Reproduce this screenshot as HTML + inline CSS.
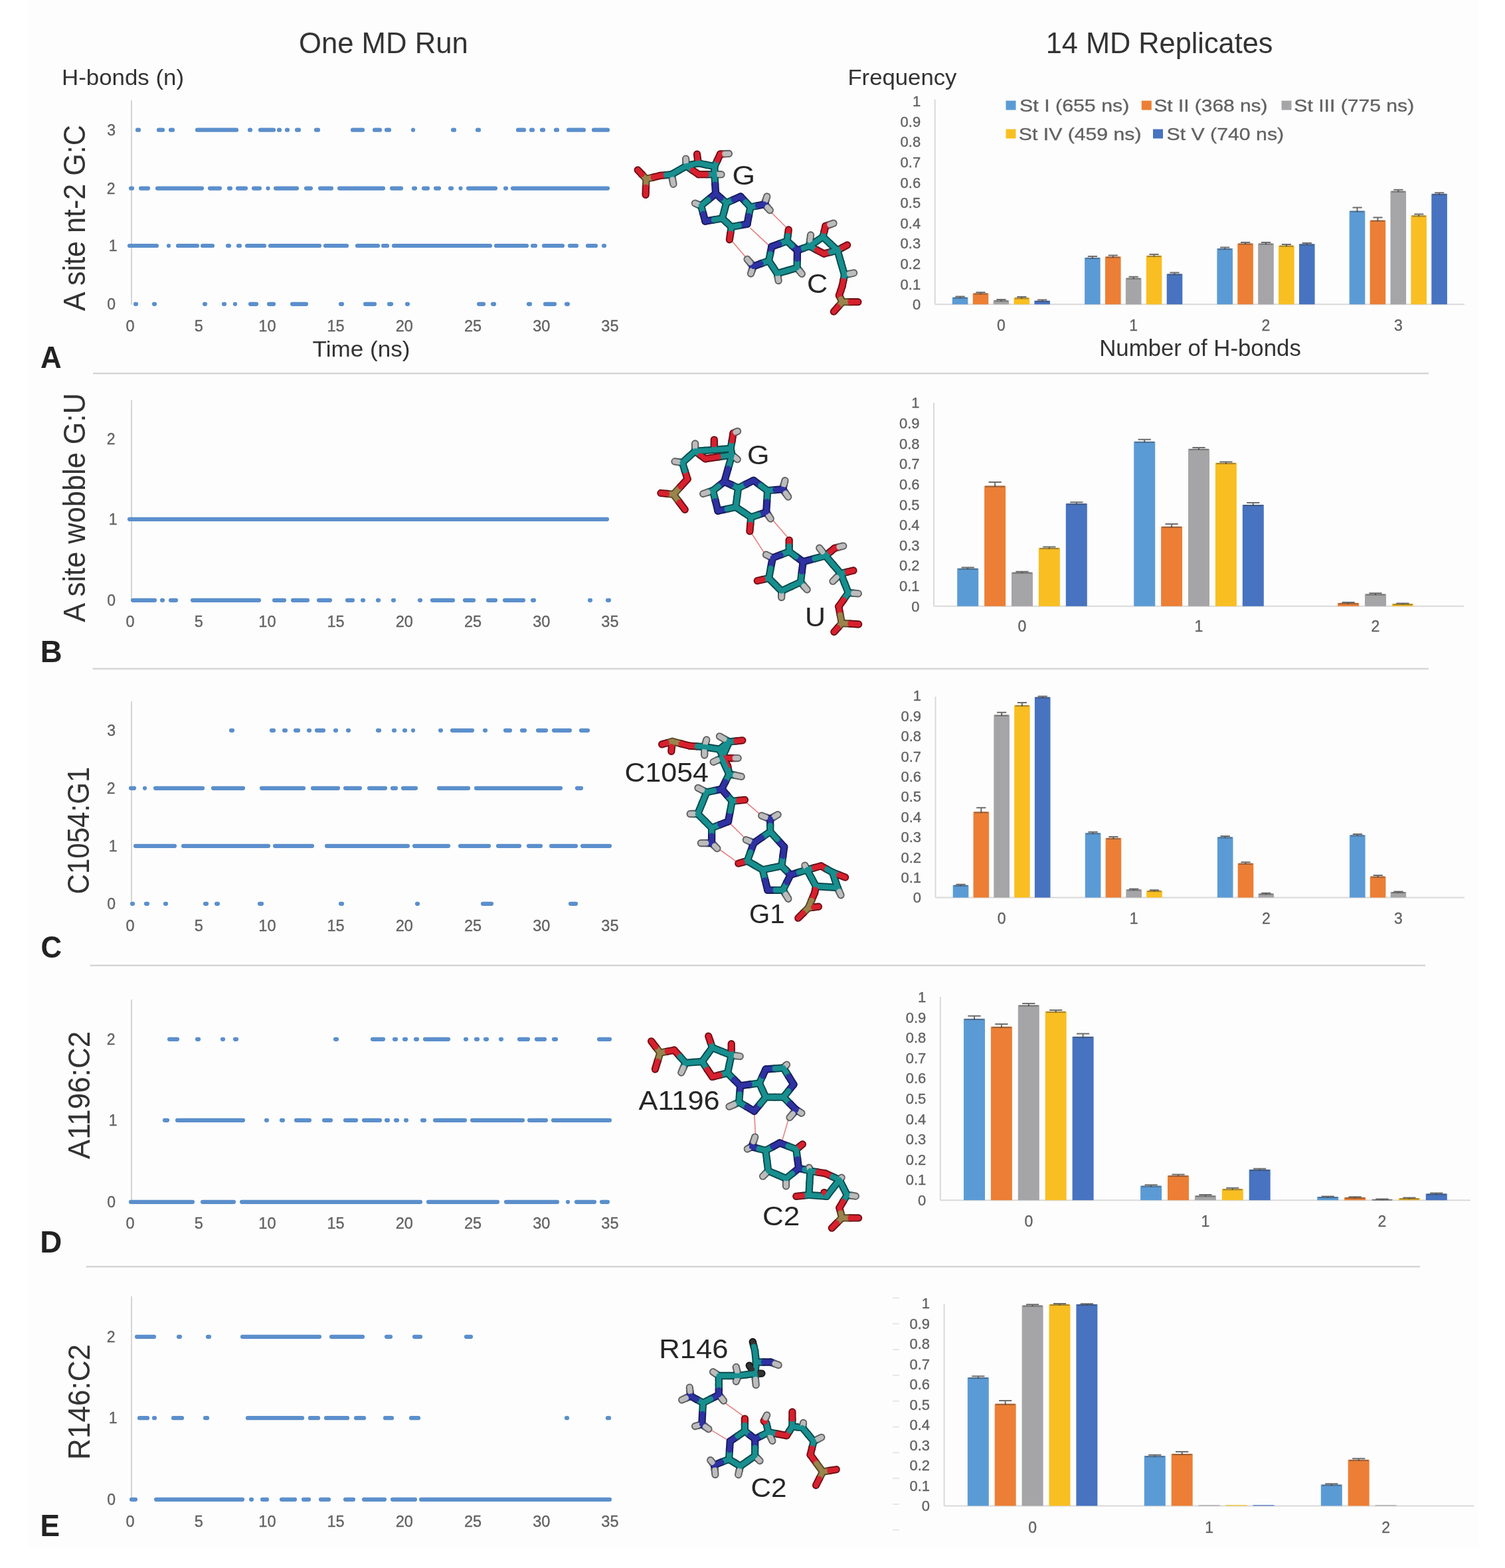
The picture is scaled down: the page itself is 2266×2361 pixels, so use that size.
<!DOCTYPE html>
<html><head><meta charset="utf-8"><title>H-bond analysis</title>
<style>
html,body{margin:0;padding:0;background:#ffffff;}
.tk{stroke:#626262;stroke-width:0.35px;}
svg{display:block;filter:blur(0.55px);font-family:"Liberation Sans",Arial,sans-serif;}
</style></head>
<body>
<svg xmlns="http://www.w3.org/2000/svg" width="2266" height="2361" viewBox="0 0 2266 2361">
<rect width="2266" height="2361" fill="#ffffff"/>
<rect x="42" y="0" width="2185" height="2332" fill="#fdfdfd"/>
<line x1="140" y1="562.3" x2="2151" y2="562.3" stroke="#d6d6d6" stroke-width="2.6"/>
<line x1="139.5" y1="1007" x2="2151" y2="1007" stroke="#d6d6d6" stroke-width="2.6"/>
<line x1="135.6" y1="1453.7" x2="2146" y2="1453.7" stroke="#d6d6d6" stroke-width="2.6"/>
<line x1="129.7" y1="1907.2" x2="2138" y2="1907.2" stroke="#d6d6d6" stroke-width="2.6"/>
<line x1="198" y1="151" x2="198" y2="458.8" stroke="#d4d4d4" stroke-width="2"/>
<text class="tk" x="196.0" y="498.5" font-size="23.5" fill="#626262" text-anchor="middle">0</text>
<text class="tk" x="299.2" y="498.5" font-size="23.5" fill="#626262" text-anchor="middle">5</text>
<text class="tk" x="402.4" y="498.5" font-size="23.5" fill="#626262" text-anchor="middle">10</text>
<text class="tk" x="505.6" y="498.5" font-size="23.5" fill="#626262" text-anchor="middle">15</text>
<text class="tk" x="608.8" y="498.5" font-size="23.5" fill="#626262" text-anchor="middle">20</text>
<text class="tk" x="712.0" y="498.5" font-size="23.5" fill="#626262" text-anchor="middle">25</text>
<text class="tk" x="815.2" y="498.5" font-size="23.5" fill="#626262" text-anchor="middle">30</text>
<text class="tk" x="918.4" y="498.5" font-size="23.5" fill="#626262" text-anchor="middle">35</text>
<g stroke="#5b8fcc" stroke-width="6.2" stroke-linecap="round">
<line x1="207.0" y1="195.7" x2="209.0" y2="195.7"/>
<line x1="239.0" y1="195.7" x2="245.0" y2="195.7"/>
<line x1="257.0" y1="195.7" x2="260.0" y2="195.7"/>
<line x1="297.0" y1="195.7" x2="356.0" y2="195.7"/>
<line x1="376.0" y1="195.7" x2="377.0" y2="195.7"/>
<line x1="392.0" y1="195.7" x2="412.0" y2="195.7"/>
<line x1="420.0" y1="195.7" x2="421.0" y2="195.7"/>
<line x1="432.0" y1="195.7" x2="433.0" y2="195.7"/>
<line x1="447.0" y1="195.7" x2="450.0" y2="195.7"/>
<line x1="476.0" y1="195.7" x2="479.0" y2="195.7"/>
<line x1="531.0" y1="195.7" x2="546.0" y2="195.7"/>
<line x1="564.0" y1="195.7" x2="572.0" y2="195.7"/>
<line x1="582.0" y1="195.7" x2="586.0" y2="195.7"/>
<line x1="622.0" y1="195.7" x2="622.0" y2="195.7"/>
<line x1="682.0" y1="195.7" x2="684.0" y2="195.7"/>
<line x1="719.0" y1="195.7" x2="721.0" y2="195.7"/>
<line x1="780.0" y1="195.7" x2="789.0" y2="195.7"/>
<line x1="800.0" y1="195.7" x2="802.0" y2="195.7"/>
<line x1="816.0" y1="195.7" x2="818.0" y2="195.7"/>
<line x1="837.0" y1="195.7" x2="839.0" y2="195.7"/>
<line x1="856.0" y1="195.7" x2="879.0" y2="195.7"/>
<line x1="894.0" y1="195.7" x2="915.0" y2="195.7"/>
<line x1="197.0" y1="283.6" x2="199.0" y2="283.6"/>
<line x1="212.0" y1="283.6" x2="223.0" y2="283.6"/>
<line x1="237.0" y1="283.6" x2="304.0" y2="283.6"/>
<line x1="316.0" y1="283.6" x2="331.0" y2="283.6"/>
<line x1="345.0" y1="283.6" x2="347.0" y2="283.6"/>
<line x1="358.0" y1="283.6" x2="370.0" y2="283.6"/>
<line x1="382.0" y1="283.6" x2="391.0" y2="283.6"/>
<line x1="403.5" y1="283.6" x2="403.5" y2="283.6"/>
<line x1="415.0" y1="283.6" x2="447.0" y2="283.6"/>
<line x1="461.0" y1="283.6" x2="468.0" y2="283.6"/>
<line x1="482.0" y1="283.6" x2="499.0" y2="283.6"/>
<line x1="511.0" y1="283.6" x2="577.0" y2="283.6"/>
<line x1="590.0" y1="283.6" x2="604.0" y2="283.6"/>
<line x1="623.0" y1="283.6" x2="625.0" y2="283.6"/>
<line x1="638.0" y1="283.6" x2="644.0" y2="283.6"/>
<line x1="656.0" y1="283.6" x2="661.0" y2="283.6"/>
<line x1="678.0" y1="283.6" x2="680.0" y2="283.6"/>
<line x1="693.5" y1="283.6" x2="693.5" y2="283.6"/>
<line x1="705.0" y1="283.6" x2="746.0" y2="283.6"/>
<line x1="761.0" y1="283.6" x2="762.0" y2="283.6"/>
<line x1="772.0" y1="283.6" x2="915.0" y2="283.6"/>
<line x1="195.0" y1="370.0" x2="236.0" y2="370.0"/>
<line x1="254.0" y1="370.0" x2="254.0" y2="370.0"/>
<line x1="268.0" y1="370.0" x2="297.0" y2="370.0"/>
<line x1="305.0" y1="370.0" x2="320.0" y2="370.0"/>
<line x1="343.0" y1="370.0" x2="345.0" y2="370.0"/>
<line x1="359.0" y1="370.0" x2="361.0" y2="370.0"/>
<line x1="372.0" y1="370.0" x2="398.0" y2="370.0"/>
<line x1="407.0" y1="370.0" x2="481.0" y2="370.0"/>
<line x1="490.0" y1="370.0" x2="522.0" y2="370.0"/>
<line x1="538.0" y1="370.0" x2="569.0" y2="370.0"/>
<line x1="577.0" y1="370.0" x2="583.0" y2="370.0"/>
<line x1="593.0" y1="370.0" x2="738.0" y2="370.0"/>
<line x1="747.0" y1="370.0" x2="793.0" y2="370.0"/>
<line x1="802.0" y1="370.0" x2="806.0" y2="370.0"/>
<line x1="819.0" y1="370.0" x2="847.0" y2="370.0"/>
<line x1="858.0" y1="370.0" x2="868.0" y2="370.0"/>
<line x1="885.0" y1="370.0" x2="897.0" y2="370.0"/>
<line x1="909.0" y1="370.0" x2="910.0" y2="370.0"/>
<line x1="204.0" y1="457.8" x2="205.0" y2="457.8"/>
<line x1="232.0" y1="457.8" x2="233.0" y2="457.8"/>
<line x1="308.0" y1="457.8" x2="309.0" y2="457.8"/>
<line x1="337.0" y1="457.8" x2="338.0" y2="457.8"/>
<line x1="354.0" y1="457.8" x2="354.0" y2="457.8"/>
<line x1="377.0" y1="457.8" x2="386.0" y2="457.8"/>
<line x1="405.0" y1="457.8" x2="412.0" y2="457.8"/>
<line x1="440.0" y1="457.8" x2="461.0" y2="457.8"/>
<line x1="513.0" y1="457.8" x2="515.0" y2="457.8"/>
<line x1="550.0" y1="457.8" x2="564.0" y2="457.8"/>
<line x1="586.0" y1="457.8" x2="589.0" y2="457.8"/>
<line x1="613.0" y1="457.8" x2="614.0" y2="457.8"/>
<line x1="721.0" y1="457.8" x2="728.0" y2="457.8"/>
<line x1="742.0" y1="457.8" x2="744.0" y2="457.8"/>
<line x1="796.0" y1="457.8" x2="798.0" y2="457.8"/>
<line x1="821.0" y1="457.8" x2="835.0" y2="457.8"/>
<line x1="853.0" y1="457.8" x2="855.0" y2="457.8"/>
</g>
<line x1="198" y1="602.5" x2="198" y2="904.8" stroke="#d4d4d4" stroke-width="2"/>
<text class="tk" x="196.0" y="944.0" font-size="23.5" fill="#626262" text-anchor="middle">0</text>
<text class="tk" x="299.2" y="944.0" font-size="23.5" fill="#626262" text-anchor="middle">5</text>
<text class="tk" x="402.4" y="944.0" font-size="23.5" fill="#626262" text-anchor="middle">10</text>
<text class="tk" x="505.6" y="944.0" font-size="23.5" fill="#626262" text-anchor="middle">15</text>
<text class="tk" x="608.8" y="944.0" font-size="23.5" fill="#626262" text-anchor="middle">20</text>
<text class="tk" x="712.0" y="944.0" font-size="23.5" fill="#626262" text-anchor="middle">25</text>
<text class="tk" x="815.2" y="944.0" font-size="23.5" fill="#626262" text-anchor="middle">30</text>
<text class="tk" x="918.4" y="944.0" font-size="23.5" fill="#626262" text-anchor="middle">35</text>
<g stroke="#5b8fcc" stroke-width="6.2" stroke-linecap="round">
<line x1="195.0" y1="781.8" x2="914.0" y2="781.8"/>
<line x1="200.0" y1="903.8" x2="233.0" y2="903.8"/>
<line x1="244.0" y1="903.8" x2="245.0" y2="903.8"/>
<line x1="257.0" y1="903.8" x2="265.0" y2="903.8"/>
<line x1="290.0" y1="903.8" x2="390.0" y2="903.8"/>
<line x1="413.0" y1="903.8" x2="428.0" y2="903.8"/>
<line x1="441.0" y1="903.8" x2="463.0" y2="903.8"/>
<line x1="480.0" y1="903.8" x2="497.0" y2="903.8"/>
<line x1="523.0" y1="903.8" x2="531.0" y2="903.8"/>
<line x1="546.0" y1="903.8" x2="547.0" y2="903.8"/>
<line x1="569.0" y1="903.8" x2="570.0" y2="903.8"/>
<line x1="592.0" y1="903.8" x2="593.0" y2="903.8"/>
<line x1="632.0" y1="903.8" x2="633.0" y2="903.8"/>
<line x1="651.0" y1="903.8" x2="682.0" y2="903.8"/>
<line x1="700.0" y1="903.8" x2="713.0" y2="903.8"/>
<line x1="735.0" y1="903.8" x2="746.0" y2="903.8"/>
<line x1="760.0" y1="903.8" x2="788.0" y2="903.8"/>
<line x1="802.0" y1="903.8" x2="804.0" y2="903.8"/>
<line x1="888.0" y1="903.8" x2="889.0" y2="903.8"/>
<line x1="915.0" y1="903.8" x2="917.0" y2="903.8"/>
</g>
<line x1="198" y1="1056" x2="198" y2="1361.8" stroke="#d4d4d4" stroke-width="2"/>
<text class="tk" x="196.0" y="1401.5" font-size="23.5" fill="#626262" text-anchor="middle">0</text>
<text class="tk" x="299.2" y="1401.5" font-size="23.5" fill="#626262" text-anchor="middle">5</text>
<text class="tk" x="402.4" y="1401.5" font-size="23.5" fill="#626262" text-anchor="middle">10</text>
<text class="tk" x="505.6" y="1401.5" font-size="23.5" fill="#626262" text-anchor="middle">15</text>
<text class="tk" x="608.8" y="1401.5" font-size="23.5" fill="#626262" text-anchor="middle">20</text>
<text class="tk" x="712.0" y="1401.5" font-size="23.5" fill="#626262" text-anchor="middle">25</text>
<text class="tk" x="815.2" y="1401.5" font-size="23.5" fill="#626262" text-anchor="middle">30</text>
<text class="tk" x="918.4" y="1401.5" font-size="23.5" fill="#626262" text-anchor="middle">35</text>
<g stroke="#5b8fcc" stroke-width="6.2" stroke-linecap="round">
<line x1="348.0" y1="1099.8" x2="350.0" y2="1099.8"/>
<line x1="409.0" y1="1099.8" x2="412.0" y2="1099.8"/>
<line x1="428.0" y1="1099.8" x2="430.0" y2="1099.8"/>
<line x1="445.0" y1="1099.8" x2="449.0" y2="1099.8"/>
<line x1="465.0" y1="1099.8" x2="466.0" y2="1099.8"/>
<line x1="477.0" y1="1099.8" x2="487.0" y2="1099.8"/>
<line x1="505.0" y1="1099.8" x2="506.0" y2="1099.8"/>
<line x1="524.0" y1="1099.8" x2="525.0" y2="1099.8"/>
<line x1="569.0" y1="1099.8" x2="571.0" y2="1099.8"/>
<line x1="593.0" y1="1099.8" x2="594.0" y2="1099.8"/>
<line x1="609.0" y1="1099.8" x2="610.0" y2="1099.8"/>
<line x1="622.0" y1="1099.8" x2="622.0" y2="1099.8"/>
<line x1="663.0" y1="1099.8" x2="664.0" y2="1099.8"/>
<line x1="681.0" y1="1099.8" x2="711.0" y2="1099.8"/>
<line x1="730.0" y1="1099.8" x2="731.0" y2="1099.8"/>
<line x1="761.0" y1="1099.8" x2="768.0" y2="1099.8"/>
<line x1="786.0" y1="1099.8" x2="790.0" y2="1099.8"/>
<line x1="810.0" y1="1099.8" x2="822.0" y2="1099.8"/>
<line x1="834.0" y1="1099.8" x2="858.0" y2="1099.8"/>
<line x1="875.0" y1="1099.8" x2="885.0" y2="1099.8"/>
<line x1="197.0" y1="1186.8" x2="202.0" y2="1186.8"/>
<line x1="218.0" y1="1186.8" x2="218.0" y2="1186.8"/>
<line x1="234.0" y1="1186.8" x2="305.0" y2="1186.8"/>
<line x1="321.0" y1="1186.8" x2="366.0" y2="1186.8"/>
<line x1="394.0" y1="1186.8" x2="457.0" y2="1186.8"/>
<line x1="471.0" y1="1186.8" x2="509.0" y2="1186.8"/>
<line x1="520.0" y1="1186.8" x2="542.0" y2="1186.8"/>
<line x1="556.0" y1="1186.8" x2="580.0" y2="1186.8"/>
<line x1="591.0" y1="1186.8" x2="596.0" y2="1186.8"/>
<line x1="607.0" y1="1186.8" x2="626.0" y2="1186.8"/>
<line x1="661.0" y1="1186.8" x2="705.0" y2="1186.8"/>
<line x1="717.0" y1="1186.8" x2="844.0" y2="1186.8"/>
<line x1="869.0" y1="1186.8" x2="875.0" y2="1186.8"/>
<line x1="204.0" y1="1273.8" x2="263.0" y2="1273.8"/>
<line x1="276.0" y1="1273.8" x2="404.0" y2="1273.8"/>
<line x1="414.0" y1="1273.8" x2="470.0" y2="1273.8"/>
<line x1="492.0" y1="1273.8" x2="614.0" y2="1273.8"/>
<line x1="624.0" y1="1273.8" x2="675.0" y2="1273.8"/>
<line x1="693.0" y1="1273.8" x2="736.0" y2="1273.8"/>
<line x1="750.0" y1="1273.8" x2="782.0" y2="1273.8"/>
<line x1="796.0" y1="1273.8" x2="814.0" y2="1273.8"/>
<line x1="830.0" y1="1273.8" x2="867.0" y2="1273.8"/>
<line x1="877.0" y1="1273.8" x2="918.0" y2="1273.8"/>
<line x1="199.0" y1="1360.8" x2="200.0" y2="1360.8"/>
<line x1="220.0" y1="1360.8" x2="222.0" y2="1360.8"/>
<line x1="249.0" y1="1360.8" x2="250.0" y2="1360.8"/>
<line x1="309.0" y1="1360.8" x2="311.0" y2="1360.8"/>
<line x1="326.0" y1="1360.8" x2="328.0" y2="1360.8"/>
<line x1="391.0" y1="1360.8" x2="394.0" y2="1360.8"/>
<line x1="513.0" y1="1360.8" x2="515.0" y2="1360.8"/>
<line x1="628.0" y1="1360.8" x2="629.0" y2="1360.8"/>
<line x1="727.0" y1="1360.8" x2="740.0" y2="1360.8"/>
<line x1="859.0" y1="1360.8" x2="867.0" y2="1360.8"/>
</g>
<line x1="198" y1="1505" x2="198" y2="1810.8" stroke="#d4d4d4" stroke-width="2"/>
<text class="tk" x="196.0" y="1850.0" font-size="23.5" fill="#626262" text-anchor="middle">0</text>
<text class="tk" x="299.2" y="1850.0" font-size="23.5" fill="#626262" text-anchor="middle">5</text>
<text class="tk" x="402.4" y="1850.0" font-size="23.5" fill="#626262" text-anchor="middle">10</text>
<text class="tk" x="505.6" y="1850.0" font-size="23.5" fill="#626262" text-anchor="middle">15</text>
<text class="tk" x="608.8" y="1850.0" font-size="23.5" fill="#626262" text-anchor="middle">20</text>
<text class="tk" x="712.0" y="1850.0" font-size="23.5" fill="#626262" text-anchor="middle">25</text>
<text class="tk" x="815.2" y="1850.0" font-size="23.5" fill="#626262" text-anchor="middle">30</text>
<text class="tk" x="918.4" y="1850.0" font-size="23.5" fill="#626262" text-anchor="middle">35</text>
<g stroke="#5b8fcc" stroke-width="6.2" stroke-linecap="round">
<line x1="255.0" y1="1564.8" x2="267.0" y2="1564.8"/>
<line x1="297.0" y1="1564.8" x2="299.0" y2="1564.8"/>
<line x1="335.0" y1="1564.8" x2="336.0" y2="1564.8"/>
<line x1="354.0" y1="1564.8" x2="356.0" y2="1564.8"/>
<line x1="505.0" y1="1564.8" x2="507.0" y2="1564.8"/>
<line x1="561.0" y1="1564.8" x2="577.0" y2="1564.8"/>
<line x1="594.0" y1="1564.8" x2="596.0" y2="1564.8"/>
<line x1="609.0" y1="1564.8" x2="611.0" y2="1564.8"/>
<line x1="626.0" y1="1564.8" x2="628.0" y2="1564.8"/>
<line x1="640.0" y1="1564.8" x2="675.0" y2="1564.8"/>
<line x1="701.0" y1="1564.8" x2="702.0" y2="1564.8"/>
<line x1="717.0" y1="1564.8" x2="719.0" y2="1564.8"/>
<line x1="731.0" y1="1564.8" x2="733.0" y2="1564.8"/>
<line x1="754.0" y1="1564.8" x2="755.0" y2="1564.8"/>
<line x1="782.0" y1="1564.8" x2="795.0" y2="1564.8"/>
<line x1="808.0" y1="1564.8" x2="820.0" y2="1564.8"/>
<line x1="834.0" y1="1564.8" x2="837.0" y2="1564.8"/>
<line x1="902.0" y1="1564.8" x2="918.0" y2="1564.8"/>
<line x1="248.0" y1="1686.8" x2="252.0" y2="1686.8"/>
<line x1="267.0" y1="1686.8" x2="366.0" y2="1686.8"/>
<line x1="401.0" y1="1686.8" x2="402.0" y2="1686.8"/>
<line x1="424.0" y1="1686.8" x2="426.0" y2="1686.8"/>
<line x1="446.0" y1="1686.8" x2="466.0" y2="1686.8"/>
<line x1="488.0" y1="1686.8" x2="498.0" y2="1686.8"/>
<line x1="520.0" y1="1686.8" x2="536.0" y2="1686.8"/>
<line x1="548.0" y1="1686.8" x2="572.0" y2="1686.8"/>
<line x1="582.0" y1="1686.8" x2="584.0" y2="1686.8"/>
<line x1="596.0" y1="1686.8" x2="598.0" y2="1686.8"/>
<line x1="611.0" y1="1686.8" x2="612.0" y2="1686.8"/>
<line x1="636.0" y1="1686.8" x2="639.0" y2="1686.8"/>
<line x1="655.0" y1="1686.8" x2="700.0" y2="1686.8"/>
<line x1="711.0" y1="1686.8" x2="787.0" y2="1686.8"/>
<line x1="797.0" y1="1686.8" x2="822.0" y2="1686.8"/>
<line x1="833.0" y1="1686.8" x2="918.0" y2="1686.8"/>
<line x1="197.0" y1="1809.8" x2="290.0" y2="1809.8"/>
<line x1="305.0" y1="1809.8" x2="352.0" y2="1809.8"/>
<line x1="364.0" y1="1809.8" x2="633.0" y2="1809.8"/>
<line x1="645.0" y1="1809.8" x2="749.0" y2="1809.8"/>
<line x1="762.0" y1="1809.8" x2="839.0" y2="1809.8"/>
<line x1="855.0" y1="1809.8" x2="855.0" y2="1809.8"/>
<line x1="868.0" y1="1809.8" x2="895.0" y2="1809.8"/>
<line x1="906.0" y1="1809.8" x2="915.0" y2="1809.8"/>
</g>
<line x1="198" y1="1952" x2="198" y2="2258.8" stroke="#d4d4d4" stroke-width="2"/>
<text class="tk" x="196.0" y="2299.0" font-size="23.5" fill="#626262" text-anchor="middle">0</text>
<text class="tk" x="299.2" y="2299.0" font-size="23.5" fill="#626262" text-anchor="middle">5</text>
<text class="tk" x="402.4" y="2299.0" font-size="23.5" fill="#626262" text-anchor="middle">10</text>
<text class="tk" x="505.6" y="2299.0" font-size="23.5" fill="#626262" text-anchor="middle">15</text>
<text class="tk" x="608.8" y="2299.0" font-size="23.5" fill="#626262" text-anchor="middle">20</text>
<text class="tk" x="712.0" y="2299.0" font-size="23.5" fill="#626262" text-anchor="middle">25</text>
<text class="tk" x="815.2" y="2299.0" font-size="23.5" fill="#626262" text-anchor="middle">30</text>
<text class="tk" x="918.4" y="2299.0" font-size="23.5" fill="#626262" text-anchor="middle">35</text>
<g stroke="#5b8fcc" stroke-width="6.2" stroke-linecap="round">
<line x1="206.0" y1="2012.8" x2="232.0" y2="2012.8"/>
<line x1="269.0" y1="2012.8" x2="271.0" y2="2012.8"/>
<line x1="313.0" y1="2012.8" x2="315.0" y2="2012.8"/>
<line x1="365.0" y1="2012.8" x2="481.0" y2="2012.8"/>
<line x1="499.0" y1="2012.8" x2="546.0" y2="2012.8"/>
<line x1="582.0" y1="2012.8" x2="588.0" y2="2012.8"/>
<line x1="624.0" y1="2012.8" x2="633.0" y2="2012.8"/>
<line x1="702.0" y1="2012.8" x2="709.0" y2="2012.8"/>
<line x1="210.0" y1="2135.2" x2="222.0" y2="2135.2"/>
<line x1="232.0" y1="2135.2" x2="233.0" y2="2135.2"/>
<line x1="261.0" y1="2135.2" x2="274.0" y2="2135.2"/>
<line x1="309.0" y1="2135.2" x2="312.0" y2="2135.2"/>
<line x1="373.0" y1="2135.2" x2="455.0" y2="2135.2"/>
<line x1="467.0" y1="2135.2" x2="479.0" y2="2135.2"/>
<line x1="491.0" y1="2135.2" x2="523.0" y2="2135.2"/>
<line x1="536.0" y1="2135.2" x2="548.0" y2="2135.2"/>
<line x1="580.0" y1="2135.2" x2="590.0" y2="2135.2"/>
<line x1="619.0" y1="2135.2" x2="630.0" y2="2135.2"/>
<line x1="853.0" y1="2135.2" x2="854.0" y2="2135.2"/>
<line x1="915.0" y1="2135.2" x2="917.0" y2="2135.2"/>
<line x1="198.0" y1="2257.8" x2="204.0" y2="2257.8"/>
<line x1="235.0" y1="2257.8" x2="365.0" y2="2257.8"/>
<line x1="378.0" y1="2257.8" x2="379.0" y2="2257.8"/>
<line x1="395.0" y1="2257.8" x2="402.0" y2="2257.8"/>
<line x1="424.0" y1="2257.8" x2="444.0" y2="2257.8"/>
<line x1="457.0" y1="2257.8" x2="465.0" y2="2257.8"/>
<line x1="483.0" y1="2257.8" x2="495.0" y2="2257.8"/>
<line x1="520.0" y1="2257.8" x2="532.0" y2="2257.8"/>
<line x1="548.0" y1="2257.8" x2="579.0" y2="2257.8"/>
<line x1="591.0" y1="2257.8" x2="625.0" y2="2257.8"/>
<line x1="634.0" y1="2257.8" x2="918.0" y2="2257.8"/>
</g>
<line x1="1407.7" y1="458.3" x2="2205" y2="458.3" stroke="#d9d9d9" stroke-width="2"/>
<line x1="1407.7" y1="150" x2="1407.7" y2="458.3" stroke="#d9d9d9" stroke-width="2"/>
<text class="tk" x="1386.2" y="466.1" font-size="22" fill="#626262" text-anchor="end">0</text>
<text class="tk" x="1386.2" y="435.5" font-size="22" fill="#626262" text-anchor="end">0.1</text>
<text class="tk" x="1386.2" y="404.9" font-size="22" fill="#626262" text-anchor="end">0.2</text>
<text class="tk" x="1386.2" y="374.3" font-size="22" fill="#626262" text-anchor="end">0.3</text>
<text class="tk" x="1386.2" y="343.7" font-size="22" fill="#626262" text-anchor="end">0.4</text>
<text class="tk" x="1386.2" y="313.1" font-size="22" fill="#626262" text-anchor="end">0.5</text>
<text class="tk" x="1386.2" y="282.5" font-size="22" fill="#626262" text-anchor="end">0.6</text>
<text class="tk" x="1386.2" y="251.9" font-size="22" fill="#626262" text-anchor="end">0.7</text>
<text class="tk" x="1386.2" y="221.3" font-size="22" fill="#626262" text-anchor="end">0.8</text>
<text class="tk" x="1386.2" y="190.7" font-size="22" fill="#626262" text-anchor="end">0.9</text>
<text class="tk" x="1386.2" y="160.1" font-size="22" fill="#626262" text-anchor="end">1</text>
<text class="tk" x="1507.4" y="497.5" font-size="23" fill="#626262" text-anchor="middle">0</text>
<rect x="1433.8" y="447.6" width="23.6" height="10.7" fill="#5b9bd5"/>
<path d="M1438.5 446.4h14.2M1445.6 446.4v2.7" stroke="#3c3c3c" stroke-width="2" fill="none" opacity="0.75"/>
<rect x="1435.3" y="447.6" width="20.6" height="2.2" fill="#404040" opacity="0.45"/>
<rect x="1464.7" y="441.5" width="23.6" height="16.8" fill="#ec7f35"/>
<path d="M1469.4 440.2h14.2M1476.5 440.2v2.7" stroke="#3c3c3c" stroke-width="2" fill="none" opacity="0.75"/>
<rect x="1466.2" y="441.5" width="20.6" height="2.2" fill="#404040" opacity="0.45"/>
<rect x="1495.6" y="452.2" width="23.6" height="6.1" fill="#a5a5a7"/>
<path d="M1500.3 451.0h14.2M1507.4 451.0v2.7" stroke="#3c3c3c" stroke-width="2" fill="none" opacity="0.75"/>
<rect x="1497.1" y="452.2" width="20.6" height="2.2" fill="#404040" opacity="0.45"/>
<rect x="1526.5" y="448.2" width="23.6" height="10.1" fill="#f9bf22"/>
<path d="M1531.2 447.0h14.2M1538.3 447.0v2.7" stroke="#3c3c3c" stroke-width="2" fill="none" opacity="0.75"/>
<rect x="1528.0" y="448.2" width="20.6" height="2.2" fill="#404040" opacity="0.45"/>
<rect x="1557.4" y="452.8" width="23.6" height="5.5" fill="#4773c0"/>
<path d="M1562.1 451.6h14.2M1569.2 451.6v2.7" stroke="#3c3c3c" stroke-width="2" fill="none" opacity="0.75"/>
<rect x="1558.9" y="452.8" width="20.6" height="2.2" fill="#404040" opacity="0.45"/>
<text class="tk" x="1706.7" y="497.5" font-size="23" fill="#626262" text-anchor="middle">1</text>
<rect x="1633.1" y="387.9" width="23.6" height="70.4" fill="#5b9bd5"/>
<path d="M1637.8 386.1h14.2M1644.9 386.1v3.3" stroke="#3c3c3c" stroke-width="2" fill="none" opacity="0.75"/>
<rect x="1634.6" y="387.9" width="20.6" height="2.2" fill="#404040" opacity="0.45"/>
<rect x="1664.0" y="386.4" width="23.6" height="71.9" fill="#ec7f35"/>
<path d="M1668.7 384.6h14.2M1675.8 384.6v3.3" stroke="#3c3c3c" stroke-width="2" fill="none" opacity="0.75"/>
<rect x="1665.5" y="386.4" width="20.6" height="2.2" fill="#404040" opacity="0.45"/>
<rect x="1694.9" y="418.5" width="23.6" height="39.8" fill="#a5a5a7"/>
<path d="M1699.6 416.7h14.2M1706.7 416.7v3.3" stroke="#3c3c3c" stroke-width="2" fill="none" opacity="0.75"/>
<rect x="1696.4" y="418.5" width="20.6" height="2.2" fill="#404040" opacity="0.45"/>
<rect x="1725.8" y="384.9" width="23.6" height="73.4" fill="#f9bf22"/>
<path d="M1730.5 383.0h14.2M1737.6 383.0v3.3" stroke="#3c3c3c" stroke-width="2" fill="none" opacity="0.75"/>
<rect x="1727.3" y="384.9" width="20.6" height="2.2" fill="#404040" opacity="0.45"/>
<rect x="1756.7" y="412.4" width="23.6" height="45.9" fill="#4773c0"/>
<path d="M1761.4 410.6h14.2M1768.5 410.6v3.3" stroke="#3c3c3c" stroke-width="2" fill="none" opacity="0.75"/>
<rect x="1758.2" y="412.4" width="20.6" height="2.2" fill="#404040" opacity="0.45"/>
<text class="tk" x="1906.0" y="497.5" font-size="23" fill="#626262" text-anchor="middle">2</text>
<rect x="1832.4" y="374.1" width="23.6" height="84.2" fill="#5b9bd5"/>
<path d="M1837.1 372.6h14.2M1844.2 372.6v3.0" stroke="#3c3c3c" stroke-width="2" fill="none" opacity="0.75"/>
<rect x="1833.9" y="374.1" width="20.6" height="2.2" fill="#404040" opacity="0.45"/>
<rect x="1863.3" y="366.5" width="23.6" height="91.8" fill="#ec7f35"/>
<path d="M1868.0 365.0h14.2M1875.1 365.0v3.0" stroke="#3c3c3c" stroke-width="2" fill="none" opacity="0.75"/>
<rect x="1864.8" y="366.5" width="20.6" height="2.2" fill="#404040" opacity="0.45"/>
<rect x="1894.2" y="366.5" width="23.6" height="91.8" fill="#a5a5a7"/>
<path d="M1898.9 365.0h14.2M1906.0 365.0v3.0" stroke="#3c3c3c" stroke-width="2" fill="none" opacity="0.75"/>
<rect x="1895.7" y="366.5" width="20.6" height="2.2" fill="#404040" opacity="0.45"/>
<rect x="1925.1" y="369.6" width="23.6" height="88.7" fill="#f9bf22"/>
<path d="M1929.8 368.0h14.2M1936.9 368.0v3.0" stroke="#3c3c3c" stroke-width="2" fill="none" opacity="0.75"/>
<rect x="1926.6" y="369.6" width="20.6" height="2.2" fill="#404040" opacity="0.45"/>
<rect x="1956.0" y="367.4" width="23.6" height="90.9" fill="#4773c0"/>
<path d="M1960.7 365.9h14.2M1967.8 365.9v3.0" stroke="#3c3c3c" stroke-width="2" fill="none" opacity="0.75"/>
<rect x="1957.5" y="367.4" width="20.6" height="2.2" fill="#404040" opacity="0.45"/>
<text class="tk" x="2105.3" y="497.5" font-size="23" fill="#626262" text-anchor="middle">3</text>
<rect x="2031.7" y="317.5" width="23.6" height="140.8" fill="#5b9bd5"/>
<path d="M2036.5 312.6h14.2M2043.5 312.6v6.4" stroke="#3c3c3c" stroke-width="2" fill="none" opacity="0.75"/>
<rect x="2033.2" y="317.5" width="20.6" height="2.2" fill="#404040" opacity="0.45"/>
<rect x="2062.6" y="331.6" width="23.6" height="126.7" fill="#ec7f35"/>
<path d="M2067.4 327.6h14.2M2074.4 327.6v5.5" stroke="#3c3c3c" stroke-width="2" fill="none" opacity="0.75"/>
<rect x="2064.1" y="331.6" width="20.6" height="2.2" fill="#404040" opacity="0.45"/>
<rect x="2093.5" y="287.6" width="23.6" height="170.7" fill="#a5a5a7"/>
<path d="M2098.3 285.7h14.2M2105.3 285.7v3.3" stroke="#3c3c3c" stroke-width="2" fill="none" opacity="0.75"/>
<rect x="2095.0" y="287.6" width="20.6" height="2.2" fill="#404040" opacity="0.45"/>
<rect x="2124.4" y="324.3" width="23.6" height="134.0" fill="#f9bf22"/>
<path d="M2129.2 322.4h14.2M2136.2 322.4v3.3" stroke="#3c3c3c" stroke-width="2" fill="none" opacity="0.75"/>
<rect x="2125.9" y="324.3" width="20.6" height="2.2" fill="#404040" opacity="0.45"/>
<rect x="2155.3" y="291.8" width="23.6" height="166.5" fill="#4773c0"/>
<path d="M2160.1 290.3h14.2M2167.1 290.3v3.0" stroke="#3c3c3c" stroke-width="2" fill="none" opacity="0.75"/>
<rect x="2156.8" y="291.8" width="20.6" height="2.2" fill="#404040" opacity="0.45"/>
<line x1="1406" y1="912.8" x2="2204" y2="912.8" stroke="#d9d9d9" stroke-width="2"/>
<line x1="1406" y1="606.6" x2="1406" y2="912.8" stroke="#d9d9d9" stroke-width="2"/>
<text class="tk" x="1384.5" y="920.6" font-size="22" fill="#626262" text-anchor="end">0</text>
<text class="tk" x="1384.5" y="890.0" font-size="22" fill="#626262" text-anchor="end">0.1</text>
<text class="tk" x="1384.5" y="859.4" font-size="22" fill="#626262" text-anchor="end">0.2</text>
<text class="tk" x="1384.5" y="828.7" font-size="22" fill="#626262" text-anchor="end">0.3</text>
<text class="tk" x="1384.5" y="798.1" font-size="22" fill="#626262" text-anchor="end">0.4</text>
<text class="tk" x="1384.5" y="767.5" font-size="22" fill="#626262" text-anchor="end">0.5</text>
<text class="tk" x="1384.5" y="736.9" font-size="22" fill="#626262" text-anchor="end">0.6</text>
<text class="tk" x="1384.5" y="706.3" font-size="22" fill="#626262" text-anchor="end">0.7</text>
<text class="tk" x="1384.5" y="675.6" font-size="22" fill="#626262" text-anchor="end">0.8</text>
<text class="tk" x="1384.5" y="645.0" font-size="22" fill="#626262" text-anchor="end">0.9</text>
<text class="tk" x="1384.5" y="614.4" font-size="22" fill="#626262" text-anchor="end">1</text>
<text class="tk" x="1539.0" y="951.0" font-size="23" fill="#626262" text-anchor="middle">0</text>
<rect x="1441.2" y="855.8" width="32" height="57.0" fill="#5b9bd5"/>
<path d="M1447.6 854.6h19.2M1457.2 854.6v2.7" stroke="#3c3c3c" stroke-width="2" fill="none" opacity="0.75"/>
<rect x="1442.7" y="855.8" width="29.0" height="2.2" fill="#404040" opacity="0.45"/>
<rect x="1482.1" y="731.5" width="32" height="181.3" fill="#ec7f35"/>
<path d="M1488.5 726.0h19.2M1498.1 726.0v7.0" stroke="#3c3c3c" stroke-width="2" fill="none" opacity="0.75"/>
<rect x="1483.6" y="731.5" width="29.0" height="2.2" fill="#404040" opacity="0.45"/>
<rect x="1523.0" y="861.7" width="32" height="51.1" fill="#a5a5a7"/>
<path d="M1529.4 860.7h19.2M1539.0 860.7v2.4" stroke="#3c3c3c" stroke-width="2" fill="none" opacity="0.75"/>
<rect x="1524.5" y="861.7" width="29.0" height="2.2" fill="#404040" opacity="0.45"/>
<rect x="1563.9" y="824.9" width="32" height="87.9" fill="#f9bf22"/>
<path d="M1570.3 823.4h19.2M1579.9 823.4v3.0" stroke="#3c3c3c" stroke-width="2" fill="none" opacity="0.75"/>
<rect x="1565.4" y="824.9" width="29.0" height="2.2" fill="#404040" opacity="0.45"/>
<rect x="1604.8" y="758.2" width="32" height="154.6" fill="#4773c0"/>
<path d="M1611.2 756.3h19.2M1620.8 756.3v3.3" stroke="#3c3c3c" stroke-width="2" fill="none" opacity="0.75"/>
<rect x="1606.3" y="758.2" width="29.0" height="2.2" fill="#404040" opacity="0.45"/>
<text class="tk" x="1805.0" y="951.0" font-size="23" fill="#626262" text-anchor="middle">1</text>
<rect x="1707.2" y="664.8" width="32" height="248.0" fill="#5b9bd5"/>
<path d="M1713.6 661.7h19.2M1723.2 661.7v4.6" stroke="#3c3c3c" stroke-width="2" fill="none" opacity="0.75"/>
<rect x="1708.7" y="664.8" width="29.0" height="2.2" fill="#404040" opacity="0.45"/>
<rect x="1748.1" y="792.8" width="32" height="120.0" fill="#ec7f35"/>
<path d="M1754.5 789.1h19.2M1764.1 789.1v5.2" stroke="#3c3c3c" stroke-width="2" fill="none" opacity="0.75"/>
<rect x="1749.6" y="792.8" width="29.0" height="2.2" fill="#404040" opacity="0.45"/>
<rect x="1789.0" y="675.8" width="32" height="237.0" fill="#a5a5a7"/>
<path d="M1795.4 674.0h19.2M1805.0 674.0v3.3" stroke="#3c3c3c" stroke-width="2" fill="none" opacity="0.75"/>
<rect x="1790.5" y="675.8" width="29.0" height="2.2" fill="#404040" opacity="0.45"/>
<rect x="1829.9" y="696.9" width="32" height="215.9" fill="#f9bf22"/>
<path d="M1836.3 695.4h19.2M1845.9 695.4v3.0" stroke="#3c3c3c" stroke-width="2" fill="none" opacity="0.75"/>
<rect x="1831.4" y="696.9" width="29.0" height="2.2" fill="#404040" opacity="0.45"/>
<rect x="1870.8" y="760.0" width="32" height="152.8" fill="#4773c0"/>
<path d="M1877.2 756.9h19.2M1886.8 756.9v4.6" stroke="#3c3c3c" stroke-width="2" fill="none" opacity="0.75"/>
<rect x="1872.3" y="760.0" width="29.0" height="2.2" fill="#404040" opacity="0.45"/>
<text class="tk" x="2071.0" y="951.0" font-size="23" fill="#626262" text-anchor="middle">2</text>
<rect x="2014.1" y="907.9" width="32" height="4.9" fill="#ec7f35"/>
<path d="M2020.5 907.0h19.2M2030.1 907.0v2.4" stroke="#3c3c3c" stroke-width="2" fill="none" opacity="0.75"/>
<rect x="2015.6" y="907.9" width="29.0" height="2.2" fill="#404040" opacity="0.45"/>
<rect x="2055.0" y="894.4" width="32" height="18.4" fill="#a5a5a7"/>
<path d="M2061.4 893.2h19.2M2071.0 893.2v2.7" stroke="#3c3c3c" stroke-width="2" fill="none" opacity="0.75"/>
<rect x="2056.5" y="894.4" width="29.0" height="2.2" fill="#404040" opacity="0.45"/>
<rect x="2095.9" y="909.1" width="32" height="3.7" fill="#f9bf22"/>
<path d="M2102.3 908.5h19.2M2111.9 908.5v2.1" stroke="#3c3c3c" stroke-width="2" fill="none" opacity="0.75"/>
<rect x="2097.4" y="909.1" width="29.0" height="2.2" fill="#404040" opacity="0.45"/>
<line x1="1408.5" y1="1351.5" x2="2205" y2="1351.5" stroke="#d9d9d9" stroke-width="2"/>
<line x1="1408.5" y1="1049" x2="1408.5" y2="1351.5" stroke="#d9d9d9" stroke-width="2"/>
<text class="tk" x="1387.0" y="1359.3" font-size="22" fill="#626262" text-anchor="end">0</text>
<text class="tk" x="1387.0" y="1328.9" font-size="22" fill="#626262" text-anchor="end">0.1</text>
<text class="tk" x="1387.0" y="1298.5" font-size="22" fill="#626262" text-anchor="end">0.2</text>
<text class="tk" x="1387.0" y="1268.1" font-size="22" fill="#626262" text-anchor="end">0.3</text>
<text class="tk" x="1387.0" y="1237.7" font-size="22" fill="#626262" text-anchor="end">0.4</text>
<text class="tk" x="1387.0" y="1207.3" font-size="22" fill="#626262" text-anchor="end">0.5</text>
<text class="tk" x="1387.0" y="1176.9" font-size="22" fill="#626262" text-anchor="end">0.6</text>
<text class="tk" x="1387.0" y="1146.5" font-size="22" fill="#626262" text-anchor="end">0.7</text>
<text class="tk" x="1387.0" y="1116.1" font-size="22" fill="#626262" text-anchor="end">0.8</text>
<text class="tk" x="1387.0" y="1085.7" font-size="22" fill="#626262" text-anchor="end">0.9</text>
<text class="tk" x="1387.0" y="1055.3" font-size="22" fill="#626262" text-anchor="end">1</text>
<text class="tk" x="1508.1" y="1391.0" font-size="23" fill="#626262" text-anchor="middle">0</text>
<rect x="1434.7" y="1332.7" width="23.6" height="18.8" fill="#5b9bd5"/>
<path d="M1439.4 1331.7h14.2M1446.5 1331.7v2.4" stroke="#3c3c3c" stroke-width="2" fill="none" opacity="0.75"/>
<rect x="1436.2" y="1332.7" width="20.6" height="2.2" fill="#404040" opacity="0.45"/>
<rect x="1465.5" y="1222.3" width="23.6" height="129.2" fill="#ec7f35"/>
<path d="M1470.2 1216.2h14.2M1477.3 1216.2v7.6" stroke="#3c3c3c" stroke-width="2" fill="none" opacity="0.75"/>
<rect x="1467.0" y="1222.3" width="20.6" height="2.2" fill="#404040" opacity="0.45"/>
<rect x="1496.3" y="1076.4" width="23.6" height="275.1" fill="#a5a5a7"/>
<path d="M1501.0 1072.7h14.2M1508.1 1072.7v5.1" stroke="#3c3c3c" stroke-width="2" fill="none" opacity="0.75"/>
<rect x="1497.8" y="1076.4" width="20.6" height="2.2" fill="#404040" opacity="0.45"/>
<rect x="1527.1" y="1061.8" width="23.6" height="289.7" fill="#f9bf22"/>
<path d="M1531.8 1058.1h14.2M1538.9 1058.1v5.1" stroke="#3c3c3c" stroke-width="2" fill="none" opacity="0.75"/>
<rect x="1528.6" y="1061.8" width="20.6" height="2.2" fill="#404040" opacity="0.45"/>
<rect x="1557.9" y="1049.6" width="23.6" height="301.9" fill="#4773c0"/>
<path d="M1562.6 1048.4h14.2M1569.7 1048.4v2.7" stroke="#3c3c3c" stroke-width="2" fill="none" opacity="0.75"/>
<rect x="1559.4" y="1049.6" width="20.6" height="2.2" fill="#404040" opacity="0.45"/>
<text class="tk" x="1707.2" y="1391.0" font-size="23" fill="#626262" text-anchor="middle">1</text>
<rect x="1633.8" y="1254.2" width="23.6" height="97.3" fill="#5b9bd5"/>
<path d="M1638.5 1252.7h14.2M1645.6 1252.7v3.0" stroke="#3c3c3c" stroke-width="2" fill="none" opacity="0.75"/>
<rect x="1635.3" y="1254.2" width="20.6" height="2.2" fill="#404040" opacity="0.45"/>
<rect x="1664.6" y="1261.8" width="23.6" height="89.7" fill="#ec7f35"/>
<path d="M1669.3 1260.0h14.2M1676.4 1260.0v3.3" stroke="#3c3c3c" stroke-width="2" fill="none" opacity="0.75"/>
<rect x="1666.1" y="1261.8" width="20.6" height="2.2" fill="#404040" opacity="0.45"/>
<rect x="1695.4" y="1339.3" width="23.6" height="12.2" fill="#a5a5a7"/>
<path d="M1700.1 1338.4h14.2M1707.2 1338.4v2.4" stroke="#3c3c3c" stroke-width="2" fill="none" opacity="0.75"/>
<rect x="1696.9" y="1339.3" width="20.6" height="2.2" fill="#404040" opacity="0.45"/>
<rect x="1726.2" y="1340.9" width="23.6" height="10.6" fill="#f9bf22"/>
<path d="M1730.9 1340.3h14.2M1738.0 1340.3v2.1" stroke="#3c3c3c" stroke-width="2" fill="none" opacity="0.75"/>
<rect x="1727.7" y="1340.9" width="20.6" height="2.2" fill="#404040" opacity="0.45"/>
<text class="tk" x="1906.3" y="1391.0" font-size="23" fill="#626262" text-anchor="middle">2</text>
<rect x="1832.9" y="1260.3" width="23.6" height="91.2" fill="#5b9bd5"/>
<path d="M1837.6 1259.1h14.2M1844.7 1259.1v2.7" stroke="#3c3c3c" stroke-width="2" fill="none" opacity="0.75"/>
<rect x="1834.4" y="1260.3" width="20.6" height="2.2" fill="#404040" opacity="0.45"/>
<rect x="1863.7" y="1299.8" width="23.6" height="51.7" fill="#ec7f35"/>
<path d="M1868.4 1298.3h14.2M1875.5 1298.3v3.0" stroke="#3c3c3c" stroke-width="2" fill="none" opacity="0.75"/>
<rect x="1865.2" y="1299.8" width="20.6" height="2.2" fill="#404040" opacity="0.45"/>
<rect x="1894.5" y="1345.4" width="23.6" height="6.1" fill="#a5a5a7"/>
<path d="M1899.2 1344.8h14.2M1906.3 1344.8v2.1" stroke="#3c3c3c" stroke-width="2" fill="none" opacity="0.75"/>
<rect x="1896.0" y="1345.4" width="20.6" height="2.2" fill="#404040" opacity="0.45"/>
<text class="tk" x="2105.4" y="1391.0" font-size="23" fill="#626262" text-anchor="middle">3</text>
<rect x="2032.0" y="1257.3" width="23.6" height="94.2" fill="#5b9bd5"/>
<path d="M2036.8 1256.0h14.2M2043.8 1256.0v2.7" stroke="#3c3c3c" stroke-width="2" fill="none" opacity="0.75"/>
<rect x="2033.5" y="1257.3" width="20.6" height="2.2" fill="#404040" opacity="0.45"/>
<rect x="2062.8" y="1319.6" width="23.6" height="31.9" fill="#ec7f35"/>
<path d="M2067.6 1318.1h14.2M2074.6 1318.1v3.0" stroke="#3c3c3c" stroke-width="2" fill="none" opacity="0.75"/>
<rect x="2064.3" y="1319.6" width="20.6" height="2.2" fill="#404040" opacity="0.45"/>
<rect x="2093.6" y="1343.0" width="23.6" height="8.5" fill="#a5a5a7"/>
<path d="M2098.4 1342.4h14.2M2105.4 1342.4v2.1" stroke="#3c3c3c" stroke-width="2" fill="none" opacity="0.75"/>
<rect x="2095.1" y="1343.0" width="20.6" height="2.2" fill="#404040" opacity="0.45"/>
<line x1="1415.8" y1="1807.2" x2="2214" y2="1807.2" stroke="#d9d9d9" stroke-width="2"/>
<line x1="1415.8" y1="1501" x2="1415.8" y2="1807.2" stroke="#d9d9d9" stroke-width="2"/>
<text class="tk" x="1394.3" y="1815.0" font-size="22" fill="#626262" text-anchor="end">0</text>
<text class="tk" x="1394.3" y="1784.4" font-size="22" fill="#626262" text-anchor="end">0.1</text>
<text class="tk" x="1394.3" y="1753.8" font-size="22" fill="#626262" text-anchor="end">0.2</text>
<text class="tk" x="1394.3" y="1723.2" font-size="22" fill="#626262" text-anchor="end">0.3</text>
<text class="tk" x="1394.3" y="1692.6" font-size="22" fill="#626262" text-anchor="end">0.4</text>
<text class="tk" x="1394.3" y="1662.0" font-size="22" fill="#626262" text-anchor="end">0.5</text>
<text class="tk" x="1394.3" y="1631.4" font-size="22" fill="#626262" text-anchor="end">0.6</text>
<text class="tk" x="1394.3" y="1600.8" font-size="22" fill="#626262" text-anchor="end">0.7</text>
<text class="tk" x="1394.3" y="1570.2" font-size="22" fill="#626262" text-anchor="end">0.8</text>
<text class="tk" x="1394.3" y="1539.6" font-size="22" fill="#626262" text-anchor="end">0.9</text>
<text class="tk" x="1394.3" y="1509.0" font-size="22" fill="#626262" text-anchor="end">1</text>
<text class="tk" x="1548.8" y="1847.0" font-size="23" fill="#626262" text-anchor="middle">0</text>
<rect x="1451.0" y="1533.9" width="32" height="273.3" fill="#5b9bd5"/>
<path d="M1457.4 1529.7h19.2M1467.0 1529.7v5.8" stroke="#3c3c3c" stroke-width="2" fill="none" opacity="0.75"/>
<rect x="1452.5" y="1533.9" width="29.0" height="2.2" fill="#404040" opacity="0.45"/>
<rect x="1491.9" y="1545.9" width="32" height="261.3" fill="#ec7f35"/>
<path d="M1498.3 1541.9h19.2M1507.9 1541.9v5.5" stroke="#3c3c3c" stroke-width="2" fill="none" opacity="0.75"/>
<rect x="1493.4" y="1545.9" width="29.0" height="2.2" fill="#404040" opacity="0.45"/>
<rect x="1532.8" y="1513.4" width="32" height="293.8" fill="#a5a5a7"/>
<path d="M1539.2 1511.0h19.2M1548.8 1511.0v3.9" stroke="#3c3c3c" stroke-width="2" fill="none" opacity="0.75"/>
<rect x="1534.3" y="1513.4" width="29.0" height="2.2" fill="#404040" opacity="0.45"/>
<rect x="1573.7" y="1522.9" width="32" height="284.3" fill="#f9bf22"/>
<path d="M1580.1 1521.1h19.2M1589.7 1521.1v3.3" stroke="#3c3c3c" stroke-width="2" fill="none" opacity="0.75"/>
<rect x="1575.2" y="1522.9" width="29.0" height="2.2" fill="#404040" opacity="0.45"/>
<rect x="1614.6" y="1560.9" width="32" height="246.3" fill="#4773c0"/>
<path d="M1621.0 1556.6h19.2M1630.6 1556.6v5.8" stroke="#3c3c3c" stroke-width="2" fill="none" opacity="0.75"/>
<rect x="1616.1" y="1560.9" width="29.0" height="2.2" fill="#404040" opacity="0.45"/>
<text class="tk" x="1814.9" y="1847.0" font-size="23" fill="#626262" text-anchor="middle">1</text>
<rect x="1717.1" y="1785.5" width="32" height="21.7" fill="#5b9bd5"/>
<path d="M1723.5 1784.3h19.2M1733.1 1784.3v2.7" stroke="#3c3c3c" stroke-width="2" fill="none" opacity="0.75"/>
<rect x="1718.6" y="1785.5" width="29.0" height="2.2" fill="#404040" opacity="0.45"/>
<rect x="1758.0" y="1769.9" width="32" height="37.3" fill="#ec7f35"/>
<path d="M1764.4 1768.6h19.2M1774.0 1768.6v2.7" stroke="#3c3c3c" stroke-width="2" fill="none" opacity="0.75"/>
<rect x="1759.5" y="1769.9" width="29.0" height="2.2" fill="#404040" opacity="0.45"/>
<rect x="1798.9" y="1800.2" width="32" height="7.0" fill="#a5a5a7"/>
<path d="M1805.3 1798.9h19.2M1814.9 1798.9v2.7" stroke="#3c3c3c" stroke-width="2" fill="none" opacity="0.75"/>
<rect x="1800.4" y="1800.2" width="29.0" height="2.2" fill="#404040" opacity="0.45"/>
<rect x="1839.8" y="1790.1" width="32" height="17.1" fill="#f9bf22"/>
<path d="M1846.2 1788.8h19.2M1855.8 1788.8v2.7" stroke="#3c3c3c" stroke-width="2" fill="none" opacity="0.75"/>
<rect x="1841.3" y="1790.1" width="29.0" height="2.2" fill="#404040" opacity="0.45"/>
<rect x="1880.7" y="1761.0" width="32" height="46.2" fill="#4773c0"/>
<path d="M1887.1 1759.8h19.2M1896.7 1759.8v2.7" stroke="#3c3c3c" stroke-width="2" fill="none" opacity="0.75"/>
<rect x="1882.2" y="1761.0" width="29.0" height="2.2" fill="#404040" opacity="0.45"/>
<text class="tk" x="2081.0" y="1847.0" font-size="23" fill="#626262" text-anchor="middle">2</text>
<rect x="1983.2" y="1802.0" width="32" height="5.2" fill="#5b9bd5"/>
<path d="M1989.6 1801.4h19.2M1999.2 1801.4v2.1" stroke="#3c3c3c" stroke-width="2" fill="none" opacity="0.75"/>
<rect x="1984.7" y="1802.0" width="29.0" height="2.2" fill="#404040" opacity="0.45"/>
<rect x="2024.1" y="1802.9" width="32" height="4.3" fill="#ec7f35"/>
<path d="M2030.5 1802.3h19.2M2040.1 1802.3v2.1" stroke="#3c3c3c" stroke-width="2" fill="none" opacity="0.75"/>
<rect x="2025.6" y="1802.9" width="29.0" height="2.2" fill="#404040" opacity="0.45"/>
<rect x="2065.0" y="1805.7" width="32" height="1.5" fill="#a5a5a7"/>
<path d="M2071.4 1805.4h19.2M2081.0 1805.4v1.8" stroke="#3c3c3c" stroke-width="2" fill="none" opacity="0.75"/>
<rect x="2066.5" y="1805.7" width="29.0" height="2.2" fill="#404040" opacity="0.45"/>
<rect x="2105.9" y="1804.1" width="32" height="3.1" fill="#f9bf22"/>
<path d="M2112.3 1803.5h19.2M2121.9 1803.5v2.1" stroke="#3c3c3c" stroke-width="2" fill="none" opacity="0.75"/>
<rect x="2107.4" y="1804.1" width="29.0" height="2.2" fill="#404040" opacity="0.45"/>
<rect x="2146.8" y="1797.4" width="32" height="9.8" fill="#4773c0"/>
<path d="M2153.2 1796.5h19.2M2162.8 1796.5v2.4" stroke="#3c3c3c" stroke-width="2" fill="none" opacity="0.75"/>
<rect x="2148.3" y="1797.4" width="29.0" height="2.2" fill="#404040" opacity="0.45"/>
<line x1="1421.6" y1="2267.4" x2="2219.6" y2="2267.4" stroke="#d9d9d9" stroke-width="2"/>
<line x1="1421.6" y1="1963" x2="1421.6" y2="2267.4" stroke="#d9d9d9" stroke-width="2"/>
<text class="tk" x="1400.1" y="2275.2" font-size="22" fill="#626262" text-anchor="end">0</text>
<text class="tk" x="1400.1" y="2244.7" font-size="22" fill="#626262" text-anchor="end">0.1</text>
<text class="tk" x="1400.1" y="2214.2" font-size="22" fill="#626262" text-anchor="end">0.2</text>
<text class="tk" x="1400.1" y="2183.7" font-size="22" fill="#626262" text-anchor="end">0.3</text>
<text class="tk" x="1400.1" y="2153.2" font-size="22" fill="#626262" text-anchor="end">0.4</text>
<text class="tk" x="1400.1" y="2122.7" font-size="22" fill="#626262" text-anchor="end">0.5</text>
<text class="tk" x="1400.1" y="2092.2" font-size="22" fill="#626262" text-anchor="end">0.6</text>
<text class="tk" x="1400.1" y="2061.7" font-size="22" fill="#626262" text-anchor="end">0.7</text>
<text class="tk" x="1400.1" y="2031.2" font-size="22" fill="#626262" text-anchor="end">0.8</text>
<text class="tk" x="1400.1" y="2000.7" font-size="22" fill="#626262" text-anchor="end">0.9</text>
<text class="tk" x="1400.1" y="1970.2" font-size="22" fill="#626262" text-anchor="end">1</text>
<text class="tk" x="1554.6" y="2308.0" font-size="23" fill="#626262" text-anchor="middle">0</text>
<rect x="1456.8" y="2074.0" width="32" height="193.4" fill="#5b9bd5"/>
<path d="M1463.2 2072.2h19.2M1472.8 2072.2v3.3" stroke="#3c3c3c" stroke-width="2" fill="none" opacity="0.75"/>
<rect x="1458.3" y="2074.0" width="29.0" height="2.2" fill="#404040" opacity="0.45"/>
<rect x="1497.7" y="2113.7" width="32" height="153.7" fill="#ec7f35"/>
<path d="M1504.1 2109.1h19.2M1513.7 2109.1v6.1" stroke="#3c3c3c" stroke-width="2" fill="none" opacity="0.75"/>
<rect x="1499.2" y="2113.7" width="29.0" height="2.2" fill="#404040" opacity="0.45"/>
<rect x="1538.6" y="1965.5" width="32" height="301.9" fill="#a5a5a7"/>
<path d="M1545.0 1964.2h19.2M1554.6 1964.2v2.7" stroke="#3c3c3c" stroke-width="2" fill="none" opacity="0.75"/>
<rect x="1540.1" y="1965.5" width="29.0" height="2.2" fill="#404040" opacity="0.45"/>
<rect x="1579.5" y="1963.9" width="32" height="303.5" fill="#f9bf22"/>
<path d="M1585.9 1963.0h19.2M1595.5 1963.0v2.4" stroke="#3c3c3c" stroke-width="2" fill="none" opacity="0.75"/>
<rect x="1581.0" y="1963.9" width="29.0" height="2.2" fill="#404040" opacity="0.45"/>
<rect x="1620.4" y="1963.9" width="32" height="303.5" fill="#4773c0"/>
<path d="M1626.8 1963.3h19.2M1636.4 1963.3v2.1" stroke="#3c3c3c" stroke-width="2" fill="none" opacity="0.75"/>
<rect x="1621.9" y="1963.9" width="29.0" height="2.2" fill="#404040" opacity="0.45"/>
<text class="tk" x="1820.6" y="2308.0" font-size="23" fill="#626262" text-anchor="middle">1</text>
<rect x="1722.8" y="2192.1" width="32" height="75.3" fill="#5b9bd5"/>
<path d="M1729.2 2190.8h19.2M1738.8 2190.8v2.7" stroke="#3c3c3c" stroke-width="2" fill="none" opacity="0.75"/>
<rect x="1724.3" y="2192.1" width="29.0" height="2.2" fill="#404040" opacity="0.45"/>
<rect x="1763.7" y="2189.0" width="32" height="78.4" fill="#ec7f35"/>
<path d="M1770.1 2186.0h19.2M1779.7 2186.0v4.6" stroke="#3c3c3c" stroke-width="2" fill="none" opacity="0.75"/>
<rect x="1765.2" y="2189.0" width="29.0" height="2.2" fill="#404040" opacity="0.45"/>
<rect x="1804.6" y="2266.2" width="32" height="1.2" fill="#a5a5a7"/>
<rect x="1845.5" y="2266.2" width="32" height="1.2" fill="#f9bf22"/>
<rect x="1886.4" y="2266.2" width="32" height="1.2" fill="#4773c0"/>
<text class="tk" x="2086.6" y="2308.0" font-size="23" fill="#626262" text-anchor="middle">2</text>
<rect x="1988.8" y="2235.4" width="32" height="32.0" fill="#5b9bd5"/>
<path d="M1995.2 2234.2h19.2M2004.8 2234.2v2.7" stroke="#3c3c3c" stroke-width="2" fill="none" opacity="0.75"/>
<rect x="1990.3" y="2235.4" width="29.0" height="2.2" fill="#404040" opacity="0.45"/>
<rect x="2029.7" y="2197.9" width="32" height="69.5" fill="#ec7f35"/>
<path d="M2036.1 2196.3h19.2M2045.7 2196.3v3.0" stroke="#3c3c3c" stroke-width="2" fill="none" opacity="0.75"/>
<rect x="2031.2" y="2197.9" width="29.0" height="2.2" fill="#404040" opacity="0.45"/>
<rect x="2070.6" y="2266.2" width="32" height="1.2" fill="#a5a5a7"/>
<line x1="1344" y1="1954.5" x2="1354" y2="1954.5" stroke="#e6e6e6" stroke-width="2"/>
<line x1="1344" y1="1993.3" x2="1354" y2="1993.3" stroke="#e6e6e6" stroke-width="2"/>
<line x1="1344" y1="2032.1" x2="1354" y2="2032.1" stroke="#e6e6e6" stroke-width="2"/>
<line x1="1344" y1="2070.9" x2="1354" y2="2070.9" stroke="#e6e6e6" stroke-width="2"/>
<line x1="1344" y1="2109.7" x2="1354" y2="2109.7" stroke="#e6e6e6" stroke-width="2"/>
<line x1="1344" y1="2148.5" x2="1354" y2="2148.5" stroke="#e6e6e6" stroke-width="2"/>
<line x1="1344" y1="2187.3" x2="1354" y2="2187.3" stroke="#e6e6e6" stroke-width="2"/>
<line x1="1344" y1="2226.1" x2="1354" y2="2226.1" stroke="#e6e6e6" stroke-width="2"/>
<line x1="1344" y1="2264.9" x2="1354" y2="2264.9" stroke="#e6e6e6" stroke-width="2"/>
<line x1="1344" y1="2303.7" x2="1354" y2="2303.7" stroke="#e6e6e6" stroke-width="2"/>
<rect x="1514.5" y="151.6" width="15" height="14" fill="#5b9bd5"/>
<rect x="1718.8" y="151.6" width="15" height="14" fill="#ec7f35"/>
<rect x="1929.5" y="151.6" width="15" height="14" fill="#a5a5a7"/>
<rect x="1514.5" y="194.5" width="15" height="14" fill="#f9bf22"/>
<rect x="1736" y="194.5" width="15" height="14" fill="#4773c0"/>
<g stroke-linecap="round">
<line x1="1159.7" y1="318.2" x2="1185.2" y2="343.7" stroke="#e88080" stroke-width="1.6"/>
<line x1="1129.9" y1="343.7" x2="1159.7" y2="371.4" stroke="#e88080" stroke-width="1.6"/>
<line x1="1100.1" y1="360.8" x2="1125.6" y2="390.5" stroke="#e88080" stroke-width="1.6"/>
<line x1="973.0" y1="269.5" x2="966.6" y2="262.7" stroke="#584826" stroke-width="11.3"/>
<line x1="960.2" y1="255.9" x2="966.6" y2="262.7" stroke="#6e0c14" stroke-width="11.3"/>
<line x1="973.0" y1="269.5" x2="972.5" y2="281.4" stroke="#584826" stroke-width="11.3"/>
<line x1="972.1" y1="293.3" x2="972.5" y2="281.4" stroke="#6e0c14" stroke-width="11.3"/>
<line x1="973.0" y1="269.5" x2="983.5" y2="267.0" stroke="#584826" stroke-width="11.3"/>
<line x1="994.0" y1="264.4" x2="983.5" y2="267.0" stroke="#6e0c14" stroke-width="11.3"/>
<line x1="994.0" y1="264.4" x2="1002.5" y2="263.6" stroke="#6e0c14" stroke-width="11.3"/>
<line x1="1011.0" y1="262.7" x2="1002.5" y2="263.6" stroke="#0a4a4c" stroke-width="11.3"/>
<line x1="1011.0" y1="262.7" x2="1012.5" y2="270.0" stroke="#0a4a4c" stroke-width="11.3"/>
<line x1="1013.9" y1="277.2" x2="1012.5" y2="270.0" stroke="#5e5e5e" stroke-width="11.3"/>
<line x1="1011.0" y1="262.7" x2="1022.2" y2="256.3" stroke="#0a4a4c" stroke-width="11.3"/>
<line x1="1033.3" y1="250.0" x2="1022.2" y2="256.3" stroke="#0a4a4c" stroke-width="11.3"/>
<line x1="1033.3" y1="250.0" x2="1033.0" y2="244.5" stroke="#0a4a4c" stroke-width="11.3"/>
<line x1="1032.6" y1="239.1" x2="1033.0" y2="244.5" stroke="#5e5e5e" stroke-width="11.3"/>
<line x1="1033.3" y1="250.0" x2="1042.6" y2="256.3" stroke="#0a4a4c" stroke-width="11.3"/>
<line x1="1051.9" y1="262.7" x2="1042.6" y2="256.3" stroke="#6e0c14" stroke-width="11.3"/>
<line x1="1033.3" y1="250.0" x2="1042.3" y2="247.8" stroke="#0a4a4c" stroke-width="11.3"/>
<line x1="1051.2" y1="245.7" x2="1042.3" y2="247.8" stroke="#0a4a4c" stroke-width="11.3"/>
<line x1="1051.2" y1="245.7" x2="1050.4" y2="238.9" stroke="#0a4a4c" stroke-width="11.3"/>
<line x1="1049.5" y1="232.1" x2="1050.4" y2="238.9" stroke="#6e0c14" stroke-width="11.3"/>
<line x1="1051.2" y1="245.7" x2="1063.5" y2="248.2" stroke="#0a4a4c" stroke-width="11.3"/>
<line x1="1075.9" y1="250.6" x2="1063.5" y2="248.2" stroke="#0a4a4c" stroke-width="11.3"/>
<line x1="1075.9" y1="250.6" x2="1080.1" y2="241.4" stroke="#0a4a4c" stroke-width="11.3"/>
<line x1="1084.4" y1="232.1" x2="1080.1" y2="241.4" stroke="#6e0c14" stroke-width="11.3"/>
<line x1="1084.4" y1="232.1" x2="1090.9" y2="231.7" stroke="#6e0c14" stroke-width="11.3"/>
<line x1="1097.4" y1="231.4" x2="1090.9" y2="231.7" stroke="#5e5e5e" stroke-width="11.3"/>
<line x1="1075.9" y1="250.6" x2="1075.9" y2="256.7" stroke="#0a4a4c" stroke-width="11.3"/>
<line x1="1075.9" y1="262.7" x2="1075.9" y2="256.7" stroke="#0a4a4c" stroke-width="11.3"/>
<line x1="1075.9" y1="262.7" x2="1063.9" y2="262.7" stroke="#0a4a4c" stroke-width="11.3"/>
<line x1="1051.9" y1="262.7" x2="1063.9" y2="262.7" stroke="#6e0c14" stroke-width="11.3"/>
<line x1="1075.9" y1="262.7" x2="1080.9" y2="262.7" stroke="#0a4a4c" stroke-width="11.3"/>
<line x1="1086.0" y1="262.7" x2="1080.9" y2="262.7" stroke="#5e5e5e" stroke-width="11.3"/>
<line x1="1075.9" y1="262.7" x2="1076.7" y2="277.2" stroke="#0a4a4c" stroke-width="11.3"/>
<line x1="1077.6" y1="291.6" x2="1076.7" y2="277.2" stroke="#181a5c" stroke-width="11.3"/>
<line x1="1077.6" y1="291.6" x2="1066.5" y2="300.7" stroke="#181a5c" stroke-width="11.3"/>
<line x1="1055.5" y1="309.7" x2="1066.5" y2="300.7" stroke="#0a4a4c" stroke-width="11.3"/>
<line x1="1055.5" y1="309.7" x2="1050.9" y2="307.9" stroke="#0a4a4c" stroke-width="11.3"/>
<line x1="1046.4" y1="306.1" x2="1050.9" y2="307.9" stroke="#5e5e5e" stroke-width="11.3"/>
<line x1="1055.5" y1="309.7" x2="1058.7" y2="321.4" stroke="#0a4a4c" stroke-width="11.3"/>
<line x1="1061.8" y1="333.1" x2="1058.7" y2="321.4" stroke="#181a5c" stroke-width="11.3"/>
<line x1="1061.8" y1="333.1" x2="1074.6" y2="331.0" stroke="#181a5c" stroke-width="11.3"/>
<line x1="1087.4" y1="328.9" x2="1074.6" y2="331.0" stroke="#0a4a4c" stroke-width="11.3"/>
<line x1="1087.4" y1="328.9" x2="1090.6" y2="317.2" stroke="#0a4a4c" stroke-width="11.3"/>
<line x1="1093.7" y1="305.5" x2="1090.6" y2="317.2" stroke="#0a4a4c" stroke-width="11.3"/>
<line x1="1093.7" y1="305.5" x2="1085.7" y2="298.6" stroke="#0a4a4c" stroke-width="11.3"/>
<line x1="1077.6" y1="291.6" x2="1085.7" y2="298.6" stroke="#181a5c" stroke-width="11.3"/>
<line x1="1093.7" y1="305.5" x2="1104.4" y2="300.7" stroke="#0a4a4c" stroke-width="11.3"/>
<line x1="1115.0" y1="295.9" x2="1104.4" y2="300.7" stroke="#181a5c" stroke-width="11.3"/>
<line x1="1115.0" y1="295.9" x2="1122.5" y2="303.9" stroke="#181a5c" stroke-width="11.3"/>
<line x1="1129.9" y1="311.8" x2="1122.5" y2="303.9" stroke="#0a4a4c" stroke-width="11.3"/>
<line x1="1129.9" y1="311.8" x2="1140.5" y2="309.7" stroke="#0a4a4c" stroke-width="11.3"/>
<line x1="1151.2" y1="307.6" x2="1140.5" y2="309.7" stroke="#181a5c" stroke-width="11.3"/>
<line x1="1151.2" y1="307.6" x2="1153.0" y2="301.7" stroke="#181a5c" stroke-width="11.3"/>
<line x1="1154.8" y1="295.8" x2="1153.0" y2="301.7" stroke="#5e5e5e" stroke-width="11.3"/>
<line x1="1151.2" y1="307.6" x2="1155.2" y2="312.1" stroke="#181a5c" stroke-width="11.3"/>
<line x1="1159.3" y1="316.6" x2="1155.2" y2="312.1" stroke="#5e5e5e" stroke-width="11.3"/>
<line x1="1129.9" y1="311.8" x2="1127.4" y2="324.6" stroke="#0a4a4c" stroke-width="11.3"/>
<line x1="1125.0" y1="337.4" x2="1127.4" y2="324.6" stroke="#181a5c" stroke-width="11.3"/>
<line x1="1125.0" y1="337.4" x2="1113.1" y2="339.5" stroke="#181a5c" stroke-width="11.3"/>
<line x1="1101.2" y1="341.6" x2="1113.1" y2="339.5" stroke="#0a4a4c" stroke-width="11.3"/>
<line x1="1101.2" y1="341.6" x2="1094.3" y2="335.2" stroke="#0a4a4c" stroke-width="11.3"/>
<line x1="1087.4" y1="328.9" x2="1094.3" y2="335.2" stroke="#0a4a4c" stroke-width="11.3"/>
<line x1="1101.2" y1="341.6" x2="1099.8" y2="351.2" stroke="#0a4a4c" stroke-width="11.3"/>
<line x1="1098.4" y1="360.8" x2="1099.8" y2="351.2" stroke="#6e0c14" stroke-width="11.3"/>
<line x1="1187.3" y1="345.9" x2="1186.2" y2="354.4" stroke="#6e0c14" stroke-width="11.3"/>
<line x1="1185.2" y1="362.9" x2="1186.2" y2="354.4" stroke="#0a4a4c" stroke-width="11.3"/>
<line x1="1185.2" y1="362.9" x2="1173.5" y2="367.1" stroke="#0a4a4c" stroke-width="11.3"/>
<line x1="1161.8" y1="371.4" x2="1173.5" y2="367.1" stroke="#181a5c" stroke-width="11.3"/>
<line x1="1161.8" y1="371.4" x2="1159.7" y2="382.0" stroke="#181a5c" stroke-width="11.3"/>
<line x1="1157.5" y1="392.7" x2="1159.7" y2="382.0" stroke="#0a4a4c" stroke-width="11.3"/>
<line x1="1157.5" y1="392.7" x2="1145.8" y2="396.9" stroke="#0a4a4c" stroke-width="11.3"/>
<line x1="1134.1" y1="401.2" x2="1145.8" y2="396.9" stroke="#181a5c" stroke-width="11.3"/>
<line x1="1134.1" y1="401.2" x2="1132.3" y2="406.6" stroke="#181a5c" stroke-width="11.3"/>
<line x1="1130.5" y1="412.0" x2="1132.3" y2="406.6" stroke="#5e5e5e" stroke-width="11.3"/>
<line x1="1134.1" y1="401.2" x2="1129.6" y2="395.7" stroke="#181a5c" stroke-width="11.3"/>
<line x1="1125.1" y1="390.3" x2="1129.6" y2="395.7" stroke="#5e5e5e" stroke-width="11.3"/>
<line x1="1157.5" y1="392.7" x2="1163.9" y2="402.2" stroke="#0a4a4c" stroke-width="11.3"/>
<line x1="1170.3" y1="411.8" x2="1163.9" y2="402.2" stroke="#0a4a4c" stroke-width="11.3"/>
<line x1="1170.3" y1="411.8" x2="1171.2" y2="417.2" stroke="#0a4a4c" stroke-width="11.3"/>
<line x1="1172.1" y1="422.6" x2="1171.2" y2="417.2" stroke="#5e5e5e" stroke-width="11.3"/>
<line x1="1170.3" y1="411.8" x2="1185.2" y2="407.5" stroke="#0a4a4c" stroke-width="11.3"/>
<line x1="1200.1" y1="403.3" x2="1185.2" y2="407.5" stroke="#0a4a4c" stroke-width="11.3"/>
<line x1="1200.1" y1="403.3" x2="1203.7" y2="407.8" stroke="#0a4a4c" stroke-width="11.3"/>
<line x1="1207.3" y1="412.3" x2="1203.7" y2="407.8" stroke="#5e5e5e" stroke-width="11.3"/>
<line x1="1200.1" y1="403.3" x2="1200.3" y2="390.2" stroke="#0a4a4c" stroke-width="11.3"/>
<line x1="1200.5" y1="377.1" x2="1200.3" y2="390.2" stroke="#181a5c" stroke-width="11.3"/>
<line x1="1200.5" y1="377.1" x2="1192.8" y2="370.0" stroke="#181a5c" stroke-width="11.3"/>
<line x1="1185.2" y1="362.9" x2="1192.8" y2="370.0" stroke="#0a4a4c" stroke-width="11.3"/>
<line x1="1200.5" y1="377.1" x2="1209.5" y2="373.8" stroke="#181a5c" stroke-width="11.3"/>
<line x1="1218.6" y1="370.5" x2="1209.5" y2="373.8" stroke="#0a4a4c" stroke-width="11.3"/>
<line x1="1218.6" y1="370.5" x2="1219.6" y2="362.2" stroke="#0a4a4c" stroke-width="11.3"/>
<line x1="1220.6" y1="353.9" x2="1219.6" y2="362.2" stroke="#5e5e5e" stroke-width="11.3"/>
<line x1="1218.6" y1="370.5" x2="1229.5" y2="376.3" stroke="#0a4a4c" stroke-width="11.3"/>
<line x1="1240.5" y1="382.0" x2="1229.5" y2="376.3" stroke="#6e0c14" stroke-width="11.3"/>
<line x1="1218.6" y1="370.5" x2="1228.8" y2="363.6" stroke="#0a4a4c" stroke-width="11.3"/>
<line x1="1239.0" y1="356.7" x2="1228.8" y2="363.6" stroke="#0a4a4c" stroke-width="11.3"/>
<line x1="1239.0" y1="356.7" x2="1241.0" y2="348.5" stroke="#0a4a4c" stroke-width="11.3"/>
<line x1="1243.0" y1="340.3" x2="1241.0" y2="348.5" stroke="#6e0c14" stroke-width="11.3"/>
<line x1="1243.0" y1="340.3" x2="1249.0" y2="338.3" stroke="#6e0c14" stroke-width="11.3"/>
<line x1="1255.0" y1="336.2" x2="1249.0" y2="338.3" stroke="#5e5e5e" stroke-width="11.3"/>
<line x1="1239.0" y1="356.7" x2="1249.9" y2="366.8" stroke="#0a4a4c" stroke-width="11.3"/>
<line x1="1260.9" y1="376.9" x2="1249.9" y2="366.8" stroke="#0a4a4c" stroke-width="11.3"/>
<line x1="1260.9" y1="376.9" x2="1268.2" y2="373.0" stroke="#0a4a4c" stroke-width="11.3"/>
<line x1="1275.6" y1="369.0" x2="1268.2" y2="373.0" stroke="#6e0c14" stroke-width="11.3"/>
<line x1="1260.9" y1="376.9" x2="1266.2" y2="395.4" stroke="#0a4a4c" stroke-width="11.3"/>
<line x1="1271.5" y1="413.9" x2="1266.2" y2="395.4" stroke="#0a4a4c" stroke-width="11.3"/>
<line x1="1240.5" y1="382.0" x2="1250.7" y2="379.5" stroke="#6e0c14" stroke-width="11.3"/>
<line x1="1260.9" y1="376.9" x2="1250.7" y2="379.5" stroke="#0a4a4c" stroke-width="11.3"/>
<line x1="1271.5" y1="413.9" x2="1278.6" y2="412.5" stroke="#0a4a4c" stroke-width="11.3"/>
<line x1="1285.6" y1="411.0" x2="1278.6" y2="412.5" stroke="#5e5e5e" stroke-width="11.3"/>
<line x1="1271.5" y1="413.9" x2="1269.8" y2="422.4" stroke="#0a4a4c" stroke-width="11.3"/>
<line x1="1268.1" y1="430.9" x2="1269.8" y2="422.4" stroke="#6e0c14" stroke-width="11.3"/>
<line x1="1268.1" y1="430.9" x2="1265.8" y2="437.8" stroke="#6e0c14" stroke-width="11.3"/>
<line x1="1263.4" y1="444.8" x2="1265.8" y2="437.8" stroke="#6e0c14" stroke-width="11.3"/>
<line x1="1263.4" y1="444.8" x2="1265.9" y2="449.8" stroke="#6e0c14" stroke-width="11.3"/>
<line x1="1268.3" y1="454.7" x2="1265.9" y2="449.8" stroke="#584826" stroke-width="11.3"/>
<line x1="1268.3" y1="454.7" x2="1280.1" y2="454.7" stroke="#584826" stroke-width="11.3"/>
<line x1="1291.9" y1="454.7" x2="1280.1" y2="454.7" stroke="#6e0c14" stroke-width="11.3"/>
<line x1="1268.3" y1="454.7" x2="1261.8" y2="462.0" stroke="#584826" stroke-width="11.3"/>
<line x1="1255.4" y1="469.2" x2="1261.8" y2="462.0" stroke="#6e0c14" stroke-width="11.3"/>
<line x1="973.0" y1="269.5" x2="966.6" y2="262.7" stroke="#9a844c" stroke-width="7.5"/>
<line x1="960.2" y1="255.9" x2="966.6" y2="262.7" stroke="#d8202e" stroke-width="7.5"/>
<line x1="973.0" y1="269.5" x2="972.5" y2="281.4" stroke="#9a844c" stroke-width="7.5"/>
<line x1="972.1" y1="293.3" x2="972.5" y2="281.4" stroke="#d8202e" stroke-width="7.5"/>
<line x1="973.0" y1="269.5" x2="983.5" y2="267.0" stroke="#9a844c" stroke-width="7.5"/>
<line x1="994.0" y1="264.4" x2="983.5" y2="267.0" stroke="#d8202e" stroke-width="7.5"/>
<line x1="994.0" y1="264.4" x2="1002.5" y2="263.6" stroke="#d8202e" stroke-width="7.5"/>
<line x1="1011.0" y1="262.7" x2="1002.5" y2="263.6" stroke="#188f8f" stroke-width="7.5"/>
<line x1="1011.0" y1="262.7" x2="1012.5" y2="270.0" stroke="#188f8f" stroke-width="7.5"/>
<line x1="1013.9" y1="277.2" x2="1012.5" y2="270.0" stroke="#bcbcbc" stroke-width="7.5"/>
<line x1="1011.0" y1="262.7" x2="1022.2" y2="256.3" stroke="#188f8f" stroke-width="7.5"/>
<line x1="1033.3" y1="250.0" x2="1022.2" y2="256.3" stroke="#188f8f" stroke-width="7.5"/>
<line x1="1033.3" y1="250.0" x2="1033.0" y2="244.5" stroke="#188f8f" stroke-width="7.5"/>
<line x1="1032.6" y1="239.1" x2="1033.0" y2="244.5" stroke="#bcbcbc" stroke-width="7.5"/>
<line x1="1033.3" y1="250.0" x2="1042.6" y2="256.3" stroke="#188f8f" stroke-width="7.5"/>
<line x1="1051.9" y1="262.7" x2="1042.6" y2="256.3" stroke="#d8202e" stroke-width="7.5"/>
<line x1="1033.3" y1="250.0" x2="1042.3" y2="247.8" stroke="#188f8f" stroke-width="7.5"/>
<line x1="1051.2" y1="245.7" x2="1042.3" y2="247.8" stroke="#188f8f" stroke-width="7.5"/>
<line x1="1051.2" y1="245.7" x2="1050.4" y2="238.9" stroke="#188f8f" stroke-width="7.5"/>
<line x1="1049.5" y1="232.1" x2="1050.4" y2="238.9" stroke="#d8202e" stroke-width="7.5"/>
<line x1="1051.2" y1="245.7" x2="1063.5" y2="248.2" stroke="#188f8f" stroke-width="7.5"/>
<line x1="1075.9" y1="250.6" x2="1063.5" y2="248.2" stroke="#188f8f" stroke-width="7.5"/>
<line x1="1075.9" y1="250.6" x2="1080.1" y2="241.4" stroke="#188f8f" stroke-width="7.5"/>
<line x1="1084.4" y1="232.1" x2="1080.1" y2="241.4" stroke="#d8202e" stroke-width="7.5"/>
<line x1="1084.4" y1="232.1" x2="1090.9" y2="231.7" stroke="#d8202e" stroke-width="7.5"/>
<line x1="1097.4" y1="231.4" x2="1090.9" y2="231.7" stroke="#bcbcbc" stroke-width="7.5"/>
<line x1="1075.9" y1="250.6" x2="1075.9" y2="256.7" stroke="#188f8f" stroke-width="7.5"/>
<line x1="1075.9" y1="262.7" x2="1075.9" y2="256.7" stroke="#188f8f" stroke-width="7.5"/>
<line x1="1075.9" y1="262.7" x2="1063.9" y2="262.7" stroke="#188f8f" stroke-width="7.5"/>
<line x1="1051.9" y1="262.7" x2="1063.9" y2="262.7" stroke="#d8202e" stroke-width="7.5"/>
<line x1="1075.9" y1="262.7" x2="1080.9" y2="262.7" stroke="#188f8f" stroke-width="7.5"/>
<line x1="1086.0" y1="262.7" x2="1080.9" y2="262.7" stroke="#bcbcbc" stroke-width="7.5"/>
<line x1="1075.9" y1="262.7" x2="1076.7" y2="277.2" stroke="#188f8f" stroke-width="7.5"/>
<line x1="1077.6" y1="291.6" x2="1076.7" y2="277.2" stroke="#2e32a2" stroke-width="7.5"/>
<line x1="1077.6" y1="291.6" x2="1066.5" y2="300.7" stroke="#2e32a2" stroke-width="7.5"/>
<line x1="1055.5" y1="309.7" x2="1066.5" y2="300.7" stroke="#188f8f" stroke-width="7.5"/>
<line x1="1055.5" y1="309.7" x2="1050.9" y2="307.9" stroke="#188f8f" stroke-width="7.5"/>
<line x1="1046.4" y1="306.1" x2="1050.9" y2="307.9" stroke="#bcbcbc" stroke-width="7.5"/>
<line x1="1055.5" y1="309.7" x2="1058.7" y2="321.4" stroke="#188f8f" stroke-width="7.5"/>
<line x1="1061.8" y1="333.1" x2="1058.7" y2="321.4" stroke="#2e32a2" stroke-width="7.5"/>
<line x1="1061.8" y1="333.1" x2="1074.6" y2="331.0" stroke="#2e32a2" stroke-width="7.5"/>
<line x1="1087.4" y1="328.9" x2="1074.6" y2="331.0" stroke="#188f8f" stroke-width="7.5"/>
<line x1="1087.4" y1="328.9" x2="1090.6" y2="317.2" stroke="#188f8f" stroke-width="7.5"/>
<line x1="1093.7" y1="305.5" x2="1090.6" y2="317.2" stroke="#188f8f" stroke-width="7.5"/>
<line x1="1093.7" y1="305.5" x2="1085.7" y2="298.6" stroke="#188f8f" stroke-width="7.5"/>
<line x1="1077.6" y1="291.6" x2="1085.7" y2="298.6" stroke="#2e32a2" stroke-width="7.5"/>
<line x1="1093.7" y1="305.5" x2="1104.4" y2="300.7" stroke="#188f8f" stroke-width="7.5"/>
<line x1="1115.0" y1="295.9" x2="1104.4" y2="300.7" stroke="#2e32a2" stroke-width="7.5"/>
<line x1="1115.0" y1="295.9" x2="1122.5" y2="303.9" stroke="#2e32a2" stroke-width="7.5"/>
<line x1="1129.9" y1="311.8" x2="1122.5" y2="303.9" stroke="#188f8f" stroke-width="7.5"/>
<line x1="1129.9" y1="311.8" x2="1140.5" y2="309.7" stroke="#188f8f" stroke-width="7.5"/>
<line x1="1151.2" y1="307.6" x2="1140.5" y2="309.7" stroke="#2e32a2" stroke-width="7.5"/>
<line x1="1151.2" y1="307.6" x2="1153.0" y2="301.7" stroke="#2e32a2" stroke-width="7.5"/>
<line x1="1154.8" y1="295.8" x2="1153.0" y2="301.7" stroke="#bcbcbc" stroke-width="7.5"/>
<line x1="1151.2" y1="307.6" x2="1155.2" y2="312.1" stroke="#2e32a2" stroke-width="7.5"/>
<line x1="1159.3" y1="316.6" x2="1155.2" y2="312.1" stroke="#bcbcbc" stroke-width="7.5"/>
<line x1="1129.9" y1="311.8" x2="1127.4" y2="324.6" stroke="#188f8f" stroke-width="7.5"/>
<line x1="1125.0" y1="337.4" x2="1127.4" y2="324.6" stroke="#2e32a2" stroke-width="7.5"/>
<line x1="1125.0" y1="337.4" x2="1113.1" y2="339.5" stroke="#2e32a2" stroke-width="7.5"/>
<line x1="1101.2" y1="341.6" x2="1113.1" y2="339.5" stroke="#188f8f" stroke-width="7.5"/>
<line x1="1101.2" y1="341.6" x2="1094.3" y2="335.2" stroke="#188f8f" stroke-width="7.5"/>
<line x1="1087.4" y1="328.9" x2="1094.3" y2="335.2" stroke="#188f8f" stroke-width="7.5"/>
<line x1="1101.2" y1="341.6" x2="1099.8" y2="351.2" stroke="#188f8f" stroke-width="7.5"/>
<line x1="1098.4" y1="360.8" x2="1099.8" y2="351.2" stroke="#d8202e" stroke-width="7.5"/>
<line x1="1187.3" y1="345.9" x2="1186.2" y2="354.4" stroke="#d8202e" stroke-width="7.5"/>
<line x1="1185.2" y1="362.9" x2="1186.2" y2="354.4" stroke="#188f8f" stroke-width="7.5"/>
<line x1="1185.2" y1="362.9" x2="1173.5" y2="367.1" stroke="#188f8f" stroke-width="7.5"/>
<line x1="1161.8" y1="371.4" x2="1173.5" y2="367.1" stroke="#2e32a2" stroke-width="7.5"/>
<line x1="1161.8" y1="371.4" x2="1159.7" y2="382.0" stroke="#2e32a2" stroke-width="7.5"/>
<line x1="1157.5" y1="392.7" x2="1159.7" y2="382.0" stroke="#188f8f" stroke-width="7.5"/>
<line x1="1157.5" y1="392.7" x2="1145.8" y2="396.9" stroke="#188f8f" stroke-width="7.5"/>
<line x1="1134.1" y1="401.2" x2="1145.8" y2="396.9" stroke="#2e32a2" stroke-width="7.5"/>
<line x1="1134.1" y1="401.2" x2="1132.3" y2="406.6" stroke="#2e32a2" stroke-width="7.5"/>
<line x1="1130.5" y1="412.0" x2="1132.3" y2="406.6" stroke="#bcbcbc" stroke-width="7.5"/>
<line x1="1134.1" y1="401.2" x2="1129.6" y2="395.7" stroke="#2e32a2" stroke-width="7.5"/>
<line x1="1125.1" y1="390.3" x2="1129.6" y2="395.7" stroke="#bcbcbc" stroke-width="7.5"/>
<line x1="1157.5" y1="392.7" x2="1163.9" y2="402.2" stroke="#188f8f" stroke-width="7.5"/>
<line x1="1170.3" y1="411.8" x2="1163.9" y2="402.2" stroke="#188f8f" stroke-width="7.5"/>
<line x1="1170.3" y1="411.8" x2="1171.2" y2="417.2" stroke="#188f8f" stroke-width="7.5"/>
<line x1="1172.1" y1="422.6" x2="1171.2" y2="417.2" stroke="#bcbcbc" stroke-width="7.5"/>
<line x1="1170.3" y1="411.8" x2="1185.2" y2="407.5" stroke="#188f8f" stroke-width="7.5"/>
<line x1="1200.1" y1="403.3" x2="1185.2" y2="407.5" stroke="#188f8f" stroke-width="7.5"/>
<line x1="1200.1" y1="403.3" x2="1203.7" y2="407.8" stroke="#188f8f" stroke-width="7.5"/>
<line x1="1207.3" y1="412.3" x2="1203.7" y2="407.8" stroke="#bcbcbc" stroke-width="7.5"/>
<line x1="1200.1" y1="403.3" x2="1200.3" y2="390.2" stroke="#188f8f" stroke-width="7.5"/>
<line x1="1200.5" y1="377.1" x2="1200.3" y2="390.2" stroke="#2e32a2" stroke-width="7.5"/>
<line x1="1200.5" y1="377.1" x2="1192.8" y2="370.0" stroke="#2e32a2" stroke-width="7.5"/>
<line x1="1185.2" y1="362.9" x2="1192.8" y2="370.0" stroke="#188f8f" stroke-width="7.5"/>
<line x1="1200.5" y1="377.1" x2="1209.5" y2="373.8" stroke="#2e32a2" stroke-width="7.5"/>
<line x1="1218.6" y1="370.5" x2="1209.5" y2="373.8" stroke="#188f8f" stroke-width="7.5"/>
<line x1="1218.6" y1="370.5" x2="1219.6" y2="362.2" stroke="#188f8f" stroke-width="7.5"/>
<line x1="1220.6" y1="353.9" x2="1219.6" y2="362.2" stroke="#bcbcbc" stroke-width="7.5"/>
<line x1="1218.6" y1="370.5" x2="1229.5" y2="376.3" stroke="#188f8f" stroke-width="7.5"/>
<line x1="1240.5" y1="382.0" x2="1229.5" y2="376.3" stroke="#d8202e" stroke-width="7.5"/>
<line x1="1218.6" y1="370.5" x2="1228.8" y2="363.6" stroke="#188f8f" stroke-width="7.5"/>
<line x1="1239.0" y1="356.7" x2="1228.8" y2="363.6" stroke="#188f8f" stroke-width="7.5"/>
<line x1="1239.0" y1="356.7" x2="1241.0" y2="348.5" stroke="#188f8f" stroke-width="7.5"/>
<line x1="1243.0" y1="340.3" x2="1241.0" y2="348.5" stroke="#d8202e" stroke-width="7.5"/>
<line x1="1243.0" y1="340.3" x2="1249.0" y2="338.3" stroke="#d8202e" stroke-width="7.5"/>
<line x1="1255.0" y1="336.2" x2="1249.0" y2="338.3" stroke="#bcbcbc" stroke-width="7.5"/>
<line x1="1239.0" y1="356.7" x2="1249.9" y2="366.8" stroke="#188f8f" stroke-width="7.5"/>
<line x1="1260.9" y1="376.9" x2="1249.9" y2="366.8" stroke="#188f8f" stroke-width="7.5"/>
<line x1="1260.9" y1="376.9" x2="1268.2" y2="373.0" stroke="#188f8f" stroke-width="7.5"/>
<line x1="1275.6" y1="369.0" x2="1268.2" y2="373.0" stroke="#d8202e" stroke-width="7.5"/>
<line x1="1260.9" y1="376.9" x2="1266.2" y2="395.4" stroke="#188f8f" stroke-width="7.5"/>
<line x1="1271.5" y1="413.9" x2="1266.2" y2="395.4" stroke="#188f8f" stroke-width="7.5"/>
<line x1="1240.5" y1="382.0" x2="1250.7" y2="379.5" stroke="#d8202e" stroke-width="7.5"/>
<line x1="1260.9" y1="376.9" x2="1250.7" y2="379.5" stroke="#188f8f" stroke-width="7.5"/>
<line x1="1271.5" y1="413.9" x2="1278.6" y2="412.5" stroke="#188f8f" stroke-width="7.5"/>
<line x1="1285.6" y1="411.0" x2="1278.6" y2="412.5" stroke="#bcbcbc" stroke-width="7.5"/>
<line x1="1271.5" y1="413.9" x2="1269.8" y2="422.4" stroke="#188f8f" stroke-width="7.5"/>
<line x1="1268.1" y1="430.9" x2="1269.8" y2="422.4" stroke="#d8202e" stroke-width="7.5"/>
<line x1="1268.1" y1="430.9" x2="1265.8" y2="437.8" stroke="#d8202e" stroke-width="7.5"/>
<line x1="1263.4" y1="444.8" x2="1265.8" y2="437.8" stroke="#d8202e" stroke-width="7.5"/>
<line x1="1263.4" y1="444.8" x2="1265.9" y2="449.8" stroke="#d8202e" stroke-width="7.5"/>
<line x1="1268.3" y1="454.7" x2="1265.9" y2="449.8" stroke="#9a844c" stroke-width="7.5"/>
<line x1="1268.3" y1="454.7" x2="1280.1" y2="454.7" stroke="#9a844c" stroke-width="7.5"/>
<line x1="1291.9" y1="454.7" x2="1280.1" y2="454.7" stroke="#d8202e" stroke-width="7.5"/>
<line x1="1268.3" y1="454.7" x2="1261.8" y2="462.0" stroke="#9a844c" stroke-width="7.5"/>
<line x1="1255.4" y1="469.2" x2="1261.8" y2="462.0" stroke="#d8202e" stroke-width="7.5"/>
</g>
<g stroke-linecap="round">
<line x1="1130.8" y1="801.8" x2="1151.8" y2="834.4" stroke="#e88080" stroke-width="1.6"/>
<line x1="1161.4" y1="780.8" x2="1186.3" y2="809.5" stroke="#e88080" stroke-width="1.6"/>
<line x1="1014.0" y1="744.4" x2="1004.4" y2="743.4" stroke="#584826" stroke-width="11.3"/>
<line x1="994.9" y1="742.5" x2="1004.4" y2="743.4" stroke="#6e0c14" stroke-width="11.3"/>
<line x1="1014.0" y1="744.4" x2="1022.6" y2="755.9" stroke="#584826" stroke-width="11.3"/>
<line x1="1031.2" y1="767.4" x2="1022.6" y2="755.9" stroke="#6e0c14" stroke-width="11.3"/>
<line x1="1014.0" y1="744.4" x2="1024.5" y2="732.9" stroke="#584826" stroke-width="11.3"/>
<line x1="1035.1" y1="721.4" x2="1024.5" y2="732.9" stroke="#6e0c14" stroke-width="11.3"/>
<line x1="1035.1" y1="721.4" x2="1031.2" y2="709.0" stroke="#6e0c14" stroke-width="11.3"/>
<line x1="1027.4" y1="696.6" x2="1031.2" y2="709.0" stroke="#0a4a4c" stroke-width="11.3"/>
<line x1="1027.4" y1="696.6" x2="1021.7" y2="695.7" stroke="#0a4a4c" stroke-width="11.3"/>
<line x1="1016.0" y1="694.9" x2="1021.7" y2="695.7" stroke="#5e5e5e" stroke-width="11.3"/>
<line x1="1027.4" y1="696.6" x2="1037.0" y2="687.9" stroke="#0a4a4c" stroke-width="11.3"/>
<line x1="1046.6" y1="679.3" x2="1037.0" y2="687.9" stroke="#0a4a4c" stroke-width="11.3"/>
<line x1="1046.6" y1="679.3" x2="1046.6" y2="673.6" stroke="#0a4a4c" stroke-width="11.3"/>
<line x1="1046.6" y1="667.9" x2="1046.6" y2="673.6" stroke="#5e5e5e" stroke-width="11.3"/>
<line x1="1046.6" y1="679.3" x2="1054.2" y2="685.1" stroke="#0a4a4c" stroke-width="11.3"/>
<line x1="1061.9" y1="690.8" x2="1054.2" y2="685.1" stroke="#6e0c14" stroke-width="11.3"/>
<line x1="1046.6" y1="679.3" x2="1060.9" y2="678.4" stroke="#0a4a4c" stroke-width="11.3"/>
<line x1="1075.3" y1="677.4" x2="1060.9" y2="678.4" stroke="#0a4a4c" stroke-width="11.3"/>
<line x1="1075.3" y1="677.4" x2="1075.3" y2="669.8" stroke="#0a4a4c" stroke-width="11.3"/>
<line x1="1075.3" y1="662.1" x2="1075.3" y2="669.8" stroke="#6e0c14" stroke-width="11.3"/>
<line x1="1075.3" y1="677.4" x2="1087.7" y2="676.5" stroke="#0a4a4c" stroke-width="11.3"/>
<line x1="1100.1" y1="675.5" x2="1087.7" y2="676.5" stroke="#0a4a4c" stroke-width="11.3"/>
<line x1="1100.1" y1="675.5" x2="1102.1" y2="664.0" stroke="#0a4a4c" stroke-width="11.3"/>
<line x1="1104.0" y1="652.5" x2="1102.1" y2="664.0" stroke="#6e0c14" stroke-width="11.3"/>
<line x1="1104.0" y1="652.5" x2="1107.2" y2="650.9" stroke="#6e0c14" stroke-width="11.3"/>
<line x1="1110.5" y1="649.3" x2="1107.2" y2="650.9" stroke="#5e5e5e" stroke-width="11.3"/>
<line x1="1100.1" y1="675.5" x2="1101.1" y2="680.3" stroke="#0a4a4c" stroke-width="11.3"/>
<line x1="1102.1" y1="685.1" x2="1101.1" y2="680.3" stroke="#0a4a4c" stroke-width="11.3"/>
<line x1="1102.1" y1="685.1" x2="1082.0" y2="687.9" stroke="#0a4a4c" stroke-width="11.3"/>
<line x1="1061.9" y1="690.8" x2="1082.0" y2="687.9" stroke="#6e0c14" stroke-width="11.3"/>
<line x1="1102.1" y1="685.1" x2="1106.1" y2="688.3" stroke="#0a4a4c" stroke-width="11.3"/>
<line x1="1110.2" y1="691.6" x2="1106.1" y2="688.3" stroke="#5e5e5e" stroke-width="11.3"/>
<line x1="1102.1" y1="685.1" x2="1096.3" y2="705.2" stroke="#0a4a4c" stroke-width="11.3"/>
<line x1="1090.6" y1="725.3" x2="1096.3" y2="705.2" stroke="#181a5c" stroke-width="11.3"/>
<line x1="1090.6" y1="725.3" x2="1082.0" y2="732.0" stroke="#181a5c" stroke-width="11.3"/>
<line x1="1073.3" y1="738.7" x2="1082.0" y2="732.0" stroke="#0a4a4c" stroke-width="11.3"/>
<line x1="1073.3" y1="738.7" x2="1066.0" y2="741.1" stroke="#0a4a4c" stroke-width="11.3"/>
<line x1="1058.7" y1="743.5" x2="1066.0" y2="741.1" stroke="#5e5e5e" stroke-width="11.3"/>
<line x1="1073.3" y1="738.7" x2="1077.2" y2="754.0" stroke="#0a4a4c" stroke-width="11.3"/>
<line x1="1081.0" y1="769.3" x2="1077.2" y2="754.0" stroke="#181a5c" stroke-width="11.3"/>
<line x1="1081.0" y1="769.3" x2="1094.4" y2="766.4" stroke="#181a5c" stroke-width="11.3"/>
<line x1="1107.8" y1="763.5" x2="1094.4" y2="766.4" stroke="#0a4a4c" stroke-width="11.3"/>
<line x1="1107.8" y1="763.5" x2="1109.7" y2="749.2" stroke="#0a4a4c" stroke-width="11.3"/>
<line x1="1111.6" y1="734.8" x2="1109.7" y2="749.2" stroke="#0a4a4c" stroke-width="11.3"/>
<line x1="1111.6" y1="734.8" x2="1101.1" y2="730.0" stroke="#0a4a4c" stroke-width="11.3"/>
<line x1="1090.6" y1="725.3" x2="1101.1" y2="730.0" stroke="#181a5c" stroke-width="11.3"/>
<line x1="1111.6" y1="734.8" x2="1123.1" y2="729.1" stroke="#0a4a4c" stroke-width="11.3"/>
<line x1="1134.6" y1="723.3" x2="1123.1" y2="729.1" stroke="#181a5c" stroke-width="11.3"/>
<line x1="1134.6" y1="723.3" x2="1145.1" y2="731.0" stroke="#181a5c" stroke-width="11.3"/>
<line x1="1155.6" y1="738.7" x2="1145.1" y2="731.0" stroke="#0a4a4c" stroke-width="11.3"/>
<line x1="1155.6" y1="738.7" x2="1167.1" y2="737.7" stroke="#0a4a4c" stroke-width="11.3"/>
<line x1="1178.6" y1="736.7" x2="1167.1" y2="737.7" stroke="#181a5c" stroke-width="11.3"/>
<line x1="1178.6" y1="736.7" x2="1180.2" y2="730.2" stroke="#181a5c" stroke-width="11.3"/>
<line x1="1181.9" y1="723.7" x2="1180.2" y2="730.2" stroke="#5e5e5e" stroke-width="11.3"/>
<line x1="1178.6" y1="736.7" x2="1182.7" y2="742.4" stroke="#181a5c" stroke-width="11.3"/>
<line x1="1186.7" y1="748.1" x2="1182.7" y2="742.4" stroke="#5e5e5e" stroke-width="11.3"/>
<line x1="1155.6" y1="738.7" x2="1154.7" y2="754.9" stroke="#0a4a4c" stroke-width="11.3"/>
<line x1="1153.7" y1="771.2" x2="1154.7" y2="754.9" stroke="#181a5c" stroke-width="11.3"/>
<line x1="1153.7" y1="771.2" x2="1157.0" y2="776.1" stroke="#181a5c" stroke-width="11.3"/>
<line x1="1160.2" y1="781.0" x2="1157.0" y2="776.1" stroke="#5e5e5e" stroke-width="11.3"/>
<line x1="1153.7" y1="771.2" x2="1142.2" y2="775.0" stroke="#181a5c" stroke-width="11.3"/>
<line x1="1130.8" y1="778.9" x2="1142.2" y2="775.0" stroke="#0a4a4c" stroke-width="11.3"/>
<line x1="1130.8" y1="778.9" x2="1119.3" y2="771.2" stroke="#0a4a4c" stroke-width="11.3"/>
<line x1="1107.8" y1="763.5" x2="1119.3" y2="771.2" stroke="#0a4a4c" stroke-width="11.3"/>
<line x1="1130.8" y1="778.9" x2="1129.8" y2="789.4" stroke="#0a4a4c" stroke-width="11.3"/>
<line x1="1128.9" y1="799.9" x2="1129.8" y2="789.4" stroke="#6e0c14" stroke-width="11.3"/>
<line x1="1188.2" y1="813.3" x2="1188.2" y2="821.9" stroke="#6e0c14" stroke-width="11.3"/>
<line x1="1188.2" y1="830.5" x2="1188.2" y2="821.9" stroke="#0a4a4c" stroke-width="11.3"/>
<line x1="1188.2" y1="830.5" x2="1175.7" y2="835.3" stroke="#0a4a4c" stroke-width="11.3"/>
<line x1="1163.3" y1="840.1" x2="1175.7" y2="835.3" stroke="#181a5c" stroke-width="11.3"/>
<line x1="1163.3" y1="840.1" x2="1158.4" y2="837.7" stroke="#181a5c" stroke-width="11.3"/>
<line x1="1153.5" y1="835.2" x2="1158.4" y2="837.7" stroke="#5e5e5e" stroke-width="11.3"/>
<line x1="1163.3" y1="840.1" x2="1160.4" y2="855.4" stroke="#181a5c" stroke-width="11.3"/>
<line x1="1157.6" y1="870.7" x2="1160.4" y2="855.4" stroke="#0a4a4c" stroke-width="11.3"/>
<line x1="1157.6" y1="870.7" x2="1148.9" y2="872.6" stroke="#0a4a4c" stroke-width="11.3"/>
<line x1="1140.3" y1="874.5" x2="1148.9" y2="872.6" stroke="#6e0c14" stroke-width="11.3"/>
<line x1="1157.6" y1="870.7" x2="1167.1" y2="880.3" stroke="#0a4a4c" stroke-width="11.3"/>
<line x1="1176.7" y1="889.9" x2="1167.1" y2="880.3" stroke="#0a4a4c" stroke-width="11.3"/>
<line x1="1176.7" y1="889.9" x2="1176.7" y2="894.7" stroke="#0a4a4c" stroke-width="11.3"/>
<line x1="1176.7" y1="899.6" x2="1176.7" y2="894.7" stroke="#5e5e5e" stroke-width="11.3"/>
<line x1="1176.7" y1="889.9" x2="1191.1" y2="883.2" stroke="#0a4a4c" stroke-width="11.3"/>
<line x1="1205.4" y1="876.5" x2="1191.1" y2="883.2" stroke="#0a4a4c" stroke-width="11.3"/>
<line x1="1205.4" y1="876.5" x2="1210.3" y2="882.2" stroke="#0a4a4c" stroke-width="11.3"/>
<line x1="1215.2" y1="887.8" x2="1210.3" y2="882.2" stroke="#5e5e5e" stroke-width="11.3"/>
<line x1="1205.4" y1="876.5" x2="1207.3" y2="861.1" stroke="#0a4a4c" stroke-width="11.3"/>
<line x1="1209.2" y1="845.8" x2="1207.3" y2="861.1" stroke="#181a5c" stroke-width="11.3"/>
<line x1="1209.2" y1="845.8" x2="1198.7" y2="838.2" stroke="#181a5c" stroke-width="11.3"/>
<line x1="1188.2" y1="830.5" x2="1198.7" y2="838.2" stroke="#0a4a4c" stroke-width="11.3"/>
<line x1="1209.2" y1="845.8" x2="1226.1" y2="841.3" stroke="#181a5c" stroke-width="11.3"/>
<line x1="1242.9" y1="836.8" x2="1226.1" y2="841.3" stroke="#0a4a4c" stroke-width="11.3"/>
<line x1="1242.9" y1="836.8" x2="1238.4" y2="831.0" stroke="#0a4a4c" stroke-width="11.3"/>
<line x1="1233.8" y1="825.1" x2="1238.4" y2="831.0" stroke="#5e5e5e" stroke-width="11.3"/>
<line x1="1242.9" y1="836.8" x2="1249.8" y2="831.1" stroke="#0a4a4c" stroke-width="11.3"/>
<line x1="1256.7" y1="825.4" x2="1249.8" y2="831.1" stroke="#6e0c14" stroke-width="11.3"/>
<line x1="1256.7" y1="825.4" x2="1263.2" y2="823.7" stroke="#6e0c14" stroke-width="11.3"/>
<line x1="1269.7" y1="822.1" x2="1263.2" y2="823.7" stroke="#5e5e5e" stroke-width="11.3"/>
<line x1="1242.9" y1="836.8" x2="1254.4" y2="850.2" stroke="#0a4a4c" stroke-width="11.3"/>
<line x1="1265.9" y1="863.6" x2="1254.4" y2="850.2" stroke="#0a4a4c" stroke-width="11.3"/>
<line x1="1265.9" y1="863.6" x2="1275.5" y2="861.3" stroke="#0a4a4c" stroke-width="11.3"/>
<line x1="1285.0" y1="859.0" x2="1275.5" y2="861.3" stroke="#6e0c14" stroke-width="11.3"/>
<line x1="1265.9" y1="863.6" x2="1259.9" y2="869.4" stroke="#0a4a4c" stroke-width="11.3"/>
<line x1="1254.0" y1="875.2" x2="1259.9" y2="869.4" stroke="#5e5e5e" stroke-width="11.3"/>
<line x1="1265.9" y1="863.6" x2="1271.6" y2="878.1" stroke="#0a4a4c" stroke-width="11.3"/>
<line x1="1277.4" y1="892.5" x2="1271.6" y2="878.1" stroke="#0a4a4c" stroke-width="11.3"/>
<line x1="1277.4" y1="892.5" x2="1284.9" y2="893.2" stroke="#0a4a4c" stroke-width="11.3"/>
<line x1="1292.3" y1="893.8" x2="1284.9" y2="893.2" stroke="#5e5e5e" stroke-width="11.3"/>
<line x1="1277.4" y1="892.5" x2="1270.1" y2="902.9" stroke="#0a4a4c" stroke-width="11.3"/>
<line x1="1262.8" y1="913.2" x2="1270.1" y2="902.9" stroke="#6e0c14" stroke-width="11.3"/>
<line x1="1262.8" y1="913.2" x2="1265.1" y2="925.8" stroke="#6e0c14" stroke-width="11.3"/>
<line x1="1267.4" y1="938.5" x2="1265.1" y2="925.8" stroke="#584826" stroke-width="11.3"/>
<line x1="1267.4" y1="938.5" x2="1280.0" y2="939.2" stroke="#584826" stroke-width="11.3"/>
<line x1="1292.7" y1="940.0" x2="1280.0" y2="939.2" stroke="#6e0c14" stroke-width="11.3"/>
<line x1="1267.4" y1="938.5" x2="1261.7" y2="945.0" stroke="#584826" stroke-width="11.3"/>
<line x1="1255.9" y1="951.5" x2="1261.7" y2="945.0" stroke="#6e0c14" stroke-width="11.3"/>
<line x1="1014.0" y1="744.4" x2="1004.4" y2="743.4" stroke="#9a844c" stroke-width="7.5"/>
<line x1="994.9" y1="742.5" x2="1004.4" y2="743.4" stroke="#d8202e" stroke-width="7.5"/>
<line x1="1014.0" y1="744.4" x2="1022.6" y2="755.9" stroke="#9a844c" stroke-width="7.5"/>
<line x1="1031.2" y1="767.4" x2="1022.6" y2="755.9" stroke="#d8202e" stroke-width="7.5"/>
<line x1="1014.0" y1="744.4" x2="1024.5" y2="732.9" stroke="#9a844c" stroke-width="7.5"/>
<line x1="1035.1" y1="721.4" x2="1024.5" y2="732.9" stroke="#d8202e" stroke-width="7.5"/>
<line x1="1035.1" y1="721.4" x2="1031.2" y2="709.0" stroke="#d8202e" stroke-width="7.5"/>
<line x1="1027.4" y1="696.6" x2="1031.2" y2="709.0" stroke="#188f8f" stroke-width="7.5"/>
<line x1="1027.4" y1="696.6" x2="1021.7" y2="695.7" stroke="#188f8f" stroke-width="7.5"/>
<line x1="1016.0" y1="694.9" x2="1021.7" y2="695.7" stroke="#bcbcbc" stroke-width="7.5"/>
<line x1="1027.4" y1="696.6" x2="1037.0" y2="687.9" stroke="#188f8f" stroke-width="7.5"/>
<line x1="1046.6" y1="679.3" x2="1037.0" y2="687.9" stroke="#188f8f" stroke-width="7.5"/>
<line x1="1046.6" y1="679.3" x2="1046.6" y2="673.6" stroke="#188f8f" stroke-width="7.5"/>
<line x1="1046.6" y1="667.9" x2="1046.6" y2="673.6" stroke="#bcbcbc" stroke-width="7.5"/>
<line x1="1046.6" y1="679.3" x2="1054.2" y2="685.1" stroke="#188f8f" stroke-width="7.5"/>
<line x1="1061.9" y1="690.8" x2="1054.2" y2="685.1" stroke="#d8202e" stroke-width="7.5"/>
<line x1="1046.6" y1="679.3" x2="1060.9" y2="678.4" stroke="#188f8f" stroke-width="7.5"/>
<line x1="1075.3" y1="677.4" x2="1060.9" y2="678.4" stroke="#188f8f" stroke-width="7.5"/>
<line x1="1075.3" y1="677.4" x2="1075.3" y2="669.8" stroke="#188f8f" stroke-width="7.5"/>
<line x1="1075.3" y1="662.1" x2="1075.3" y2="669.8" stroke="#d8202e" stroke-width="7.5"/>
<line x1="1075.3" y1="677.4" x2="1087.7" y2="676.5" stroke="#188f8f" stroke-width="7.5"/>
<line x1="1100.1" y1="675.5" x2="1087.7" y2="676.5" stroke="#188f8f" stroke-width="7.5"/>
<line x1="1100.1" y1="675.5" x2="1102.1" y2="664.0" stroke="#188f8f" stroke-width="7.5"/>
<line x1="1104.0" y1="652.5" x2="1102.1" y2="664.0" stroke="#d8202e" stroke-width="7.5"/>
<line x1="1104.0" y1="652.5" x2="1107.2" y2="650.9" stroke="#d8202e" stroke-width="7.5"/>
<line x1="1110.5" y1="649.3" x2="1107.2" y2="650.9" stroke="#bcbcbc" stroke-width="7.5"/>
<line x1="1100.1" y1="675.5" x2="1101.1" y2="680.3" stroke="#188f8f" stroke-width="7.5"/>
<line x1="1102.1" y1="685.1" x2="1101.1" y2="680.3" stroke="#188f8f" stroke-width="7.5"/>
<line x1="1102.1" y1="685.1" x2="1082.0" y2="687.9" stroke="#188f8f" stroke-width="7.5"/>
<line x1="1061.9" y1="690.8" x2="1082.0" y2="687.9" stroke="#d8202e" stroke-width="7.5"/>
<line x1="1102.1" y1="685.1" x2="1106.1" y2="688.3" stroke="#188f8f" stroke-width="7.5"/>
<line x1="1110.2" y1="691.6" x2="1106.1" y2="688.3" stroke="#bcbcbc" stroke-width="7.5"/>
<line x1="1102.1" y1="685.1" x2="1096.3" y2="705.2" stroke="#188f8f" stroke-width="7.5"/>
<line x1="1090.6" y1="725.3" x2="1096.3" y2="705.2" stroke="#2e32a2" stroke-width="7.5"/>
<line x1="1090.6" y1="725.3" x2="1082.0" y2="732.0" stroke="#2e32a2" stroke-width="7.5"/>
<line x1="1073.3" y1="738.7" x2="1082.0" y2="732.0" stroke="#188f8f" stroke-width="7.5"/>
<line x1="1073.3" y1="738.7" x2="1066.0" y2="741.1" stroke="#188f8f" stroke-width="7.5"/>
<line x1="1058.7" y1="743.5" x2="1066.0" y2="741.1" stroke="#bcbcbc" stroke-width="7.5"/>
<line x1="1073.3" y1="738.7" x2="1077.2" y2="754.0" stroke="#188f8f" stroke-width="7.5"/>
<line x1="1081.0" y1="769.3" x2="1077.2" y2="754.0" stroke="#2e32a2" stroke-width="7.5"/>
<line x1="1081.0" y1="769.3" x2="1094.4" y2="766.4" stroke="#2e32a2" stroke-width="7.5"/>
<line x1="1107.8" y1="763.5" x2="1094.4" y2="766.4" stroke="#188f8f" stroke-width="7.5"/>
<line x1="1107.8" y1="763.5" x2="1109.7" y2="749.2" stroke="#188f8f" stroke-width="7.5"/>
<line x1="1111.6" y1="734.8" x2="1109.7" y2="749.2" stroke="#188f8f" stroke-width="7.5"/>
<line x1="1111.6" y1="734.8" x2="1101.1" y2="730.0" stroke="#188f8f" stroke-width="7.5"/>
<line x1="1090.6" y1="725.3" x2="1101.1" y2="730.0" stroke="#2e32a2" stroke-width="7.5"/>
<line x1="1111.6" y1="734.8" x2="1123.1" y2="729.1" stroke="#188f8f" stroke-width="7.5"/>
<line x1="1134.6" y1="723.3" x2="1123.1" y2="729.1" stroke="#2e32a2" stroke-width="7.5"/>
<line x1="1134.6" y1="723.3" x2="1145.1" y2="731.0" stroke="#2e32a2" stroke-width="7.5"/>
<line x1="1155.6" y1="738.7" x2="1145.1" y2="731.0" stroke="#188f8f" stroke-width="7.5"/>
<line x1="1155.6" y1="738.7" x2="1167.1" y2="737.7" stroke="#188f8f" stroke-width="7.5"/>
<line x1="1178.6" y1="736.7" x2="1167.1" y2="737.7" stroke="#2e32a2" stroke-width="7.5"/>
<line x1="1178.6" y1="736.7" x2="1180.2" y2="730.2" stroke="#2e32a2" stroke-width="7.5"/>
<line x1="1181.9" y1="723.7" x2="1180.2" y2="730.2" stroke="#bcbcbc" stroke-width="7.5"/>
<line x1="1178.6" y1="736.7" x2="1182.7" y2="742.4" stroke="#2e32a2" stroke-width="7.5"/>
<line x1="1186.7" y1="748.1" x2="1182.7" y2="742.4" stroke="#bcbcbc" stroke-width="7.5"/>
<line x1="1155.6" y1="738.7" x2="1154.7" y2="754.9" stroke="#188f8f" stroke-width="7.5"/>
<line x1="1153.7" y1="771.2" x2="1154.7" y2="754.9" stroke="#2e32a2" stroke-width="7.5"/>
<line x1="1153.7" y1="771.2" x2="1157.0" y2="776.1" stroke="#2e32a2" stroke-width="7.5"/>
<line x1="1160.2" y1="781.0" x2="1157.0" y2="776.1" stroke="#bcbcbc" stroke-width="7.5"/>
<line x1="1153.7" y1="771.2" x2="1142.2" y2="775.0" stroke="#2e32a2" stroke-width="7.5"/>
<line x1="1130.8" y1="778.9" x2="1142.2" y2="775.0" stroke="#188f8f" stroke-width="7.5"/>
<line x1="1130.8" y1="778.9" x2="1119.3" y2="771.2" stroke="#188f8f" stroke-width="7.5"/>
<line x1="1107.8" y1="763.5" x2="1119.3" y2="771.2" stroke="#188f8f" stroke-width="7.5"/>
<line x1="1130.8" y1="778.9" x2="1129.8" y2="789.4" stroke="#188f8f" stroke-width="7.5"/>
<line x1="1128.9" y1="799.9" x2="1129.8" y2="789.4" stroke="#d8202e" stroke-width="7.5"/>
<line x1="1188.2" y1="813.3" x2="1188.2" y2="821.9" stroke="#d8202e" stroke-width="7.5"/>
<line x1="1188.2" y1="830.5" x2="1188.2" y2="821.9" stroke="#188f8f" stroke-width="7.5"/>
<line x1="1188.2" y1="830.5" x2="1175.7" y2="835.3" stroke="#188f8f" stroke-width="7.5"/>
<line x1="1163.3" y1="840.1" x2="1175.7" y2="835.3" stroke="#2e32a2" stroke-width="7.5"/>
<line x1="1163.3" y1="840.1" x2="1158.4" y2="837.7" stroke="#2e32a2" stroke-width="7.5"/>
<line x1="1153.5" y1="835.2" x2="1158.4" y2="837.7" stroke="#bcbcbc" stroke-width="7.5"/>
<line x1="1163.3" y1="840.1" x2="1160.4" y2="855.4" stroke="#2e32a2" stroke-width="7.5"/>
<line x1="1157.6" y1="870.7" x2="1160.4" y2="855.4" stroke="#188f8f" stroke-width="7.5"/>
<line x1="1157.6" y1="870.7" x2="1148.9" y2="872.6" stroke="#188f8f" stroke-width="7.5"/>
<line x1="1140.3" y1="874.5" x2="1148.9" y2="872.6" stroke="#d8202e" stroke-width="7.5"/>
<line x1="1157.6" y1="870.7" x2="1167.1" y2="880.3" stroke="#188f8f" stroke-width="7.5"/>
<line x1="1176.7" y1="889.9" x2="1167.1" y2="880.3" stroke="#188f8f" stroke-width="7.5"/>
<line x1="1176.7" y1="889.9" x2="1176.7" y2="894.7" stroke="#188f8f" stroke-width="7.5"/>
<line x1="1176.7" y1="899.6" x2="1176.7" y2="894.7" stroke="#bcbcbc" stroke-width="7.5"/>
<line x1="1176.7" y1="889.9" x2="1191.1" y2="883.2" stroke="#188f8f" stroke-width="7.5"/>
<line x1="1205.4" y1="876.5" x2="1191.1" y2="883.2" stroke="#188f8f" stroke-width="7.5"/>
<line x1="1205.4" y1="876.5" x2="1210.3" y2="882.2" stroke="#188f8f" stroke-width="7.5"/>
<line x1="1215.2" y1="887.8" x2="1210.3" y2="882.2" stroke="#bcbcbc" stroke-width="7.5"/>
<line x1="1205.4" y1="876.5" x2="1207.3" y2="861.1" stroke="#188f8f" stroke-width="7.5"/>
<line x1="1209.2" y1="845.8" x2="1207.3" y2="861.1" stroke="#2e32a2" stroke-width="7.5"/>
<line x1="1209.2" y1="845.8" x2="1198.7" y2="838.2" stroke="#2e32a2" stroke-width="7.5"/>
<line x1="1188.2" y1="830.5" x2="1198.7" y2="838.2" stroke="#188f8f" stroke-width="7.5"/>
<line x1="1209.2" y1="845.8" x2="1226.1" y2="841.3" stroke="#2e32a2" stroke-width="7.5"/>
<line x1="1242.9" y1="836.8" x2="1226.1" y2="841.3" stroke="#188f8f" stroke-width="7.5"/>
<line x1="1242.9" y1="836.8" x2="1238.4" y2="831.0" stroke="#188f8f" stroke-width="7.5"/>
<line x1="1233.8" y1="825.1" x2="1238.4" y2="831.0" stroke="#bcbcbc" stroke-width="7.5"/>
<line x1="1242.9" y1="836.8" x2="1249.8" y2="831.1" stroke="#188f8f" stroke-width="7.5"/>
<line x1="1256.7" y1="825.4" x2="1249.8" y2="831.1" stroke="#d8202e" stroke-width="7.5"/>
<line x1="1256.7" y1="825.4" x2="1263.2" y2="823.7" stroke="#d8202e" stroke-width="7.5"/>
<line x1="1269.7" y1="822.1" x2="1263.2" y2="823.7" stroke="#bcbcbc" stroke-width="7.5"/>
<line x1="1242.9" y1="836.8" x2="1254.4" y2="850.2" stroke="#188f8f" stroke-width="7.5"/>
<line x1="1265.9" y1="863.6" x2="1254.4" y2="850.2" stroke="#188f8f" stroke-width="7.5"/>
<line x1="1265.9" y1="863.6" x2="1275.5" y2="861.3" stroke="#188f8f" stroke-width="7.5"/>
<line x1="1285.0" y1="859.0" x2="1275.5" y2="861.3" stroke="#d8202e" stroke-width="7.5"/>
<line x1="1265.9" y1="863.6" x2="1259.9" y2="869.4" stroke="#188f8f" stroke-width="7.5"/>
<line x1="1254.0" y1="875.2" x2="1259.9" y2="869.4" stroke="#bcbcbc" stroke-width="7.5"/>
<line x1="1265.9" y1="863.6" x2="1271.6" y2="878.1" stroke="#188f8f" stroke-width="7.5"/>
<line x1="1277.4" y1="892.5" x2="1271.6" y2="878.1" stroke="#188f8f" stroke-width="7.5"/>
<line x1="1277.4" y1="892.5" x2="1284.9" y2="893.2" stroke="#188f8f" stroke-width="7.5"/>
<line x1="1292.3" y1="893.8" x2="1284.9" y2="893.2" stroke="#bcbcbc" stroke-width="7.5"/>
<line x1="1277.4" y1="892.5" x2="1270.1" y2="902.9" stroke="#188f8f" stroke-width="7.5"/>
<line x1="1262.8" y1="913.2" x2="1270.1" y2="902.9" stroke="#d8202e" stroke-width="7.5"/>
<line x1="1262.8" y1="913.2" x2="1265.1" y2="925.8" stroke="#d8202e" stroke-width="7.5"/>
<line x1="1267.4" y1="938.5" x2="1265.1" y2="925.8" stroke="#9a844c" stroke-width="7.5"/>
<line x1="1267.4" y1="938.5" x2="1280.0" y2="939.2" stroke="#9a844c" stroke-width="7.5"/>
<line x1="1292.7" y1="940.0" x2="1280.0" y2="939.2" stroke="#d8202e" stroke-width="7.5"/>
<line x1="1267.4" y1="938.5" x2="1261.7" y2="945.0" stroke="#9a844c" stroke-width="7.5"/>
<line x1="1255.9" y1="951.5" x2="1261.7" y2="945.0" stroke="#d8202e" stroke-width="7.5"/>
</g>
<g stroke-linecap="round">
<line x1="1121.4" y1="1206.3" x2="1150.1" y2="1231.2" stroke="#e88080" stroke-width="1.6"/>
<line x1="1098.4" y1="1238.9" x2="1123.3" y2="1263.7" stroke="#e88080" stroke-width="1.6"/>
<line x1="1083.1" y1="1279.0" x2="1109.9" y2="1298.2" stroke="#e88080" stroke-width="1.6"/>
<line x1="1012.3" y1="1116.4" x2="1004.4" y2="1118.6" stroke="#584826" stroke-width="11.3"/>
<line x1="996.6" y1="1120.8" x2="1004.4" y2="1118.6" stroke="#6e0c14" stroke-width="11.3"/>
<line x1="1012.3" y1="1116.4" x2="1011.5" y2="1123.8" stroke="#584826" stroke-width="11.3"/>
<line x1="1010.8" y1="1131.3" x2="1011.5" y2="1123.8" stroke="#6e0c14" stroke-width="11.3"/>
<line x1="1012.3" y1="1116.4" x2="1025.3" y2="1119.7" stroke="#584826" stroke-width="11.3"/>
<line x1="1038.3" y1="1123.1" x2="1025.3" y2="1119.7" stroke="#6e0c14" stroke-width="11.3"/>
<line x1="1038.3" y1="1123.1" x2="1049.5" y2="1123.8" stroke="#6e0c14" stroke-width="11.3"/>
<line x1="1060.7" y1="1124.6" x2="1049.5" y2="1123.8" stroke="#0a4a4c" stroke-width="11.3"/>
<line x1="1060.7" y1="1124.6" x2="1062.3" y2="1119.2" stroke="#0a4a4c" stroke-width="11.3"/>
<line x1="1063.8" y1="1113.9" x2="1062.3" y2="1119.2" stroke="#5e5e5e" stroke-width="11.3"/>
<line x1="1060.7" y1="1124.6" x2="1060.7" y2="1130.9" stroke="#0a4a4c" stroke-width="11.3"/>
<line x1="1060.7" y1="1137.1" x2="1060.7" y2="1130.9" stroke="#5e5e5e" stroke-width="11.3"/>
<line x1="1060.7" y1="1124.6" x2="1071.9" y2="1126.4" stroke="#0a4a4c" stroke-width="11.3"/>
<line x1="1083.1" y1="1128.2" x2="1071.9" y2="1126.4" stroke="#0a4a4c" stroke-width="11.3"/>
<line x1="1083.1" y1="1128.2" x2="1090.6" y2="1122.6" stroke="#0a4a4c" stroke-width="11.3"/>
<line x1="1098.0" y1="1116.9" x2="1090.6" y2="1122.6" stroke="#0a4a4c" stroke-width="11.3"/>
<line x1="1098.0" y1="1116.9" x2="1108.0" y2="1115.9" stroke="#0a4a4c" stroke-width="11.3"/>
<line x1="1117.9" y1="1114.8" x2="1108.0" y2="1115.9" stroke="#6e0c14" stroke-width="11.3"/>
<line x1="1098.0" y1="1116.9" x2="1090.7" y2="1112.9" stroke="#0a4a4c" stroke-width="11.3"/>
<line x1="1083.4" y1="1108.8" x2="1090.7" y2="1112.9" stroke="#5e5e5e" stroke-width="11.3"/>
<line x1="1098.0" y1="1116.9" x2="1092.4" y2="1129.3" stroke="#0a4a4c" stroke-width="11.3"/>
<line x1="1086.7" y1="1141.6" x2="1092.4" y2="1129.3" stroke="#0a4a4c" stroke-width="11.3"/>
<line x1="1086.7" y1="1141.6" x2="1094.2" y2="1141.6" stroke="#0a4a4c" stroke-width="11.3"/>
<line x1="1101.7" y1="1141.6" x2="1094.2" y2="1141.6" stroke="#6e0c14" stroke-width="11.3"/>
<line x1="1101.7" y1="1141.6" x2="1106.4" y2="1141.6" stroke="#6e0c14" stroke-width="11.3"/>
<line x1="1111.1" y1="1141.6" x2="1106.4" y2="1141.6" stroke="#5e5e5e" stroke-width="11.3"/>
<line x1="1086.7" y1="1141.6" x2="1080.4" y2="1144.5" stroke="#0a4a4c" stroke-width="11.3"/>
<line x1="1074.1" y1="1147.3" x2="1080.4" y2="1144.5" stroke="#5e5e5e" stroke-width="11.3"/>
<line x1="1083.1" y1="1128.2" x2="1089.4" y2="1141.0" stroke="#0a4a4c" stroke-width="11.3"/>
<line x1="1095.7" y1="1153.7" x2="1089.4" y2="1141.0" stroke="#6e0c14" stroke-width="11.3"/>
<line x1="1095.7" y1="1153.7" x2="1096.8" y2="1159.6" stroke="#6e0c14" stroke-width="11.3"/>
<line x1="1097.8" y1="1165.6" x2="1096.8" y2="1159.6" stroke="#0a4a4c" stroke-width="11.3"/>
<line x1="1086.7" y1="1141.6" x2="1092.3" y2="1153.6" stroke="#0a4a4c" stroke-width="11.3"/>
<line x1="1097.8" y1="1165.6" x2="1092.3" y2="1153.6" stroke="#0a4a4c" stroke-width="11.3"/>
<line x1="1097.8" y1="1165.6" x2="1107.0" y2="1167.4" stroke="#0a4a4c" stroke-width="11.3"/>
<line x1="1116.2" y1="1169.3" x2="1107.0" y2="1167.4" stroke="#5e5e5e" stroke-width="11.3"/>
<line x1="1097.8" y1="1165.6" x2="1092.3" y2="1176.8" stroke="#0a4a4c" stroke-width="11.3"/>
<line x1="1086.7" y1="1188.1" x2="1092.3" y2="1176.8" stroke="#181a5c" stroke-width="11.3"/>
<line x1="1086.7" y1="1188.1" x2="1075.4" y2="1190.5" stroke="#181a5c" stroke-width="11.3"/>
<line x1="1064.0" y1="1192.9" x2="1075.4" y2="1190.5" stroke="#0a4a4c" stroke-width="11.3"/>
<line x1="1064.0" y1="1192.9" x2="1057.5" y2="1189.7" stroke="#0a4a4c" stroke-width="11.3"/>
<line x1="1051.0" y1="1186.4" x2="1057.5" y2="1189.7" stroke="#5e5e5e" stroke-width="11.3"/>
<line x1="1064.0" y1="1192.9" x2="1057.3" y2="1209.2" stroke="#0a4a4c" stroke-width="11.3"/>
<line x1="1050.6" y1="1225.5" x2="1057.3" y2="1209.2" stroke="#0a4a4c" stroke-width="11.3"/>
<line x1="1050.6" y1="1225.5" x2="1044.9" y2="1225.5" stroke="#0a4a4c" stroke-width="11.3"/>
<line x1="1039.2" y1="1225.5" x2="1044.9" y2="1225.5" stroke="#5e5e5e" stroke-width="11.3"/>
<line x1="1050.6" y1="1225.5" x2="1061.1" y2="1236.0" stroke="#0a4a4c" stroke-width="11.3"/>
<line x1="1071.6" y1="1246.5" x2="1061.1" y2="1236.0" stroke="#0a4a4c" stroke-width="11.3"/>
<line x1="1071.6" y1="1246.5" x2="1071.6" y2="1258.0" stroke="#0a4a4c" stroke-width="11.3"/>
<line x1="1071.6" y1="1269.5" x2="1071.6" y2="1258.0" stroke="#181a5c" stroke-width="11.3"/>
<line x1="1071.6" y1="1269.5" x2="1063.5" y2="1269.5" stroke="#181a5c" stroke-width="11.3"/>
<line x1="1055.4" y1="1269.5" x2="1063.5" y2="1269.5" stroke="#5e5e5e" stroke-width="11.3"/>
<line x1="1071.6" y1="1269.5" x2="1075.7" y2="1273.5" stroke="#181a5c" stroke-width="11.3"/>
<line x1="1079.8" y1="1277.6" x2="1075.7" y2="1273.5" stroke="#5e5e5e" stroke-width="11.3"/>
<line x1="1071.6" y1="1246.5" x2="1084.1" y2="1241.7" stroke="#0a4a4c" stroke-width="11.3"/>
<line x1="1096.5" y1="1236.9" x2="1084.1" y2="1241.7" stroke="#181a5c" stroke-width="11.3"/>
<line x1="1096.5" y1="1236.9" x2="1099.4" y2="1221.6" stroke="#181a5c" stroke-width="11.3"/>
<line x1="1102.2" y1="1206.3" x2="1099.4" y2="1221.6" stroke="#0a4a4c" stroke-width="11.3"/>
<line x1="1102.2" y1="1206.3" x2="1111.8" y2="1205.4" stroke="#0a4a4c" stroke-width="11.3"/>
<line x1="1121.4" y1="1204.4" x2="1111.8" y2="1205.4" stroke="#6e0c14" stroke-width="11.3"/>
<line x1="1102.2" y1="1206.3" x2="1094.5" y2="1197.2" stroke="#0a4a4c" stroke-width="11.3"/>
<line x1="1086.7" y1="1188.1" x2="1094.5" y2="1197.2" stroke="#181a5c" stroke-width="11.3"/>
<line x1="1159.7" y1="1233.1" x2="1165.4" y2="1229.9" stroke="#181a5c" stroke-width="11.3"/>
<line x1="1171.1" y1="1226.6" x2="1165.4" y2="1229.9" stroke="#5e5e5e" stroke-width="11.3"/>
<line x1="1159.7" y1="1233.1" x2="1153.2" y2="1230.7" stroke="#181a5c" stroke-width="11.3"/>
<line x1="1146.7" y1="1228.2" x2="1153.2" y2="1230.7" stroke="#5e5e5e" stroke-width="11.3"/>
<line x1="1159.7" y1="1233.1" x2="1159.7" y2="1242.7" stroke="#181a5c" stroke-width="11.3"/>
<line x1="1159.7" y1="1252.2" x2="1159.7" y2="1242.7" stroke="#0a4a4c" stroke-width="11.3"/>
<line x1="1159.7" y1="1252.2" x2="1147.2" y2="1260.9" stroke="#0a4a4c" stroke-width="11.3"/>
<line x1="1134.8" y1="1269.5" x2="1147.2" y2="1260.9" stroke="#181a5c" stroke-width="11.3"/>
<line x1="1134.8" y1="1269.5" x2="1129.1" y2="1267.0" stroke="#181a5c" stroke-width="11.3"/>
<line x1="1123.4" y1="1264.6" x2="1129.1" y2="1267.0" stroke="#5e5e5e" stroke-width="11.3"/>
<line x1="1134.8" y1="1269.5" x2="1130.0" y2="1282.9" stroke="#181a5c" stroke-width="11.3"/>
<line x1="1125.2" y1="1296.3" x2="1130.0" y2="1282.9" stroke="#0a4a4c" stroke-width="11.3"/>
<line x1="1125.2" y1="1296.3" x2="1118.5" y2="1298.2" stroke="#0a4a4c" stroke-width="11.3"/>
<line x1="1111.8" y1="1300.1" x2="1118.5" y2="1298.2" stroke="#6e0c14" stroke-width="11.3"/>
<line x1="1125.2" y1="1296.3" x2="1136.7" y2="1303.0" stroke="#0a4a4c" stroke-width="11.3"/>
<line x1="1148.2" y1="1309.7" x2="1136.7" y2="1303.0" stroke="#0a4a4c" stroke-width="11.3"/>
<line x1="1148.2" y1="1309.7" x2="1152.0" y2="1325.0" stroke="#0a4a4c" stroke-width="11.3"/>
<line x1="1155.8" y1="1340.3" x2="1152.0" y2="1325.0" stroke="#181a5c" stroke-width="11.3"/>
<line x1="1155.8" y1="1340.3" x2="1167.3" y2="1340.3" stroke="#181a5c" stroke-width="11.3"/>
<line x1="1178.8" y1="1340.3" x2="1167.3" y2="1340.3" stroke="#0a4a4c" stroke-width="11.3"/>
<line x1="1178.8" y1="1340.3" x2="1182.9" y2="1346.8" stroke="#0a4a4c" stroke-width="11.3"/>
<line x1="1186.9" y1="1353.3" x2="1182.9" y2="1346.8" stroke="#5e5e5e" stroke-width="11.3"/>
<line x1="1178.8" y1="1340.3" x2="1184.5" y2="1328.8" stroke="#0a4a4c" stroke-width="11.3"/>
<line x1="1190.3" y1="1317.3" x2="1184.5" y2="1328.8" stroke="#181a5c" stroke-width="11.3"/>
<line x1="1190.3" y1="1317.3" x2="1183.6" y2="1310.6" stroke="#181a5c" stroke-width="11.3"/>
<line x1="1176.9" y1="1303.9" x2="1183.6" y2="1310.6" stroke="#0a4a4c" stroke-width="11.3"/>
<line x1="1176.9" y1="1303.9" x2="1162.5" y2="1306.8" stroke="#0a4a4c" stroke-width="11.3"/>
<line x1="1148.2" y1="1309.7" x2="1162.5" y2="1306.8" stroke="#0a4a4c" stroke-width="11.3"/>
<line x1="1176.9" y1="1303.9" x2="1178.8" y2="1289.6" stroke="#0a4a4c" stroke-width="11.3"/>
<line x1="1180.7" y1="1275.2" x2="1178.8" y2="1289.6" stroke="#181a5c" stroke-width="11.3"/>
<line x1="1180.7" y1="1275.2" x2="1170.2" y2="1263.7" stroke="#181a5c" stroke-width="11.3"/>
<line x1="1159.7" y1="1252.2" x2="1170.2" y2="1263.7" stroke="#0a4a4c" stroke-width="11.3"/>
<line x1="1190.3" y1="1317.3" x2="1202.7" y2="1313.5" stroke="#181a5c" stroke-width="11.3"/>
<line x1="1215.2" y1="1309.7" x2="1202.7" y2="1313.5" stroke="#0a4a4c" stroke-width="11.3"/>
<line x1="1215.2" y1="1309.7" x2="1213.5" y2="1306.4" stroke="#0a4a4c" stroke-width="11.3"/>
<line x1="1211.9" y1="1303.2" x2="1213.5" y2="1306.4" stroke="#5e5e5e" stroke-width="11.3"/>
<line x1="1215.2" y1="1309.7" x2="1225.7" y2="1306.8" stroke="#0a4a4c" stroke-width="11.3"/>
<line x1="1236.2" y1="1303.9" x2="1225.7" y2="1306.8" stroke="#6e0c14" stroke-width="11.3"/>
<line x1="1236.2" y1="1303.9" x2="1244.8" y2="1308.7" stroke="#6e0c14" stroke-width="11.3"/>
<line x1="1253.4" y1="1313.5" x2="1244.8" y2="1308.7" stroke="#0a4a4c" stroke-width="11.3"/>
<line x1="1253.4" y1="1313.5" x2="1257.3" y2="1325.0" stroke="#0a4a4c" stroke-width="11.3"/>
<line x1="1261.1" y1="1336.5" x2="1257.3" y2="1325.0" stroke="#0a4a4c" stroke-width="11.3"/>
<line x1="1261.1" y1="1336.5" x2="1244.8" y2="1335.5" stroke="#0a4a4c" stroke-width="11.3"/>
<line x1="1228.6" y1="1334.5" x2="1244.8" y2="1335.5" stroke="#0a4a4c" stroke-width="11.3"/>
<line x1="1228.6" y1="1334.5" x2="1221.9" y2="1322.1" stroke="#0a4a4c" stroke-width="11.3"/>
<line x1="1215.2" y1="1309.7" x2="1221.9" y2="1322.1" stroke="#0a4a4c" stroke-width="11.3"/>
<line x1="1228.6" y1="1334.5" x2="1227.6" y2="1339.3" stroke="#0a4a4c" stroke-width="11.3"/>
<line x1="1226.7" y1="1344.1" x2="1227.6" y2="1339.3" stroke="#6e0c14" stroke-width="11.3"/>
<line x1="1261.1" y1="1336.5" x2="1263.5" y2="1342.2" stroke="#0a4a4c" stroke-width="11.3"/>
<line x1="1266.0" y1="1347.8" x2="1263.5" y2="1342.2" stroke="#5e5e5e" stroke-width="11.3"/>
<line x1="1253.4" y1="1313.5" x2="1263.0" y2="1317.3" stroke="#0a4a4c" stroke-width="11.3"/>
<line x1="1272.6" y1="1321.1" x2="1263.0" y2="1317.3" stroke="#6e0c14" stroke-width="11.3"/>
<line x1="1226.7" y1="1344.1" x2="1221.9" y2="1355.6" stroke="#6e0c14" stroke-width="11.3"/>
<line x1="1217.1" y1="1367.1" x2="1221.9" y2="1355.6" stroke="#584826" stroke-width="11.3"/>
<line x1="1217.1" y1="1367.1" x2="1224.7" y2="1366.1" stroke="#584826" stroke-width="11.3"/>
<line x1="1232.4" y1="1365.2" x2="1224.7" y2="1366.1" stroke="#6e0c14" stroke-width="11.3"/>
<line x1="1217.1" y1="1367.1" x2="1209.4" y2="1374.7" stroke="#584826" stroke-width="11.3"/>
<line x1="1201.8" y1="1382.4" x2="1209.4" y2="1374.7" stroke="#6e0c14" stroke-width="11.3"/>
<line x1="1012.3" y1="1116.4" x2="1004.4" y2="1118.6" stroke="#9a844c" stroke-width="7.5"/>
<line x1="996.6" y1="1120.8" x2="1004.4" y2="1118.6" stroke="#d8202e" stroke-width="7.5"/>
<line x1="1012.3" y1="1116.4" x2="1011.5" y2="1123.8" stroke="#9a844c" stroke-width="7.5"/>
<line x1="1010.8" y1="1131.3" x2="1011.5" y2="1123.8" stroke="#d8202e" stroke-width="7.5"/>
<line x1="1012.3" y1="1116.4" x2="1025.3" y2="1119.7" stroke="#9a844c" stroke-width="7.5"/>
<line x1="1038.3" y1="1123.1" x2="1025.3" y2="1119.7" stroke="#d8202e" stroke-width="7.5"/>
<line x1="1038.3" y1="1123.1" x2="1049.5" y2="1123.8" stroke="#d8202e" stroke-width="7.5"/>
<line x1="1060.7" y1="1124.6" x2="1049.5" y2="1123.8" stroke="#188f8f" stroke-width="7.5"/>
<line x1="1060.7" y1="1124.6" x2="1062.3" y2="1119.2" stroke="#188f8f" stroke-width="7.5"/>
<line x1="1063.8" y1="1113.9" x2="1062.3" y2="1119.2" stroke="#bcbcbc" stroke-width="7.5"/>
<line x1="1060.7" y1="1124.6" x2="1060.7" y2="1130.9" stroke="#188f8f" stroke-width="7.5"/>
<line x1="1060.7" y1="1137.1" x2="1060.7" y2="1130.9" stroke="#bcbcbc" stroke-width="7.5"/>
<line x1="1060.7" y1="1124.6" x2="1071.9" y2="1126.4" stroke="#188f8f" stroke-width="7.5"/>
<line x1="1083.1" y1="1128.2" x2="1071.9" y2="1126.4" stroke="#188f8f" stroke-width="7.5"/>
<line x1="1083.1" y1="1128.2" x2="1090.6" y2="1122.6" stroke="#188f8f" stroke-width="7.5"/>
<line x1="1098.0" y1="1116.9" x2="1090.6" y2="1122.6" stroke="#188f8f" stroke-width="7.5"/>
<line x1="1098.0" y1="1116.9" x2="1108.0" y2="1115.9" stroke="#188f8f" stroke-width="7.5"/>
<line x1="1117.9" y1="1114.8" x2="1108.0" y2="1115.9" stroke="#d8202e" stroke-width="7.5"/>
<line x1="1098.0" y1="1116.9" x2="1090.7" y2="1112.9" stroke="#188f8f" stroke-width="7.5"/>
<line x1="1083.4" y1="1108.8" x2="1090.7" y2="1112.9" stroke="#bcbcbc" stroke-width="7.5"/>
<line x1="1098.0" y1="1116.9" x2="1092.4" y2="1129.3" stroke="#188f8f" stroke-width="7.5"/>
<line x1="1086.7" y1="1141.6" x2="1092.4" y2="1129.3" stroke="#188f8f" stroke-width="7.5"/>
<line x1="1086.7" y1="1141.6" x2="1094.2" y2="1141.6" stroke="#188f8f" stroke-width="7.5"/>
<line x1="1101.7" y1="1141.6" x2="1094.2" y2="1141.6" stroke="#d8202e" stroke-width="7.5"/>
<line x1="1101.7" y1="1141.6" x2="1106.4" y2="1141.6" stroke="#d8202e" stroke-width="7.5"/>
<line x1="1111.1" y1="1141.6" x2="1106.4" y2="1141.6" stroke="#bcbcbc" stroke-width="7.5"/>
<line x1="1086.7" y1="1141.6" x2="1080.4" y2="1144.5" stroke="#188f8f" stroke-width="7.5"/>
<line x1="1074.1" y1="1147.3" x2="1080.4" y2="1144.5" stroke="#bcbcbc" stroke-width="7.5"/>
<line x1="1083.1" y1="1128.2" x2="1089.4" y2="1141.0" stroke="#188f8f" stroke-width="7.5"/>
<line x1="1095.7" y1="1153.7" x2="1089.4" y2="1141.0" stroke="#d8202e" stroke-width="7.5"/>
<line x1="1095.7" y1="1153.7" x2="1096.8" y2="1159.6" stroke="#d8202e" stroke-width="7.5"/>
<line x1="1097.8" y1="1165.6" x2="1096.8" y2="1159.6" stroke="#188f8f" stroke-width="7.5"/>
<line x1="1086.7" y1="1141.6" x2="1092.3" y2="1153.6" stroke="#188f8f" stroke-width="7.5"/>
<line x1="1097.8" y1="1165.6" x2="1092.3" y2="1153.6" stroke="#188f8f" stroke-width="7.5"/>
<line x1="1097.8" y1="1165.6" x2="1107.0" y2="1167.4" stroke="#188f8f" stroke-width="7.5"/>
<line x1="1116.2" y1="1169.3" x2="1107.0" y2="1167.4" stroke="#bcbcbc" stroke-width="7.5"/>
<line x1="1097.8" y1="1165.6" x2="1092.3" y2="1176.8" stroke="#188f8f" stroke-width="7.5"/>
<line x1="1086.7" y1="1188.1" x2="1092.3" y2="1176.8" stroke="#2e32a2" stroke-width="7.5"/>
<line x1="1086.7" y1="1188.1" x2="1075.4" y2="1190.5" stroke="#2e32a2" stroke-width="7.5"/>
<line x1="1064.0" y1="1192.9" x2="1075.4" y2="1190.5" stroke="#188f8f" stroke-width="7.5"/>
<line x1="1064.0" y1="1192.9" x2="1057.5" y2="1189.7" stroke="#188f8f" stroke-width="7.5"/>
<line x1="1051.0" y1="1186.4" x2="1057.5" y2="1189.7" stroke="#bcbcbc" stroke-width="7.5"/>
<line x1="1064.0" y1="1192.9" x2="1057.3" y2="1209.2" stroke="#188f8f" stroke-width="7.5"/>
<line x1="1050.6" y1="1225.5" x2="1057.3" y2="1209.2" stroke="#188f8f" stroke-width="7.5"/>
<line x1="1050.6" y1="1225.5" x2="1044.9" y2="1225.5" stroke="#188f8f" stroke-width="7.5"/>
<line x1="1039.2" y1="1225.5" x2="1044.9" y2="1225.5" stroke="#bcbcbc" stroke-width="7.5"/>
<line x1="1050.6" y1="1225.5" x2="1061.1" y2="1236.0" stroke="#188f8f" stroke-width="7.5"/>
<line x1="1071.6" y1="1246.5" x2="1061.1" y2="1236.0" stroke="#188f8f" stroke-width="7.5"/>
<line x1="1071.6" y1="1246.5" x2="1071.6" y2="1258.0" stroke="#188f8f" stroke-width="7.5"/>
<line x1="1071.6" y1="1269.5" x2="1071.6" y2="1258.0" stroke="#2e32a2" stroke-width="7.5"/>
<line x1="1071.6" y1="1269.5" x2="1063.5" y2="1269.5" stroke="#2e32a2" stroke-width="7.5"/>
<line x1="1055.4" y1="1269.5" x2="1063.5" y2="1269.5" stroke="#bcbcbc" stroke-width="7.5"/>
<line x1="1071.6" y1="1269.5" x2="1075.7" y2="1273.5" stroke="#2e32a2" stroke-width="7.5"/>
<line x1="1079.8" y1="1277.6" x2="1075.7" y2="1273.5" stroke="#bcbcbc" stroke-width="7.5"/>
<line x1="1071.6" y1="1246.5" x2="1084.1" y2="1241.7" stroke="#188f8f" stroke-width="7.5"/>
<line x1="1096.5" y1="1236.9" x2="1084.1" y2="1241.7" stroke="#2e32a2" stroke-width="7.5"/>
<line x1="1096.5" y1="1236.9" x2="1099.4" y2="1221.6" stroke="#2e32a2" stroke-width="7.5"/>
<line x1="1102.2" y1="1206.3" x2="1099.4" y2="1221.6" stroke="#188f8f" stroke-width="7.5"/>
<line x1="1102.2" y1="1206.3" x2="1111.8" y2="1205.4" stroke="#188f8f" stroke-width="7.5"/>
<line x1="1121.4" y1="1204.4" x2="1111.8" y2="1205.4" stroke="#d8202e" stroke-width="7.5"/>
<line x1="1102.2" y1="1206.3" x2="1094.5" y2="1197.2" stroke="#188f8f" stroke-width="7.5"/>
<line x1="1086.7" y1="1188.1" x2="1094.5" y2="1197.2" stroke="#2e32a2" stroke-width="7.5"/>
<line x1="1159.7" y1="1233.1" x2="1165.4" y2="1229.9" stroke="#2e32a2" stroke-width="7.5"/>
<line x1="1171.1" y1="1226.6" x2="1165.4" y2="1229.9" stroke="#bcbcbc" stroke-width="7.5"/>
<line x1="1159.7" y1="1233.1" x2="1153.2" y2="1230.7" stroke="#2e32a2" stroke-width="7.5"/>
<line x1="1146.7" y1="1228.2" x2="1153.2" y2="1230.7" stroke="#bcbcbc" stroke-width="7.5"/>
<line x1="1159.7" y1="1233.1" x2="1159.7" y2="1242.7" stroke="#2e32a2" stroke-width="7.5"/>
<line x1="1159.7" y1="1252.2" x2="1159.7" y2="1242.7" stroke="#188f8f" stroke-width="7.5"/>
<line x1="1159.7" y1="1252.2" x2="1147.2" y2="1260.9" stroke="#188f8f" stroke-width="7.5"/>
<line x1="1134.8" y1="1269.5" x2="1147.2" y2="1260.9" stroke="#2e32a2" stroke-width="7.5"/>
<line x1="1134.8" y1="1269.5" x2="1129.1" y2="1267.0" stroke="#2e32a2" stroke-width="7.5"/>
<line x1="1123.4" y1="1264.6" x2="1129.1" y2="1267.0" stroke="#bcbcbc" stroke-width="7.5"/>
<line x1="1134.8" y1="1269.5" x2="1130.0" y2="1282.9" stroke="#2e32a2" stroke-width="7.5"/>
<line x1="1125.2" y1="1296.3" x2="1130.0" y2="1282.9" stroke="#188f8f" stroke-width="7.5"/>
<line x1="1125.2" y1="1296.3" x2="1118.5" y2="1298.2" stroke="#188f8f" stroke-width="7.5"/>
<line x1="1111.8" y1="1300.1" x2="1118.5" y2="1298.2" stroke="#d8202e" stroke-width="7.5"/>
<line x1="1125.2" y1="1296.3" x2="1136.7" y2="1303.0" stroke="#188f8f" stroke-width="7.5"/>
<line x1="1148.2" y1="1309.7" x2="1136.7" y2="1303.0" stroke="#188f8f" stroke-width="7.5"/>
<line x1="1148.2" y1="1309.7" x2="1152.0" y2="1325.0" stroke="#188f8f" stroke-width="7.5"/>
<line x1="1155.8" y1="1340.3" x2="1152.0" y2="1325.0" stroke="#2e32a2" stroke-width="7.5"/>
<line x1="1155.8" y1="1340.3" x2="1167.3" y2="1340.3" stroke="#2e32a2" stroke-width="7.5"/>
<line x1="1178.8" y1="1340.3" x2="1167.3" y2="1340.3" stroke="#188f8f" stroke-width="7.5"/>
<line x1="1178.8" y1="1340.3" x2="1182.9" y2="1346.8" stroke="#188f8f" stroke-width="7.5"/>
<line x1="1186.9" y1="1353.3" x2="1182.9" y2="1346.8" stroke="#bcbcbc" stroke-width="7.5"/>
<line x1="1178.8" y1="1340.3" x2="1184.5" y2="1328.8" stroke="#188f8f" stroke-width="7.5"/>
<line x1="1190.3" y1="1317.3" x2="1184.5" y2="1328.8" stroke="#2e32a2" stroke-width="7.5"/>
<line x1="1190.3" y1="1317.3" x2="1183.6" y2="1310.6" stroke="#2e32a2" stroke-width="7.5"/>
<line x1="1176.9" y1="1303.9" x2="1183.6" y2="1310.6" stroke="#188f8f" stroke-width="7.5"/>
<line x1="1176.9" y1="1303.9" x2="1162.5" y2="1306.8" stroke="#188f8f" stroke-width="7.5"/>
<line x1="1148.2" y1="1309.7" x2="1162.5" y2="1306.8" stroke="#188f8f" stroke-width="7.5"/>
<line x1="1176.9" y1="1303.9" x2="1178.8" y2="1289.6" stroke="#188f8f" stroke-width="7.5"/>
<line x1="1180.7" y1="1275.2" x2="1178.8" y2="1289.6" stroke="#2e32a2" stroke-width="7.5"/>
<line x1="1180.7" y1="1275.2" x2="1170.2" y2="1263.7" stroke="#2e32a2" stroke-width="7.5"/>
<line x1="1159.7" y1="1252.2" x2="1170.2" y2="1263.7" stroke="#188f8f" stroke-width="7.5"/>
<line x1="1190.3" y1="1317.3" x2="1202.7" y2="1313.5" stroke="#2e32a2" stroke-width="7.5"/>
<line x1="1215.2" y1="1309.7" x2="1202.7" y2="1313.5" stroke="#188f8f" stroke-width="7.5"/>
<line x1="1215.2" y1="1309.7" x2="1213.5" y2="1306.4" stroke="#188f8f" stroke-width="7.5"/>
<line x1="1211.9" y1="1303.2" x2="1213.5" y2="1306.4" stroke="#bcbcbc" stroke-width="7.5"/>
<line x1="1215.2" y1="1309.7" x2="1225.7" y2="1306.8" stroke="#188f8f" stroke-width="7.5"/>
<line x1="1236.2" y1="1303.9" x2="1225.7" y2="1306.8" stroke="#d8202e" stroke-width="7.5"/>
<line x1="1236.2" y1="1303.9" x2="1244.8" y2="1308.7" stroke="#d8202e" stroke-width="7.5"/>
<line x1="1253.4" y1="1313.5" x2="1244.8" y2="1308.7" stroke="#188f8f" stroke-width="7.5"/>
<line x1="1253.4" y1="1313.5" x2="1257.3" y2="1325.0" stroke="#188f8f" stroke-width="7.5"/>
<line x1="1261.1" y1="1336.5" x2="1257.3" y2="1325.0" stroke="#188f8f" stroke-width="7.5"/>
<line x1="1261.1" y1="1336.5" x2="1244.8" y2="1335.5" stroke="#188f8f" stroke-width="7.5"/>
<line x1="1228.6" y1="1334.5" x2="1244.8" y2="1335.5" stroke="#188f8f" stroke-width="7.5"/>
<line x1="1228.6" y1="1334.5" x2="1221.9" y2="1322.1" stroke="#188f8f" stroke-width="7.5"/>
<line x1="1215.2" y1="1309.7" x2="1221.9" y2="1322.1" stroke="#188f8f" stroke-width="7.5"/>
<line x1="1228.6" y1="1334.5" x2="1227.6" y2="1339.3" stroke="#188f8f" stroke-width="7.5"/>
<line x1="1226.7" y1="1344.1" x2="1227.6" y2="1339.3" stroke="#d8202e" stroke-width="7.5"/>
<line x1="1261.1" y1="1336.5" x2="1263.5" y2="1342.2" stroke="#188f8f" stroke-width="7.5"/>
<line x1="1266.0" y1="1347.8" x2="1263.5" y2="1342.2" stroke="#bcbcbc" stroke-width="7.5"/>
<line x1="1253.4" y1="1313.5" x2="1263.0" y2="1317.3" stroke="#188f8f" stroke-width="7.5"/>
<line x1="1272.6" y1="1321.1" x2="1263.0" y2="1317.3" stroke="#d8202e" stroke-width="7.5"/>
<line x1="1226.7" y1="1344.1" x2="1221.9" y2="1355.6" stroke="#d8202e" stroke-width="7.5"/>
<line x1="1217.1" y1="1367.1" x2="1221.9" y2="1355.6" stroke="#9a844c" stroke-width="7.5"/>
<line x1="1217.1" y1="1367.1" x2="1224.7" y2="1366.1" stroke="#9a844c" stroke-width="7.5"/>
<line x1="1232.4" y1="1365.2" x2="1224.7" y2="1366.1" stroke="#d8202e" stroke-width="7.5"/>
<line x1="1217.1" y1="1367.1" x2="1209.4" y2="1374.7" stroke="#9a844c" stroke-width="7.5"/>
<line x1="1201.8" y1="1382.4" x2="1209.4" y2="1374.7" stroke="#d8202e" stroke-width="7.5"/>
</g>
<g stroke-linecap="round">
<line x1="1135.6" y1="1675.0" x2="1137.6" y2="1709.5" stroke="#e88080" stroke-width="1.6"/>
<line x1="1187.3" y1="1684.6" x2="1177.8" y2="1717.1" stroke="#e88080" stroke-width="1.6"/>
<line x1="994.0" y1="1585.1" x2="987.3" y2="1576.5" stroke="#584826" stroke-width="11.3"/>
<line x1="980.6" y1="1567.8" x2="987.3" y2="1576.5" stroke="#6e0c14" stroke-width="11.3"/>
<line x1="994.0" y1="1585.1" x2="990.2" y2="1597.5" stroke="#584826" stroke-width="11.3"/>
<line x1="986.4" y1="1610.0" x2="990.2" y2="1597.5" stroke="#6e0c14" stroke-width="11.3"/>
<line x1="994.0" y1="1585.1" x2="1004.5" y2="1583.2" stroke="#584826" stroke-width="11.3"/>
<line x1="1015.1" y1="1581.2" x2="1004.5" y2="1583.2" stroke="#6e0c14" stroke-width="11.3"/>
<line x1="1015.1" y1="1581.2" x2="1023.7" y2="1590.8" stroke="#6e0c14" stroke-width="11.3"/>
<line x1="1032.3" y1="1600.4" x2="1023.7" y2="1590.8" stroke="#0a4a4c" stroke-width="11.3"/>
<line x1="1032.3" y1="1600.4" x2="1029.0" y2="1607.7" stroke="#0a4a4c" stroke-width="11.3"/>
<line x1="1025.8" y1="1615.0" x2="1029.0" y2="1607.7" stroke="#5e5e5e" stroke-width="11.3"/>
<line x1="1032.3" y1="1600.4" x2="1044.7" y2="1599.4" stroke="#0a4a4c" stroke-width="11.3"/>
<line x1="1057.2" y1="1598.5" x2="1044.7" y2="1599.4" stroke="#0a4a4c" stroke-width="11.3"/>
<line x1="1057.2" y1="1598.5" x2="1064.8" y2="1587.9" stroke="#0a4a4c" stroke-width="11.3"/>
<line x1="1072.5" y1="1577.4" x2="1064.8" y2="1587.9" stroke="#0a4a4c" stroke-width="11.3"/>
<line x1="1072.5" y1="1577.4" x2="1069.6" y2="1568.8" stroke="#0a4a4c" stroke-width="11.3"/>
<line x1="1066.7" y1="1560.2" x2="1069.6" y2="1568.8" stroke="#6e0c14" stroke-width="11.3"/>
<line x1="1057.2" y1="1598.5" x2="1064.8" y2="1610.0" stroke="#0a4a4c" stroke-width="11.3"/>
<line x1="1072.5" y1="1621.4" x2="1064.8" y2="1610.0" stroke="#6e0c14" stroke-width="11.3"/>
<line x1="1072.5" y1="1577.4" x2="1086.8" y2="1583.2" stroke="#0a4a4c" stroke-width="11.3"/>
<line x1="1101.2" y1="1588.9" x2="1086.8" y2="1583.2" stroke="#0a4a4c" stroke-width="11.3"/>
<line x1="1101.2" y1="1588.9" x2="1101.2" y2="1580.3" stroke="#0a4a4c" stroke-width="11.3"/>
<line x1="1101.2" y1="1571.7" x2="1101.2" y2="1580.3" stroke="#6e0c14" stroke-width="11.3"/>
<line x1="1101.2" y1="1588.9" x2="1107.7" y2="1589.7" stroke="#0a4a4c" stroke-width="11.3"/>
<line x1="1114.2" y1="1590.5" x2="1107.7" y2="1589.7" stroke="#5e5e5e" stroke-width="11.3"/>
<line x1="1101.2" y1="1588.9" x2="1098.3" y2="1602.3" stroke="#0a4a4c" stroke-width="11.3"/>
<line x1="1095.5" y1="1615.7" x2="1098.3" y2="1602.3" stroke="#0a4a4c" stroke-width="11.3"/>
<line x1="1095.5" y1="1615.7" x2="1084.0" y2="1618.6" stroke="#0a4a4c" stroke-width="11.3"/>
<line x1="1072.5" y1="1621.4" x2="1084.0" y2="1618.6" stroke="#6e0c14" stroke-width="11.3"/>
<line x1="1095.5" y1="1615.7" x2="1105.0" y2="1625.3" stroke="#0a4a4c" stroke-width="11.3"/>
<line x1="1114.6" y1="1634.8" x2="1105.0" y2="1625.3" stroke="#181a5c" stroke-width="11.3"/>
<line x1="1114.6" y1="1634.8" x2="1113.6" y2="1647.3" stroke="#181a5c" stroke-width="11.3"/>
<line x1="1112.7" y1="1659.7" x2="1113.6" y2="1647.3" stroke="#0a4a4c" stroke-width="11.3"/>
<line x1="1112.7" y1="1659.7" x2="1105.4" y2="1663.0" stroke="#0a4a4c" stroke-width="11.3"/>
<line x1="1098.0" y1="1666.2" x2="1105.4" y2="1663.0" stroke="#5e5e5e" stroke-width="11.3"/>
<line x1="1112.7" y1="1659.7" x2="1124.2" y2="1666.4" stroke="#0a4a4c" stroke-width="11.3"/>
<line x1="1135.6" y1="1673.1" x2="1124.2" y2="1666.4" stroke="#181a5c" stroke-width="11.3"/>
<line x1="1135.6" y1="1673.1" x2="1144.3" y2="1662.6" stroke="#181a5c" stroke-width="11.3"/>
<line x1="1152.9" y1="1652.1" x2="1144.3" y2="1662.6" stroke="#0a4a4c" stroke-width="11.3"/>
<line x1="1152.9" y1="1652.1" x2="1148.1" y2="1641.5" stroke="#0a4a4c" stroke-width="11.3"/>
<line x1="1143.3" y1="1631.0" x2="1148.1" y2="1641.5" stroke="#0a4a4c" stroke-width="11.3"/>
<line x1="1143.3" y1="1631.0" x2="1128.9" y2="1632.9" stroke="#0a4a4c" stroke-width="11.3"/>
<line x1="1114.6" y1="1634.8" x2="1128.9" y2="1632.9" stroke="#181a5c" stroke-width="11.3"/>
<line x1="1143.3" y1="1631.0" x2="1148.1" y2="1620.5" stroke="#0a4a4c" stroke-width="11.3"/>
<line x1="1152.9" y1="1610.0" x2="1148.1" y2="1620.5" stroke="#181a5c" stroke-width="11.3"/>
<line x1="1152.9" y1="1610.0" x2="1166.3" y2="1609.0" stroke="#181a5c" stroke-width="11.3"/>
<line x1="1179.7" y1="1608.0" x2="1166.3" y2="1609.0" stroke="#0a4a4c" stroke-width="11.3"/>
<line x1="1179.7" y1="1608.0" x2="1182.1" y2="1605.6" stroke="#0a4a4c" stroke-width="11.3"/>
<line x1="1184.5" y1="1603.2" x2="1182.1" y2="1605.6" stroke="#5e5e5e" stroke-width="11.3"/>
<line x1="1179.7" y1="1608.0" x2="1187.3" y2="1620.5" stroke="#0a4a4c" stroke-width="11.3"/>
<line x1="1195.0" y1="1632.9" x2="1187.3" y2="1620.5" stroke="#181a5c" stroke-width="11.3"/>
<line x1="1195.0" y1="1632.9" x2="1187.3" y2="1642.5" stroke="#181a5c" stroke-width="11.3"/>
<line x1="1179.7" y1="1652.1" x2="1187.3" y2="1642.5" stroke="#0a4a4c" stroke-width="11.3"/>
<line x1="1179.7" y1="1652.1" x2="1166.3" y2="1652.1" stroke="#0a4a4c" stroke-width="11.3"/>
<line x1="1152.9" y1="1652.1" x2="1166.3" y2="1652.1" stroke="#0a4a4c" stroke-width="11.3"/>
<line x1="1179.7" y1="1652.1" x2="1189.2" y2="1661.6" stroke="#0a4a4c" stroke-width="11.3"/>
<line x1="1198.8" y1="1671.2" x2="1189.2" y2="1661.6" stroke="#181a5c" stroke-width="11.3"/>
<line x1="1198.8" y1="1671.2" x2="1202.9" y2="1673.6" stroke="#181a5c" stroke-width="11.3"/>
<line x1="1206.9" y1="1676.1" x2="1202.9" y2="1673.6" stroke="#5e5e5e" stroke-width="11.3"/>
<line x1="1198.8" y1="1671.2" x2="1193.9" y2="1676.9" stroke="#181a5c" stroke-width="11.3"/>
<line x1="1189.0" y1="1682.6" x2="1193.9" y2="1676.9" stroke="#5e5e5e" stroke-width="11.3"/>
<line x1="1131.8" y1="1726.7" x2="1134.3" y2="1719.4" stroke="#181a5c" stroke-width="11.3"/>
<line x1="1136.7" y1="1712.1" x2="1134.3" y2="1719.4" stroke="#5e5e5e" stroke-width="11.3"/>
<line x1="1131.8" y1="1726.7" x2="1128.6" y2="1728.3" stroke="#181a5c" stroke-width="11.3"/>
<line x1="1125.3" y1="1730.0" x2="1128.6" y2="1728.3" stroke="#5e5e5e" stroke-width="11.3"/>
<line x1="1131.8" y1="1726.7" x2="1142.3" y2="1729.6" stroke="#181a5c" stroke-width="11.3"/>
<line x1="1152.9" y1="1732.4" x2="1142.3" y2="1729.6" stroke="#0a4a4c" stroke-width="11.3"/>
<line x1="1152.9" y1="1732.4" x2="1163.4" y2="1726.7" stroke="#0a4a4c" stroke-width="11.3"/>
<line x1="1173.9" y1="1721.0" x2="1163.4" y2="1726.7" stroke="#181a5c" stroke-width="11.3"/>
<line x1="1173.9" y1="1721.0" x2="1186.4" y2="1725.7" stroke="#181a5c" stroke-width="11.3"/>
<line x1="1198.8" y1="1730.5" x2="1186.4" y2="1725.7" stroke="#0a4a4c" stroke-width="11.3"/>
<line x1="1198.8" y1="1730.5" x2="1203.6" y2="1726.7" stroke="#0a4a4c" stroke-width="11.3"/>
<line x1="1208.4" y1="1722.9" x2="1203.6" y2="1726.7" stroke="#6e0c14" stroke-width="11.3"/>
<line x1="1198.8" y1="1730.5" x2="1200.7" y2="1744.9" stroke="#0a4a4c" stroke-width="11.3"/>
<line x1="1202.6" y1="1759.2" x2="1200.7" y2="1744.9" stroke="#181a5c" stroke-width="11.3"/>
<line x1="1202.6" y1="1759.2" x2="1193.1" y2="1766.9" stroke="#181a5c" stroke-width="11.3"/>
<line x1="1183.5" y1="1774.5" x2="1193.1" y2="1766.9" stroke="#0a4a4c" stroke-width="11.3"/>
<line x1="1183.5" y1="1774.5" x2="1183.5" y2="1780.2" stroke="#0a4a4c" stroke-width="11.3"/>
<line x1="1183.5" y1="1785.9" x2="1183.5" y2="1780.2" stroke="#5e5e5e" stroke-width="11.3"/>
<line x1="1183.5" y1="1774.5" x2="1170.1" y2="1768.8" stroke="#0a4a4c" stroke-width="11.3"/>
<line x1="1156.7" y1="1763.1" x2="1170.1" y2="1768.8" stroke="#0a4a4c" stroke-width="11.3"/>
<line x1="1156.7" y1="1763.1" x2="1152.6" y2="1767.1" stroke="#0a4a4c" stroke-width="11.3"/>
<line x1="1148.6" y1="1771.2" x2="1152.6" y2="1767.1" stroke="#5e5e5e" stroke-width="11.3"/>
<line x1="1156.7" y1="1763.1" x2="1154.8" y2="1747.8" stroke="#0a4a4c" stroke-width="11.3"/>
<line x1="1152.9" y1="1732.4" x2="1154.8" y2="1747.8" stroke="#0a4a4c" stroke-width="11.3"/>
<line x1="1202.6" y1="1759.2" x2="1211.2" y2="1761.1" stroke="#181a5c" stroke-width="11.3"/>
<line x1="1219.9" y1="1763.1" x2="1211.2" y2="1761.1" stroke="#0a4a4c" stroke-width="11.3"/>
<line x1="1219.9" y1="1763.1" x2="1219.0" y2="1760.6" stroke="#0a4a4c" stroke-width="11.3"/>
<line x1="1218.2" y1="1758.2" x2="1219.0" y2="1760.6" stroke="#5e5e5e" stroke-width="11.3"/>
<line x1="1219.9" y1="1763.1" x2="1231.3" y2="1765.0" stroke="#0a4a4c" stroke-width="11.3"/>
<line x1="1242.8" y1="1766.9" x2="1231.3" y2="1765.0" stroke="#6e0c14" stroke-width="11.3"/>
<line x1="1242.8" y1="1766.9" x2="1253.3" y2="1771.7" stroke="#6e0c14" stroke-width="11.3"/>
<line x1="1263.9" y1="1776.5" x2="1253.3" y2="1771.7" stroke="#0a4a4c" stroke-width="11.3"/>
<line x1="1263.9" y1="1776.5" x2="1265.5" y2="1774.8" stroke="#0a4a4c" stroke-width="11.3"/>
<line x1="1267.1" y1="1773.2" x2="1265.5" y2="1774.8" stroke="#5e5e5e" stroke-width="11.3"/>
<line x1="1219.9" y1="1763.1" x2="1218.9" y2="1781.2" stroke="#0a4a4c" stroke-width="11.3"/>
<line x1="1217.9" y1="1799.4" x2="1218.9" y2="1781.2" stroke="#0a4a4c" stroke-width="11.3"/>
<line x1="1217.9" y1="1799.4" x2="1208.4" y2="1800.4" stroke="#0a4a4c" stroke-width="11.3"/>
<line x1="1198.8" y1="1801.3" x2="1208.4" y2="1800.4" stroke="#6e0c14" stroke-width="11.3"/>
<line x1="1217.9" y1="1799.4" x2="1231.3" y2="1800.4" stroke="#0a4a4c" stroke-width="11.3"/>
<line x1="1244.7" y1="1801.3" x2="1231.3" y2="1800.4" stroke="#0a4a4c" stroke-width="11.3"/>
<line x1="1244.7" y1="1801.3" x2="1242.8" y2="1798.5" stroke="#0a4a4c" stroke-width="11.3"/>
<line x1="1240.9" y1="1795.6" x2="1242.8" y2="1798.5" stroke="#6e0c14" stroke-width="11.3"/>
<line x1="1244.7" y1="1801.3" x2="1254.3" y2="1788.9" stroke="#0a4a4c" stroke-width="11.3"/>
<line x1="1263.9" y1="1776.5" x2="1254.3" y2="1788.9" stroke="#0a4a4c" stroke-width="11.3"/>
<line x1="1263.9" y1="1776.5" x2="1269.6" y2="1787.9" stroke="#0a4a4c" stroke-width="11.3"/>
<line x1="1275.4" y1="1799.4" x2="1269.6" y2="1787.9" stroke="#0a4a4c" stroke-width="11.3"/>
<line x1="1275.4" y1="1799.4" x2="1281.9" y2="1800.2" stroke="#0a4a4c" stroke-width="11.3"/>
<line x1="1288.4" y1="1801.1" x2="1281.9" y2="1800.2" stroke="#5e5e5e" stroke-width="11.3"/>
<line x1="1275.4" y1="1799.4" x2="1269.6" y2="1809.0" stroke="#0a4a4c" stroke-width="11.3"/>
<line x1="1263.9" y1="1818.6" x2="1269.6" y2="1809.0" stroke="#6e0c14" stroke-width="11.3"/>
<line x1="1263.9" y1="1818.6" x2="1265.8" y2="1826.2" stroke="#6e0c14" stroke-width="11.3"/>
<line x1="1267.7" y1="1833.9" x2="1265.8" y2="1826.2" stroke="#584826" stroke-width="11.3"/>
<line x1="1267.7" y1="1833.9" x2="1280.1" y2="1833.9" stroke="#584826" stroke-width="11.3"/>
<line x1="1292.6" y1="1833.9" x2="1280.1" y2="1833.9" stroke="#6e0c14" stroke-width="11.3"/>
<line x1="1267.7" y1="1833.9" x2="1260.0" y2="1841.5" stroke="#584826" stroke-width="11.3"/>
<line x1="1252.4" y1="1849.2" x2="1260.0" y2="1841.5" stroke="#6e0c14" stroke-width="11.3"/>
<line x1="994.0" y1="1585.1" x2="987.3" y2="1576.5" stroke="#9a844c" stroke-width="7.5"/>
<line x1="980.6" y1="1567.8" x2="987.3" y2="1576.5" stroke="#d8202e" stroke-width="7.5"/>
<line x1="994.0" y1="1585.1" x2="990.2" y2="1597.5" stroke="#9a844c" stroke-width="7.5"/>
<line x1="986.4" y1="1610.0" x2="990.2" y2="1597.5" stroke="#d8202e" stroke-width="7.5"/>
<line x1="994.0" y1="1585.1" x2="1004.5" y2="1583.2" stroke="#9a844c" stroke-width="7.5"/>
<line x1="1015.1" y1="1581.2" x2="1004.5" y2="1583.2" stroke="#d8202e" stroke-width="7.5"/>
<line x1="1015.1" y1="1581.2" x2="1023.7" y2="1590.8" stroke="#d8202e" stroke-width="7.5"/>
<line x1="1032.3" y1="1600.4" x2="1023.7" y2="1590.8" stroke="#188f8f" stroke-width="7.5"/>
<line x1="1032.3" y1="1600.4" x2="1029.0" y2="1607.7" stroke="#188f8f" stroke-width="7.5"/>
<line x1="1025.8" y1="1615.0" x2="1029.0" y2="1607.7" stroke="#bcbcbc" stroke-width="7.5"/>
<line x1="1032.3" y1="1600.4" x2="1044.7" y2="1599.4" stroke="#188f8f" stroke-width="7.5"/>
<line x1="1057.2" y1="1598.5" x2="1044.7" y2="1599.4" stroke="#188f8f" stroke-width="7.5"/>
<line x1="1057.2" y1="1598.5" x2="1064.8" y2="1587.9" stroke="#188f8f" stroke-width="7.5"/>
<line x1="1072.5" y1="1577.4" x2="1064.8" y2="1587.9" stroke="#188f8f" stroke-width="7.5"/>
<line x1="1072.5" y1="1577.4" x2="1069.6" y2="1568.8" stroke="#188f8f" stroke-width="7.5"/>
<line x1="1066.7" y1="1560.2" x2="1069.6" y2="1568.8" stroke="#d8202e" stroke-width="7.5"/>
<line x1="1057.2" y1="1598.5" x2="1064.8" y2="1610.0" stroke="#188f8f" stroke-width="7.5"/>
<line x1="1072.5" y1="1621.4" x2="1064.8" y2="1610.0" stroke="#d8202e" stroke-width="7.5"/>
<line x1="1072.5" y1="1577.4" x2="1086.8" y2="1583.2" stroke="#188f8f" stroke-width="7.5"/>
<line x1="1101.2" y1="1588.9" x2="1086.8" y2="1583.2" stroke="#188f8f" stroke-width="7.5"/>
<line x1="1101.2" y1="1588.9" x2="1101.2" y2="1580.3" stroke="#188f8f" stroke-width="7.5"/>
<line x1="1101.2" y1="1571.7" x2="1101.2" y2="1580.3" stroke="#d8202e" stroke-width="7.5"/>
<line x1="1101.2" y1="1588.9" x2="1107.7" y2="1589.7" stroke="#188f8f" stroke-width="7.5"/>
<line x1="1114.2" y1="1590.5" x2="1107.7" y2="1589.7" stroke="#bcbcbc" stroke-width="7.5"/>
<line x1="1101.2" y1="1588.9" x2="1098.3" y2="1602.3" stroke="#188f8f" stroke-width="7.5"/>
<line x1="1095.5" y1="1615.7" x2="1098.3" y2="1602.3" stroke="#188f8f" stroke-width="7.5"/>
<line x1="1095.5" y1="1615.7" x2="1084.0" y2="1618.6" stroke="#188f8f" stroke-width="7.5"/>
<line x1="1072.5" y1="1621.4" x2="1084.0" y2="1618.6" stroke="#d8202e" stroke-width="7.5"/>
<line x1="1095.5" y1="1615.7" x2="1105.0" y2="1625.3" stroke="#188f8f" stroke-width="7.5"/>
<line x1="1114.6" y1="1634.8" x2="1105.0" y2="1625.3" stroke="#2e32a2" stroke-width="7.5"/>
<line x1="1114.6" y1="1634.8" x2="1113.6" y2="1647.3" stroke="#2e32a2" stroke-width="7.5"/>
<line x1="1112.7" y1="1659.7" x2="1113.6" y2="1647.3" stroke="#188f8f" stroke-width="7.5"/>
<line x1="1112.7" y1="1659.7" x2="1105.4" y2="1663.0" stroke="#188f8f" stroke-width="7.5"/>
<line x1="1098.0" y1="1666.2" x2="1105.4" y2="1663.0" stroke="#bcbcbc" stroke-width="7.5"/>
<line x1="1112.7" y1="1659.7" x2="1124.2" y2="1666.4" stroke="#188f8f" stroke-width="7.5"/>
<line x1="1135.6" y1="1673.1" x2="1124.2" y2="1666.4" stroke="#2e32a2" stroke-width="7.5"/>
<line x1="1135.6" y1="1673.1" x2="1144.3" y2="1662.6" stroke="#2e32a2" stroke-width="7.5"/>
<line x1="1152.9" y1="1652.1" x2="1144.3" y2="1662.6" stroke="#188f8f" stroke-width="7.5"/>
<line x1="1152.9" y1="1652.1" x2="1148.1" y2="1641.5" stroke="#188f8f" stroke-width="7.5"/>
<line x1="1143.3" y1="1631.0" x2="1148.1" y2="1641.5" stroke="#188f8f" stroke-width="7.5"/>
<line x1="1143.3" y1="1631.0" x2="1128.9" y2="1632.9" stroke="#188f8f" stroke-width="7.5"/>
<line x1="1114.6" y1="1634.8" x2="1128.9" y2="1632.9" stroke="#2e32a2" stroke-width="7.5"/>
<line x1="1143.3" y1="1631.0" x2="1148.1" y2="1620.5" stroke="#188f8f" stroke-width="7.5"/>
<line x1="1152.9" y1="1610.0" x2="1148.1" y2="1620.5" stroke="#2e32a2" stroke-width="7.5"/>
<line x1="1152.9" y1="1610.0" x2="1166.3" y2="1609.0" stroke="#2e32a2" stroke-width="7.5"/>
<line x1="1179.7" y1="1608.0" x2="1166.3" y2="1609.0" stroke="#188f8f" stroke-width="7.5"/>
<line x1="1179.7" y1="1608.0" x2="1182.1" y2="1605.6" stroke="#188f8f" stroke-width="7.5"/>
<line x1="1184.5" y1="1603.2" x2="1182.1" y2="1605.6" stroke="#bcbcbc" stroke-width="7.5"/>
<line x1="1179.7" y1="1608.0" x2="1187.3" y2="1620.5" stroke="#188f8f" stroke-width="7.5"/>
<line x1="1195.0" y1="1632.9" x2="1187.3" y2="1620.5" stroke="#2e32a2" stroke-width="7.5"/>
<line x1="1195.0" y1="1632.9" x2="1187.3" y2="1642.5" stroke="#2e32a2" stroke-width="7.5"/>
<line x1="1179.7" y1="1652.1" x2="1187.3" y2="1642.5" stroke="#188f8f" stroke-width="7.5"/>
<line x1="1179.7" y1="1652.1" x2="1166.3" y2="1652.1" stroke="#188f8f" stroke-width="7.5"/>
<line x1="1152.9" y1="1652.1" x2="1166.3" y2="1652.1" stroke="#188f8f" stroke-width="7.5"/>
<line x1="1179.7" y1="1652.1" x2="1189.2" y2="1661.6" stroke="#188f8f" stroke-width="7.5"/>
<line x1="1198.8" y1="1671.2" x2="1189.2" y2="1661.6" stroke="#2e32a2" stroke-width="7.5"/>
<line x1="1198.8" y1="1671.2" x2="1202.9" y2="1673.6" stroke="#2e32a2" stroke-width="7.5"/>
<line x1="1206.9" y1="1676.1" x2="1202.9" y2="1673.6" stroke="#bcbcbc" stroke-width="7.5"/>
<line x1="1198.8" y1="1671.2" x2="1193.9" y2="1676.9" stroke="#2e32a2" stroke-width="7.5"/>
<line x1="1189.0" y1="1682.6" x2="1193.9" y2="1676.9" stroke="#bcbcbc" stroke-width="7.5"/>
<line x1="1131.8" y1="1726.7" x2="1134.3" y2="1719.4" stroke="#2e32a2" stroke-width="7.5"/>
<line x1="1136.7" y1="1712.1" x2="1134.3" y2="1719.4" stroke="#bcbcbc" stroke-width="7.5"/>
<line x1="1131.8" y1="1726.7" x2="1128.6" y2="1728.3" stroke="#2e32a2" stroke-width="7.5"/>
<line x1="1125.3" y1="1730.0" x2="1128.6" y2="1728.3" stroke="#bcbcbc" stroke-width="7.5"/>
<line x1="1131.8" y1="1726.7" x2="1142.3" y2="1729.6" stroke="#2e32a2" stroke-width="7.5"/>
<line x1="1152.9" y1="1732.4" x2="1142.3" y2="1729.6" stroke="#188f8f" stroke-width="7.5"/>
<line x1="1152.9" y1="1732.4" x2="1163.4" y2="1726.7" stroke="#188f8f" stroke-width="7.5"/>
<line x1="1173.9" y1="1721.0" x2="1163.4" y2="1726.7" stroke="#2e32a2" stroke-width="7.5"/>
<line x1="1173.9" y1="1721.0" x2="1186.4" y2="1725.7" stroke="#2e32a2" stroke-width="7.5"/>
<line x1="1198.8" y1="1730.5" x2="1186.4" y2="1725.7" stroke="#188f8f" stroke-width="7.5"/>
<line x1="1198.8" y1="1730.5" x2="1203.6" y2="1726.7" stroke="#188f8f" stroke-width="7.5"/>
<line x1="1208.4" y1="1722.9" x2="1203.6" y2="1726.7" stroke="#d8202e" stroke-width="7.5"/>
<line x1="1198.8" y1="1730.5" x2="1200.7" y2="1744.9" stroke="#188f8f" stroke-width="7.5"/>
<line x1="1202.6" y1="1759.2" x2="1200.7" y2="1744.9" stroke="#2e32a2" stroke-width="7.5"/>
<line x1="1202.6" y1="1759.2" x2="1193.1" y2="1766.9" stroke="#2e32a2" stroke-width="7.5"/>
<line x1="1183.5" y1="1774.5" x2="1193.1" y2="1766.9" stroke="#188f8f" stroke-width="7.5"/>
<line x1="1183.5" y1="1774.5" x2="1183.5" y2="1780.2" stroke="#188f8f" stroke-width="7.5"/>
<line x1="1183.5" y1="1785.9" x2="1183.5" y2="1780.2" stroke="#bcbcbc" stroke-width="7.5"/>
<line x1="1183.5" y1="1774.5" x2="1170.1" y2="1768.8" stroke="#188f8f" stroke-width="7.5"/>
<line x1="1156.7" y1="1763.1" x2="1170.1" y2="1768.8" stroke="#188f8f" stroke-width="7.5"/>
<line x1="1156.7" y1="1763.1" x2="1152.6" y2="1767.1" stroke="#188f8f" stroke-width="7.5"/>
<line x1="1148.6" y1="1771.2" x2="1152.6" y2="1767.1" stroke="#bcbcbc" stroke-width="7.5"/>
<line x1="1156.7" y1="1763.1" x2="1154.8" y2="1747.8" stroke="#188f8f" stroke-width="7.5"/>
<line x1="1152.9" y1="1732.4" x2="1154.8" y2="1747.8" stroke="#188f8f" stroke-width="7.5"/>
<line x1="1202.6" y1="1759.2" x2="1211.2" y2="1761.1" stroke="#2e32a2" stroke-width="7.5"/>
<line x1="1219.9" y1="1763.1" x2="1211.2" y2="1761.1" stroke="#188f8f" stroke-width="7.5"/>
<line x1="1219.9" y1="1763.1" x2="1219.0" y2="1760.6" stroke="#188f8f" stroke-width="7.5"/>
<line x1="1218.2" y1="1758.2" x2="1219.0" y2="1760.6" stroke="#bcbcbc" stroke-width="7.5"/>
<line x1="1219.9" y1="1763.1" x2="1231.3" y2="1765.0" stroke="#188f8f" stroke-width="7.5"/>
<line x1="1242.8" y1="1766.9" x2="1231.3" y2="1765.0" stroke="#d8202e" stroke-width="7.5"/>
<line x1="1242.8" y1="1766.9" x2="1253.3" y2="1771.7" stroke="#d8202e" stroke-width="7.5"/>
<line x1="1263.9" y1="1776.5" x2="1253.3" y2="1771.7" stroke="#188f8f" stroke-width="7.5"/>
<line x1="1263.9" y1="1776.5" x2="1265.5" y2="1774.8" stroke="#188f8f" stroke-width="7.5"/>
<line x1="1267.1" y1="1773.2" x2="1265.5" y2="1774.8" stroke="#bcbcbc" stroke-width="7.5"/>
<line x1="1219.9" y1="1763.1" x2="1218.9" y2="1781.2" stroke="#188f8f" stroke-width="7.5"/>
<line x1="1217.9" y1="1799.4" x2="1218.9" y2="1781.2" stroke="#188f8f" stroke-width="7.5"/>
<line x1="1217.9" y1="1799.4" x2="1208.4" y2="1800.4" stroke="#188f8f" stroke-width="7.5"/>
<line x1="1198.8" y1="1801.3" x2="1208.4" y2="1800.4" stroke="#d8202e" stroke-width="7.5"/>
<line x1="1217.9" y1="1799.4" x2="1231.3" y2="1800.4" stroke="#188f8f" stroke-width="7.5"/>
<line x1="1244.7" y1="1801.3" x2="1231.3" y2="1800.4" stroke="#188f8f" stroke-width="7.5"/>
<line x1="1244.7" y1="1801.3" x2="1242.8" y2="1798.5" stroke="#188f8f" stroke-width="7.5"/>
<line x1="1240.9" y1="1795.6" x2="1242.8" y2="1798.5" stroke="#d8202e" stroke-width="7.5"/>
<line x1="1244.7" y1="1801.3" x2="1254.3" y2="1788.9" stroke="#188f8f" stroke-width="7.5"/>
<line x1="1263.9" y1="1776.5" x2="1254.3" y2="1788.9" stroke="#188f8f" stroke-width="7.5"/>
<line x1="1263.9" y1="1776.5" x2="1269.6" y2="1787.9" stroke="#188f8f" stroke-width="7.5"/>
<line x1="1275.4" y1="1799.4" x2="1269.6" y2="1787.9" stroke="#188f8f" stroke-width="7.5"/>
<line x1="1275.4" y1="1799.4" x2="1281.9" y2="1800.2" stroke="#188f8f" stroke-width="7.5"/>
<line x1="1288.4" y1="1801.1" x2="1281.9" y2="1800.2" stroke="#bcbcbc" stroke-width="7.5"/>
<line x1="1275.4" y1="1799.4" x2="1269.6" y2="1809.0" stroke="#188f8f" stroke-width="7.5"/>
<line x1="1263.9" y1="1818.6" x2="1269.6" y2="1809.0" stroke="#d8202e" stroke-width="7.5"/>
<line x1="1263.9" y1="1818.6" x2="1265.8" y2="1826.2" stroke="#d8202e" stroke-width="7.5"/>
<line x1="1267.7" y1="1833.9" x2="1265.8" y2="1826.2" stroke="#9a844c" stroke-width="7.5"/>
<line x1="1267.7" y1="1833.9" x2="1280.1" y2="1833.9" stroke="#9a844c" stroke-width="7.5"/>
<line x1="1292.6" y1="1833.9" x2="1280.1" y2="1833.9" stroke="#d8202e" stroke-width="7.5"/>
<line x1="1267.7" y1="1833.9" x2="1260.0" y2="1841.5" stroke="#9a844c" stroke-width="7.5"/>
<line x1="1252.4" y1="1849.2" x2="1260.0" y2="1841.5" stroke="#d8202e" stroke-width="7.5"/>
</g>
<g stroke-linecap="round">
<line x1="1089.1" y1="2110.6" x2="1119.7" y2="2132.7" stroke="#e88080" stroke-width="1.6"/>
<line x1="1070.4" y1="2153.1" x2="1095.9" y2="2168.4" stroke="#e88080" stroke-width="1.6"/>
<line x1="1133.3" y1="2020.4" x2="1135.0" y2="2027.2" stroke="#151515" stroke-width="11.3"/>
<line x1="1136.7" y1="2034.0" x2="1135.0" y2="2027.2" stroke="#0a4a4c" stroke-width="11.3"/>
<line x1="1136.7" y1="2034.0" x2="1137.6" y2="2042.5" stroke="#0a4a4c" stroke-width="11.3"/>
<line x1="1138.4" y1="2051.0" x2="1137.6" y2="2042.5" stroke="#0a4a4c" stroke-width="11.3"/>
<line x1="1138.4" y1="2051.0" x2="1149.5" y2="2051.0" stroke="#0a4a4c" stroke-width="11.3"/>
<line x1="1160.5" y1="2051.0" x2="1149.5" y2="2051.0" stroke="#181a5c" stroke-width="11.3"/>
<line x1="1160.5" y1="2051.0" x2="1166.3" y2="2053.2" stroke="#181a5c" stroke-width="11.3"/>
<line x1="1172.1" y1="2055.4" x2="1166.3" y2="2053.2" stroke="#5e5e5e" stroke-width="11.3"/>
<line x1="1138.4" y1="2051.0" x2="1137.6" y2="2059.5" stroke="#0a4a4c" stroke-width="11.3"/>
<line x1="1136.7" y1="2068.1" x2="1137.6" y2="2059.5" stroke="#0a4a4c" stroke-width="11.3"/>
<line x1="1136.7" y1="2068.1" x2="1132.5" y2="2062.1" stroke="#0a4a4c" stroke-width="11.3"/>
<line x1="1128.2" y1="2056.1" x2="1132.5" y2="2062.1" stroke="#151515" stroke-width="11.3"/>
<line x1="1136.7" y1="2068.1" x2="1141.8" y2="2068.1" stroke="#0a4a4c" stroke-width="11.3"/>
<line x1="1146.9" y1="2068.1" x2="1141.8" y2="2068.1" stroke="#151515" stroke-width="11.3"/>
<line x1="1136.7" y1="2068.1" x2="1137.4" y2="2076.7" stroke="#0a4a4c" stroke-width="11.3"/>
<line x1="1138.2" y1="2085.4" x2="1137.4" y2="2076.7" stroke="#5e5e5e" stroke-width="11.3"/>
<line x1="1136.7" y1="2068.1" x2="1124.0" y2="2069.8" stroke="#0a4a4c" stroke-width="11.3"/>
<line x1="1111.2" y1="2071.5" x2="1124.0" y2="2069.8" stroke="#0a4a4c" stroke-width="11.3"/>
<line x1="1111.2" y1="2071.5" x2="1109.8" y2="2064.9" stroke="#0a4a4c" stroke-width="11.3"/>
<line x1="1108.3" y1="2058.4" x2="1109.8" y2="2064.9" stroke="#5e5e5e" stroke-width="11.3"/>
<line x1="1111.2" y1="2071.5" x2="1109.8" y2="2075.8" stroke="#0a4a4c" stroke-width="11.3"/>
<line x1="1108.3" y1="2080.1" x2="1109.8" y2="2075.8" stroke="#5e5e5e" stroke-width="11.3"/>
<line x1="1111.2" y1="2071.5" x2="1096.7" y2="2071.5" stroke="#0a4a4c" stroke-width="11.3"/>
<line x1="1082.3" y1="2071.5" x2="1096.7" y2="2071.5" stroke="#0a4a4c" stroke-width="11.3"/>
<line x1="1082.3" y1="2071.5" x2="1077.9" y2="2068.6" stroke="#0a4a4c" stroke-width="11.3"/>
<line x1="1073.6" y1="2065.7" x2="1077.9" y2="2068.6" stroke="#5e5e5e" stroke-width="11.3"/>
<line x1="1082.3" y1="2071.5" x2="1082.3" y2="2078.3" stroke="#0a4a4c" stroke-width="11.3"/>
<line x1="1082.3" y1="2085.1" x2="1082.3" y2="2078.3" stroke="#0a4a4c" stroke-width="11.3"/>
<line x1="1082.3" y1="2085.1" x2="1082.3" y2="2092.7" stroke="#0a4a4c" stroke-width="11.3"/>
<line x1="1082.3" y1="2100.4" x2="1082.3" y2="2092.7" stroke="#181a5c" stroke-width="11.3"/>
<line x1="1082.3" y1="2100.4" x2="1085.9" y2="2104.7" stroke="#181a5c" stroke-width="11.3"/>
<line x1="1089.5" y1="2109.1" x2="1085.9" y2="2104.7" stroke="#5e5e5e" stroke-width="11.3"/>
<line x1="1082.3" y1="2100.4" x2="1070.4" y2="2106.3" stroke="#181a5c" stroke-width="11.3"/>
<line x1="1058.5" y1="2112.3" x2="1070.4" y2="2106.3" stroke="#0a4a4c" stroke-width="11.3"/>
<line x1="1058.5" y1="2112.3" x2="1049.1" y2="2107.2" stroke="#0a4a4c" stroke-width="11.3"/>
<line x1="1039.8" y1="2102.1" x2="1049.1" y2="2107.2" stroke="#181a5c" stroke-width="11.3"/>
<line x1="1039.8" y1="2102.1" x2="1039.0" y2="2095.6" stroke="#181a5c" stroke-width="11.3"/>
<line x1="1038.3" y1="2089.1" x2="1039.0" y2="2095.6" stroke="#5e5e5e" stroke-width="11.3"/>
<line x1="1039.8" y1="2102.1" x2="1033.2" y2="2105.0" stroke="#181a5c" stroke-width="11.3"/>
<line x1="1026.7" y1="2107.9" x2="1033.2" y2="2105.0" stroke="#5e5e5e" stroke-width="11.3"/>
<line x1="1058.5" y1="2112.3" x2="1057.6" y2="2128.4" stroke="#0a4a4c" stroke-width="11.3"/>
<line x1="1056.8" y1="2144.6" x2="1057.6" y2="2128.4" stroke="#181a5c" stroke-width="11.3"/>
<line x1="1056.8" y1="2144.6" x2="1051.7" y2="2146.1" stroke="#181a5c" stroke-width="11.3"/>
<line x1="1046.6" y1="2147.5" x2="1051.7" y2="2146.1" stroke="#5e5e5e" stroke-width="11.3"/>
<line x1="1056.8" y1="2144.6" x2="1061.8" y2="2148.2" stroke="#181a5c" stroke-width="11.3"/>
<line x1="1066.9" y1="2151.8" x2="1061.8" y2="2148.2" stroke="#5e5e5e" stroke-width="11.3"/>
<line x1="1121.4" y1="2136.1" x2="1121.4" y2="2145.5" stroke="#6e0c14" stroke-width="11.3"/>
<line x1="1121.4" y1="2154.8" x2="1121.4" y2="2145.5" stroke="#0a4a4c" stroke-width="11.3"/>
<line x1="1121.4" y1="2154.8" x2="1129.1" y2="2160.8" stroke="#0a4a4c" stroke-width="11.3"/>
<line x1="1136.7" y1="2166.7" x2="1129.1" y2="2160.8" stroke="#181a5c" stroke-width="11.3"/>
<line x1="1136.7" y1="2166.7" x2="1136.7" y2="2179.5" stroke="#181a5c" stroke-width="11.3"/>
<line x1="1136.7" y1="2192.2" x2="1136.7" y2="2179.5" stroke="#0a4a4c" stroke-width="11.3"/>
<line x1="1136.7" y1="2192.2" x2="1140.3" y2="2195.9" stroke="#0a4a4c" stroke-width="11.3"/>
<line x1="1144.0" y1="2199.5" x2="1140.3" y2="2195.9" stroke="#5e5e5e" stroke-width="11.3"/>
<line x1="1136.7" y1="2192.2" x2="1125.7" y2="2199.9" stroke="#0a4a4c" stroke-width="11.3"/>
<line x1="1114.6" y1="2207.6" x2="1125.7" y2="2199.9" stroke="#0a4a4c" stroke-width="11.3"/>
<line x1="1114.6" y1="2207.6" x2="1113.2" y2="2214.1" stroke="#0a4a4c" stroke-width="11.3"/>
<line x1="1111.7" y1="2220.6" x2="1113.2" y2="2214.1" stroke="#5e5e5e" stroke-width="11.3"/>
<line x1="1114.6" y1="2207.6" x2="1106.1" y2="2202.4" stroke="#0a4a4c" stroke-width="11.3"/>
<line x1="1097.6" y1="2197.3" x2="1106.1" y2="2202.4" stroke="#0a4a4c" stroke-width="11.3"/>
<line x1="1097.6" y1="2197.3" x2="1086.5" y2="2201.6" stroke="#0a4a4c" stroke-width="11.3"/>
<line x1="1075.5" y1="2205.9" x2="1086.5" y2="2201.6" stroke="#181a5c" stroke-width="11.3"/>
<line x1="1075.5" y1="2205.9" x2="1076.2" y2="2213.1" stroke="#181a5c" stroke-width="11.3"/>
<line x1="1076.9" y1="2220.3" x2="1076.2" y2="2213.1" stroke="#5e5e5e" stroke-width="11.3"/>
<line x1="1075.5" y1="2205.9" x2="1072.6" y2="2202.2" stroke="#181a5c" stroke-width="11.3"/>
<line x1="1069.7" y1="2198.6" x2="1072.6" y2="2202.2" stroke="#5e5e5e" stroke-width="11.3"/>
<line x1="1097.6" y1="2197.3" x2="1098.4" y2="2183.7" stroke="#0a4a4c" stroke-width="11.3"/>
<line x1="1099.3" y1="2170.1" x2="1098.4" y2="2183.7" stroke="#181a5c" stroke-width="11.3"/>
<line x1="1099.3" y1="2170.1" x2="1110.4" y2="2162.5" stroke="#181a5c" stroke-width="11.3"/>
<line x1="1121.4" y1="2154.8" x2="1110.4" y2="2162.5" stroke="#0a4a4c" stroke-width="11.3"/>
<line x1="1136.7" y1="2166.7" x2="1146.9" y2="2161.6" stroke="#181a5c" stroke-width="11.3"/>
<line x1="1157.1" y1="2156.5" x2="1146.9" y2="2161.6" stroke="#0a4a4c" stroke-width="11.3"/>
<line x1="1157.1" y1="2156.5" x2="1160.0" y2="2163.0" stroke="#0a4a4c" stroke-width="11.3"/>
<line x1="1162.9" y1="2169.5" x2="1160.0" y2="2163.0" stroke="#5e5e5e" stroke-width="11.3"/>
<line x1="1157.1" y1="2156.5" x2="1155.4" y2="2149.7" stroke="#0a4a4c" stroke-width="11.3"/>
<line x1="1153.7" y1="2142.9" x2="1155.4" y2="2149.7" stroke="#0a4a4c" stroke-width="11.3"/>
<line x1="1153.7" y1="2142.9" x2="1152.0" y2="2141.2" stroke="#0a4a4c" stroke-width="11.3"/>
<line x1="1150.3" y1="2139.5" x2="1152.0" y2="2141.2" stroke="#6e0c14" stroke-width="11.3"/>
<line x1="1150.3" y1="2139.5" x2="1152.5" y2="2135.2" stroke="#6e0c14" stroke-width="11.3"/>
<line x1="1154.7" y1="2130.8" x2="1152.5" y2="2135.2" stroke="#5e5e5e" stroke-width="11.3"/>
<line x1="1157.1" y1="2156.5" x2="1170.7" y2="2159.1" stroke="#0a4a4c" stroke-width="11.3"/>
<line x1="1184.4" y1="2161.6" x2="1170.7" y2="2159.1" stroke="#6e0c14" stroke-width="11.3"/>
<line x1="1184.4" y1="2161.6" x2="1188.6" y2="2154.8" stroke="#6e0c14" stroke-width="11.3"/>
<line x1="1192.9" y1="2148.0" x2="1188.6" y2="2154.8" stroke="#0a4a4c" stroke-width="11.3"/>
<line x1="1192.9" y1="2148.0" x2="1192.9" y2="2137.0" stroke="#0a4a4c" stroke-width="11.3"/>
<line x1="1192.9" y1="2125.9" x2="1192.9" y2="2137.0" stroke="#6e0c14" stroke-width="11.3"/>
<line x1="1192.9" y1="2148.0" x2="1200.5" y2="2148.9" stroke="#0a4a4c" stroke-width="11.3"/>
<line x1="1208.2" y1="2149.7" x2="1200.5" y2="2148.9" stroke="#0a4a4c" stroke-width="11.3"/>
<line x1="1208.2" y1="2149.7" x2="1208.9" y2="2146.1" stroke="#0a4a4c" stroke-width="11.3"/>
<line x1="1209.6" y1="2142.5" x2="1208.9" y2="2146.1" stroke="#5e5e5e" stroke-width="11.3"/>
<line x1="1208.2" y1="2149.7" x2="1216.7" y2="2159.9" stroke="#0a4a4c" stroke-width="11.3"/>
<line x1="1225.2" y1="2170.1" x2="1216.7" y2="2159.9" stroke="#0a4a4c" stroke-width="11.3"/>
<line x1="1225.2" y1="2170.1" x2="1231.0" y2="2167.2" stroke="#0a4a4c" stroke-width="11.3"/>
<line x1="1236.8" y1="2164.3" x2="1231.0" y2="2167.2" stroke="#5e5e5e" stroke-width="11.3"/>
<line x1="1225.2" y1="2170.1" x2="1222.6" y2="2180.3" stroke="#0a4a4c" stroke-width="11.3"/>
<line x1="1220.1" y1="2190.5" x2="1222.6" y2="2180.3" stroke="#6e0c14" stroke-width="11.3"/>
<line x1="1220.1" y1="2190.5" x2="1229.4" y2="2203.3" stroke="#6e0c14" stroke-width="11.3"/>
<line x1="1238.8" y1="2216.1" x2="1229.4" y2="2203.3" stroke="#584826" stroke-width="11.3"/>
<line x1="1238.8" y1="2216.1" x2="1249.0" y2="2214.4" stroke="#584826" stroke-width="11.3"/>
<line x1="1259.2" y1="2212.7" x2="1249.0" y2="2214.4" stroke="#6e0c14" stroke-width="11.3"/>
<line x1="1238.8" y1="2216.1" x2="1233.7" y2="2226.3" stroke="#584826" stroke-width="11.3"/>
<line x1="1228.6" y1="2236.5" x2="1233.7" y2="2226.3" stroke="#6e0c14" stroke-width="11.3"/>
<line x1="1133.3" y1="2020.4" x2="1135.0" y2="2027.2" stroke="#333333" stroke-width="7.5"/>
<line x1="1136.7" y1="2034.0" x2="1135.0" y2="2027.2" stroke="#188f8f" stroke-width="7.5"/>
<line x1="1136.7" y1="2034.0" x2="1137.6" y2="2042.5" stroke="#188f8f" stroke-width="7.5"/>
<line x1="1138.4" y1="2051.0" x2="1137.6" y2="2042.5" stroke="#188f8f" stroke-width="7.5"/>
<line x1="1138.4" y1="2051.0" x2="1149.5" y2="2051.0" stroke="#188f8f" stroke-width="7.5"/>
<line x1="1160.5" y1="2051.0" x2="1149.5" y2="2051.0" stroke="#2e32a2" stroke-width="7.5"/>
<line x1="1160.5" y1="2051.0" x2="1166.3" y2="2053.2" stroke="#2e32a2" stroke-width="7.5"/>
<line x1="1172.1" y1="2055.4" x2="1166.3" y2="2053.2" stroke="#bcbcbc" stroke-width="7.5"/>
<line x1="1138.4" y1="2051.0" x2="1137.6" y2="2059.5" stroke="#188f8f" stroke-width="7.5"/>
<line x1="1136.7" y1="2068.1" x2="1137.6" y2="2059.5" stroke="#188f8f" stroke-width="7.5"/>
<line x1="1136.7" y1="2068.1" x2="1132.5" y2="2062.1" stroke="#188f8f" stroke-width="7.5"/>
<line x1="1128.2" y1="2056.1" x2="1132.5" y2="2062.1" stroke="#333333" stroke-width="7.5"/>
<line x1="1136.7" y1="2068.1" x2="1141.8" y2="2068.1" stroke="#188f8f" stroke-width="7.5"/>
<line x1="1146.9" y1="2068.1" x2="1141.8" y2="2068.1" stroke="#333333" stroke-width="7.5"/>
<line x1="1136.7" y1="2068.1" x2="1137.4" y2="2076.7" stroke="#188f8f" stroke-width="7.5"/>
<line x1="1138.2" y1="2085.4" x2="1137.4" y2="2076.7" stroke="#bcbcbc" stroke-width="7.5"/>
<line x1="1136.7" y1="2068.1" x2="1124.0" y2="2069.8" stroke="#188f8f" stroke-width="7.5"/>
<line x1="1111.2" y1="2071.5" x2="1124.0" y2="2069.8" stroke="#188f8f" stroke-width="7.5"/>
<line x1="1111.2" y1="2071.5" x2="1109.8" y2="2064.9" stroke="#188f8f" stroke-width="7.5"/>
<line x1="1108.3" y1="2058.4" x2="1109.8" y2="2064.9" stroke="#bcbcbc" stroke-width="7.5"/>
<line x1="1111.2" y1="2071.5" x2="1109.8" y2="2075.8" stroke="#188f8f" stroke-width="7.5"/>
<line x1="1108.3" y1="2080.1" x2="1109.8" y2="2075.8" stroke="#bcbcbc" stroke-width="7.5"/>
<line x1="1111.2" y1="2071.5" x2="1096.7" y2="2071.5" stroke="#188f8f" stroke-width="7.5"/>
<line x1="1082.3" y1="2071.5" x2="1096.7" y2="2071.5" stroke="#188f8f" stroke-width="7.5"/>
<line x1="1082.3" y1="2071.5" x2="1077.9" y2="2068.6" stroke="#188f8f" stroke-width="7.5"/>
<line x1="1073.6" y1="2065.7" x2="1077.9" y2="2068.6" stroke="#bcbcbc" stroke-width="7.5"/>
<line x1="1082.3" y1="2071.5" x2="1082.3" y2="2078.3" stroke="#188f8f" stroke-width="7.5"/>
<line x1="1082.3" y1="2085.1" x2="1082.3" y2="2078.3" stroke="#188f8f" stroke-width="7.5"/>
<line x1="1082.3" y1="2085.1" x2="1082.3" y2="2092.7" stroke="#188f8f" stroke-width="7.5"/>
<line x1="1082.3" y1="2100.4" x2="1082.3" y2="2092.7" stroke="#2e32a2" stroke-width="7.5"/>
<line x1="1082.3" y1="2100.4" x2="1085.9" y2="2104.7" stroke="#2e32a2" stroke-width="7.5"/>
<line x1="1089.5" y1="2109.1" x2="1085.9" y2="2104.7" stroke="#bcbcbc" stroke-width="7.5"/>
<line x1="1082.3" y1="2100.4" x2="1070.4" y2="2106.3" stroke="#2e32a2" stroke-width="7.5"/>
<line x1="1058.5" y1="2112.3" x2="1070.4" y2="2106.3" stroke="#188f8f" stroke-width="7.5"/>
<line x1="1058.5" y1="2112.3" x2="1049.1" y2="2107.2" stroke="#188f8f" stroke-width="7.5"/>
<line x1="1039.8" y1="2102.1" x2="1049.1" y2="2107.2" stroke="#2e32a2" stroke-width="7.5"/>
<line x1="1039.8" y1="2102.1" x2="1039.0" y2="2095.6" stroke="#2e32a2" stroke-width="7.5"/>
<line x1="1038.3" y1="2089.1" x2="1039.0" y2="2095.6" stroke="#bcbcbc" stroke-width="7.5"/>
<line x1="1039.8" y1="2102.1" x2="1033.2" y2="2105.0" stroke="#2e32a2" stroke-width="7.5"/>
<line x1="1026.7" y1="2107.9" x2="1033.2" y2="2105.0" stroke="#bcbcbc" stroke-width="7.5"/>
<line x1="1058.5" y1="2112.3" x2="1057.6" y2="2128.4" stroke="#188f8f" stroke-width="7.5"/>
<line x1="1056.8" y1="2144.6" x2="1057.6" y2="2128.4" stroke="#2e32a2" stroke-width="7.5"/>
<line x1="1056.8" y1="2144.6" x2="1051.7" y2="2146.1" stroke="#2e32a2" stroke-width="7.5"/>
<line x1="1046.6" y1="2147.5" x2="1051.7" y2="2146.1" stroke="#bcbcbc" stroke-width="7.5"/>
<line x1="1056.8" y1="2144.6" x2="1061.8" y2="2148.2" stroke="#2e32a2" stroke-width="7.5"/>
<line x1="1066.9" y1="2151.8" x2="1061.8" y2="2148.2" stroke="#bcbcbc" stroke-width="7.5"/>
<line x1="1121.4" y1="2136.1" x2="1121.4" y2="2145.5" stroke="#d8202e" stroke-width="7.5"/>
<line x1="1121.4" y1="2154.8" x2="1121.4" y2="2145.5" stroke="#188f8f" stroke-width="7.5"/>
<line x1="1121.4" y1="2154.8" x2="1129.1" y2="2160.8" stroke="#188f8f" stroke-width="7.5"/>
<line x1="1136.7" y1="2166.7" x2="1129.1" y2="2160.8" stroke="#2e32a2" stroke-width="7.5"/>
<line x1="1136.7" y1="2166.7" x2="1136.7" y2="2179.5" stroke="#2e32a2" stroke-width="7.5"/>
<line x1="1136.7" y1="2192.2" x2="1136.7" y2="2179.5" stroke="#188f8f" stroke-width="7.5"/>
<line x1="1136.7" y1="2192.2" x2="1140.3" y2="2195.9" stroke="#188f8f" stroke-width="7.5"/>
<line x1="1144.0" y1="2199.5" x2="1140.3" y2="2195.9" stroke="#bcbcbc" stroke-width="7.5"/>
<line x1="1136.7" y1="2192.2" x2="1125.7" y2="2199.9" stroke="#188f8f" stroke-width="7.5"/>
<line x1="1114.6" y1="2207.6" x2="1125.7" y2="2199.9" stroke="#188f8f" stroke-width="7.5"/>
<line x1="1114.6" y1="2207.6" x2="1113.2" y2="2214.1" stroke="#188f8f" stroke-width="7.5"/>
<line x1="1111.7" y1="2220.6" x2="1113.2" y2="2214.1" stroke="#bcbcbc" stroke-width="7.5"/>
<line x1="1114.6" y1="2207.6" x2="1106.1" y2="2202.4" stroke="#188f8f" stroke-width="7.5"/>
<line x1="1097.6" y1="2197.3" x2="1106.1" y2="2202.4" stroke="#188f8f" stroke-width="7.5"/>
<line x1="1097.6" y1="2197.3" x2="1086.5" y2="2201.6" stroke="#188f8f" stroke-width="7.5"/>
<line x1="1075.5" y1="2205.9" x2="1086.5" y2="2201.6" stroke="#2e32a2" stroke-width="7.5"/>
<line x1="1075.5" y1="2205.9" x2="1076.2" y2="2213.1" stroke="#2e32a2" stroke-width="7.5"/>
<line x1="1076.9" y1="2220.3" x2="1076.2" y2="2213.1" stroke="#bcbcbc" stroke-width="7.5"/>
<line x1="1075.5" y1="2205.9" x2="1072.6" y2="2202.2" stroke="#2e32a2" stroke-width="7.5"/>
<line x1="1069.7" y1="2198.6" x2="1072.6" y2="2202.2" stroke="#bcbcbc" stroke-width="7.5"/>
<line x1="1097.6" y1="2197.3" x2="1098.4" y2="2183.7" stroke="#188f8f" stroke-width="7.5"/>
<line x1="1099.3" y1="2170.1" x2="1098.4" y2="2183.7" stroke="#2e32a2" stroke-width="7.5"/>
<line x1="1099.3" y1="2170.1" x2="1110.4" y2="2162.5" stroke="#2e32a2" stroke-width="7.5"/>
<line x1="1121.4" y1="2154.8" x2="1110.4" y2="2162.5" stroke="#188f8f" stroke-width="7.5"/>
<line x1="1136.7" y1="2166.7" x2="1146.9" y2="2161.6" stroke="#2e32a2" stroke-width="7.5"/>
<line x1="1157.1" y1="2156.5" x2="1146.9" y2="2161.6" stroke="#188f8f" stroke-width="7.5"/>
<line x1="1157.1" y1="2156.5" x2="1160.0" y2="2163.0" stroke="#188f8f" stroke-width="7.5"/>
<line x1="1162.9" y1="2169.5" x2="1160.0" y2="2163.0" stroke="#bcbcbc" stroke-width="7.5"/>
<line x1="1157.1" y1="2156.5" x2="1155.4" y2="2149.7" stroke="#188f8f" stroke-width="7.5"/>
<line x1="1153.7" y1="2142.9" x2="1155.4" y2="2149.7" stroke="#188f8f" stroke-width="7.5"/>
<line x1="1153.7" y1="2142.9" x2="1152.0" y2="2141.2" stroke="#188f8f" stroke-width="7.5"/>
<line x1="1150.3" y1="2139.5" x2="1152.0" y2="2141.2" stroke="#d8202e" stroke-width="7.5"/>
<line x1="1150.3" y1="2139.5" x2="1152.5" y2="2135.2" stroke="#d8202e" stroke-width="7.5"/>
<line x1="1154.7" y1="2130.8" x2="1152.5" y2="2135.2" stroke="#bcbcbc" stroke-width="7.5"/>
<line x1="1157.1" y1="2156.5" x2="1170.7" y2="2159.1" stroke="#188f8f" stroke-width="7.5"/>
<line x1="1184.4" y1="2161.6" x2="1170.7" y2="2159.1" stroke="#d8202e" stroke-width="7.5"/>
<line x1="1184.4" y1="2161.6" x2="1188.6" y2="2154.8" stroke="#d8202e" stroke-width="7.5"/>
<line x1="1192.9" y1="2148.0" x2="1188.6" y2="2154.8" stroke="#188f8f" stroke-width="7.5"/>
<line x1="1192.9" y1="2148.0" x2="1192.9" y2="2137.0" stroke="#188f8f" stroke-width="7.5"/>
<line x1="1192.9" y1="2125.9" x2="1192.9" y2="2137.0" stroke="#d8202e" stroke-width="7.5"/>
<line x1="1192.9" y1="2148.0" x2="1200.5" y2="2148.9" stroke="#188f8f" stroke-width="7.5"/>
<line x1="1208.2" y1="2149.7" x2="1200.5" y2="2148.9" stroke="#188f8f" stroke-width="7.5"/>
<line x1="1208.2" y1="2149.7" x2="1208.9" y2="2146.1" stroke="#188f8f" stroke-width="7.5"/>
<line x1="1209.6" y1="2142.5" x2="1208.9" y2="2146.1" stroke="#bcbcbc" stroke-width="7.5"/>
<line x1="1208.2" y1="2149.7" x2="1216.7" y2="2159.9" stroke="#188f8f" stroke-width="7.5"/>
<line x1="1225.2" y1="2170.1" x2="1216.7" y2="2159.9" stroke="#188f8f" stroke-width="7.5"/>
<line x1="1225.2" y1="2170.1" x2="1231.0" y2="2167.2" stroke="#188f8f" stroke-width="7.5"/>
<line x1="1236.8" y1="2164.3" x2="1231.0" y2="2167.2" stroke="#bcbcbc" stroke-width="7.5"/>
<line x1="1225.2" y1="2170.1" x2="1222.6" y2="2180.3" stroke="#188f8f" stroke-width="7.5"/>
<line x1="1220.1" y1="2190.5" x2="1222.6" y2="2180.3" stroke="#d8202e" stroke-width="7.5"/>
<line x1="1220.1" y1="2190.5" x2="1229.4" y2="2203.3" stroke="#d8202e" stroke-width="7.5"/>
<line x1="1238.8" y1="2216.1" x2="1229.4" y2="2203.3" stroke="#9a844c" stroke-width="7.5"/>
<line x1="1238.8" y1="2216.1" x2="1249.0" y2="2214.4" stroke="#9a844c" stroke-width="7.5"/>
<line x1="1259.2" y1="2212.7" x2="1249.0" y2="2214.4" stroke="#d8202e" stroke-width="7.5"/>
<line x1="1238.8" y1="2216.1" x2="1233.7" y2="2226.3" stroke="#9a844c" stroke-width="7.5"/>
<line x1="1228.6" y1="2236.5" x2="1233.7" y2="2226.3" stroke="#d8202e" stroke-width="7.5"/>
</g>
<text x="450.0" y="79.5" font-size="44" fill="#333333" textLength="254.7" lengthAdjust="spacingAndGlyphs">One MD Run</text>
<text x="1574.7" y="80.2" font-size="44" fill="#333333" textLength="341.8" lengthAdjust="spacingAndGlyphs">14 MD Replicates</text>
<text x="93.1" y="127.6" font-size="33" fill="#333333" textLength="183.9" lengthAdjust="spacingAndGlyphs">H-bonds (n)</text>
<text x="1276.4" y="127.5" font-size="33" fill="#333333" textLength="164.1" lengthAdjust="spacingAndGlyphs">Frequency</text>
<text x="470.6" y="537.0" font-size="33" fill="#333333" textLength="146.9" lengthAdjust="spacingAndGlyphs">Time (ns)</text>
<text x="1655.2" y="536.4" font-size="34.5" fill="#333333" textLength="303.6" lengthAdjust="spacingAndGlyphs">Number of H-bonds</text>
<text x="60.9" y="554.2" font-size="45.5" fill="#222" font-weight="bold" textLength="31.6" lengthAdjust="spacingAndGlyphs">A</text>
<text x="60.8" y="997.0" font-size="45.5" fill="#222" font-weight="bold" textLength="32.8" lengthAdjust="spacingAndGlyphs">B</text>
<text x="61.5" y="1442.0" font-size="45.5" fill="#222" font-weight="bold" textLength="31.5" lengthAdjust="spacingAndGlyphs">C</text>
<text x="60.3" y="1885.5" font-size="45.5" fill="#222" font-weight="bold" textLength="33.0" lengthAdjust="spacingAndGlyphs">D</text>
<text x="60.4" y="2312.7" font-size="45.5" fill="#222" font-weight="bold" textLength="29.5" lengthAdjust="spacingAndGlyphs">E</text>
<text x="0" y="0" transform="translate(128.3,468.3) rotate(-90)" font-size="46" fill="#333333" textLength="280.1" lengthAdjust="spacingAndGlyphs">A site nt-2 G:C</text>
<text x="0" y="0" transform="translate(127.8,936.8) rotate(-90)" font-size="46" fill="#333333" textLength="344.8" lengthAdjust="spacingAndGlyphs">A site wobble G:U</text>
<text x="0" y="0" transform="translate(133.8,1346.5) rotate(-90)" font-size="46" fill="#333333" textLength="191.8" lengthAdjust="spacingAndGlyphs">C1054:G1</text>
<text x="0" y="0" transform="translate(135.2,1745.2) rotate(-90)" font-size="46" fill="#333333" textLength="192.3" lengthAdjust="spacingAndGlyphs">A1196:C2</text>
<text x="0" y="0" transform="translate(135.0,2197.9) rotate(-90)" font-size="46" fill="#333333" textLength="174.0" lengthAdjust="spacingAndGlyphs">R146:C2</text>
<text x="161.2" y="203.7" font-size="23" fill="#626262" class="tk">3</text>
<text x="160.8" y="291.6" font-size="23" fill="#626262" class="tk">2</text>
<text x="163.8" y="378.0" font-size="23" fill="#626262" class="tk">1</text>
<text x="161.2" y="465.8" font-size="23" fill="#626262" class="tk">0</text>
<text x="160.8" y="669.0" font-size="23" fill="#626262" class="tk">2</text>
<text x="163.8" y="789.8" font-size="23" fill="#626262" class="tk">1</text>
<text x="161.2" y="911.8" font-size="23" fill="#626262" class="tk">0</text>
<text x="161.2" y="1107.8" font-size="23" fill="#626262" class="tk">3</text>
<text x="160.8" y="1194.8" font-size="23" fill="#626262" class="tk">2</text>
<text x="163.8" y="1281.8" font-size="23" fill="#626262" class="tk">1</text>
<text x="161.2" y="1368.8" font-size="23" fill="#626262" class="tk">0</text>
<text x="160.8" y="1572.8" font-size="23" fill="#626262" class="tk">2</text>
<text x="163.8" y="1694.8" font-size="23" fill="#626262" class="tk">1</text>
<text x="161.2" y="1817.8" font-size="23" fill="#626262" class="tk">0</text>
<text x="160.8" y="2020.8" font-size="23" fill="#626262" class="tk">2</text>
<text x="163.8" y="2143.2" font-size="23" fill="#626262" class="tk">1</text>
<text x="161.2" y="2265.8" font-size="23" fill="#626262" class="tk">0</text>
<text x="1535.1" y="168.1" font-size="26.5" fill="#626262" class="tk" textLength="165.2" lengthAdjust="spacingAndGlyphs">St I (655 ns)</text>
<text x="1737.4" y="168.1" font-size="26.5" fill="#626262" class="tk" textLength="171.1" lengthAdjust="spacingAndGlyphs">St II (368 ns)</text>
<text x="1948.3" y="168.1" font-size="26.5" fill="#626262" class="tk" textLength="180.9" lengthAdjust="spacingAndGlyphs">St III (775 ns)</text>
<text x="1533.8" y="211.0" font-size="26.5" fill="#626262" class="tk" textLength="184.7" lengthAdjust="spacingAndGlyphs">St IV (459 ns)</text>
<text x="1756.5" y="211.0" font-size="26.5" fill="#626262" class="tk" textLength="176.6" lengthAdjust="spacingAndGlyphs">St V (740 ns)</text>
<text x="1102.4" y="277.8" font-size="40" fill="#262626" textLength="34.6" lengthAdjust="spacingAndGlyphs">G</text>
<text x="1215.0" y="440.5" font-size="40" fill="#262626" textLength="31.2" lengthAdjust="spacingAndGlyphs">C</text>
<text x="1125.0" y="698.5" font-size="40" fill="#262626" textLength="33.5" lengthAdjust="spacingAndGlyphs">G</text>
<text x="1212.0" y="943.4" font-size="40" fill="#262626" textLength="31.0" lengthAdjust="spacingAndGlyphs">U</text>
<text x="940.4" y="1176.6" font-size="40" fill="#262626" textLength="126.5" lengthAdjust="spacingAndGlyphs">C1054</text>
<text x="1128.0" y="1390.0" font-size="40" fill="#262626" textLength="53.6" lengthAdjust="spacingAndGlyphs">G1</text>
<text x="961.5" y="1671.2" font-size="40" fill="#262626" textLength="122.1" lengthAdjust="spacingAndGlyphs">A1196</text>
<text x="1148.0" y="1845.4" font-size="40" fill="#262626" textLength="56.4" lengthAdjust="spacingAndGlyphs">C2</text>
<text x="992.3" y="2045.0" font-size="40" fill="#262626" textLength="104.3" lengthAdjust="spacingAndGlyphs">R146</text>
<text x="1130.5" y="2253.5" font-size="40" fill="#262626" textLength="54.0" lengthAdjust="spacingAndGlyphs">C2</text>
</svg>
</body></html>
